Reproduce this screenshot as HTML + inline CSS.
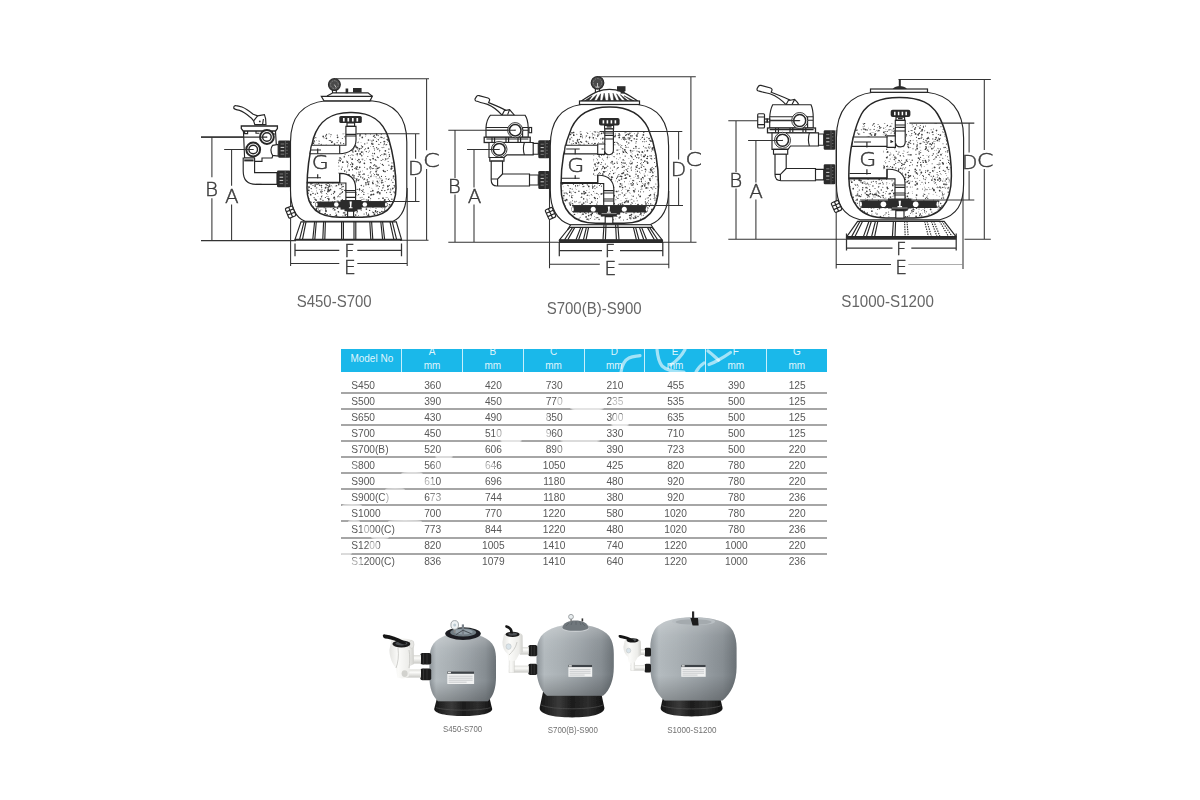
<!DOCTYPE html>
<html lang="en">
<head>
<meta charset="utf-8">
<title>Side mount sand filter - dimensions</title>
<style>
html,body{margin:0;padding:0;background:#fff;}
body{width:1200px;height:800px;position:relative;overflow:hidden;font-family:"Liberation Sans",Arial,sans-serif;}
svg.layer{position:absolute;left:0;top:0;width:1200px;height:800px;display:block;}
#dia{filter:blur(.35px);}
#spec{filter:blur(.3px);}
.ln{stroke:#262626;stroke-width:1.15;fill:none;stroke-linecap:butt;}
.dim{stroke:#333;stroke-width:1.05;fill:none;}
.dimb{stroke:#333;stroke-width:1.25;fill:none;}
.w{fill:#fff;stroke:#262626;stroke-width:1.15;}
.k{fill:#2b2b2b;stroke:none;}
.lt{font-family:"DejaVu Sans Light","DejaVu Sans","Liberation Sans",sans-serif;font-weight:200;fill:#3a3a3a;stroke:#3a3a3a;stroke-width:.45;}
.cap{font-family:"Liberation Sans",Arial,sans-serif;fill:#666;}
.sand circle{fill:#3c3c3c;}
/* table */
#spec{position:absolute;left:341px;top:349.2px;width:486px;border-collapse:collapse;border-spacing:0;table-layout:fixed;font-size:10.2px;color:#585858;}
#spec th{background:#1ab8ea;color:rgba(255,255,255,.88);font-weight:normal;height:23.1px;padding:0;font-size:10px;border-right:1px solid #c9effb;text-align:center;vertical-align:top;}
#spec th:last-child{border-right:none;}
#spec th div{height:23.1px;overflow:hidden;line-height:14px;}
#spec th div span{display:block;margin-top:-4.5px;}
#spec th.m div{text-align:left;padding-left:9.4px;line-height:12px;}
#spec th.m div span{margin-top:3.4px;}
#spec td{height:16.06px;padding:1.85px 0 0 1px;text-align:center;vertical-align:top;line-height:12px;box-sizing:border-box;border-bottom:2px solid #a6a6a6;}
#spec td:first-child{text-align:left;padding-left:10.2px;}
#spec tr.gap td{height:20.8px;padding-top:7.3px;}
#spec tr:last-child td{border-bottom:none;}
</style>
</head>
<body>
<svg id="dia" class="layer" viewBox="0 0 1200 800" width="1200" height="800">
<g id="d1">
<defs>
<clipPath id="cav1"><path d="M350,112.5 C330,112.5 319,121 313.5,138 C309,155 307,170 307,188 C307,207 318,217.3 340,217.3 L362,217.3 C385,217.3 396,207 396,188 C396,170 393.5,155 388.5,138 C383,121 372,112.5 352,112.5 Z"/></clipPath>
<clipPath id="snd1"><path d="M306,133.4 L345.7,133.4 L345.7,145.2 L306,145.2 Z M356.2,133.4 L398,133.4 L398,219 L306,219 L306,183 L345.7,183 C345.7,176 341,173.4 338.4,173.4 L338.4,153.7 C350,153.7 356.2,148 356.2,140 Z"/></clipPath>
</defs>
<!-- dimension lines -->
<path class="dim" d="M201,137.1 H267 M211.9,137.1 V177.2 M211.9,198.2 V240.6 M224.4,149.4 H253 M231.6,149.4 V185.8 M231.6,204.6 V240.6 M201,240.6 H296 M400,240.3 H428.5 M335.5,78.8 H429 M426.6,78.8 V150.3 M426.6,169 V240.3"/>
<path class="dim" d="M290.6,188 V266 M407.2,188 V266 M290.6,263.4 H339.3 M357.3,263.4 H407.2"/>
<path class="dimb" d="M295,243.5 V256.3 M401.5,243.5 V256.3 M295,250.3 H339.3 M357.3,250.3 H401.5"/>
<!-- tank shell -->
<path class="w" d="M326,100.8 C302,103 290.5,118 290.5,142 L290.5,190 C290.5,206 294.5,217 305,221.3 L393,221.3 C403,217 406.8,206 406.8,190 L406.8,142 C406.8,118 396,103 371,100.8 Z"/>
<path class="w" style="stroke-width:1.5" d="M350,112.5 C330,112.5 319,121 313.5,138 C309,155 307,170 307,188 C307,207 318,217.3 340,217.3 L362,217.3 C385,217.3 396,207 396,188 C396,170 393.5,155 388.5,138 C383,121 372,112.5 352,112.5 Z"/>
<g class="sand" clip-path="url(#cav1)"><g clip-path="url(#snd1)"><circle cx="318.2" cy="205.0" r="0.85"/><circle cx="311.7" cy="143.0" r="0.85"/><circle cx="346.9" cy="188.4" r="0.85"/><circle cx="325.1" cy="174.5" r="0.85"/><circle cx="341.5" cy="184.6" r="0.85"/><circle cx="306.2" cy="170.9" r="0.7"/><circle cx="379.0" cy="183.2" r="0.35"/><circle cx="388.0" cy="135.6" r="0.35"/><circle cx="365.1" cy="133.8" r="0.55"/><circle cx="368.5" cy="215.4" r="0.7"/><circle cx="308.6" cy="151.8" r="0.55"/><circle cx="391.5" cy="180.0" r="0.5"/><circle cx="327.0" cy="151.6" r="0.55"/><circle cx="392.7" cy="211.8" r="0.55"/><circle cx="382.2" cy="180.3" r="0.7"/><circle cx="315.1" cy="186.5" r="0.7"/><circle cx="384.3" cy="143.3" r="0.5"/><circle cx="387.5" cy="215.7" r="0.6"/><circle cx="391.2" cy="168.9" r="0.85"/><circle cx="388.8" cy="149.1" r="0.5"/><circle cx="359.5" cy="208.0" r="0.85"/><circle cx="391.6" cy="166.4" r="0.85"/><circle cx="309.1" cy="153.6" r="0.85"/><circle cx="342.8" cy="189.5" r="0.5"/><circle cx="355.9" cy="192.8" r="0.7"/><circle cx="373.2" cy="140.3" r="0.7"/><circle cx="352.3" cy="199.2" r="0.6"/><circle cx="382.4" cy="164.5" r="0.7"/><circle cx="308.7" cy="136.7" r="0.7"/><circle cx="383.2" cy="185.3" r="0.6"/><circle cx="341.8" cy="147.5" r="0.6"/><circle cx="326.7" cy="134.0" r="0.45"/><circle cx="355.1" cy="206.1" r="0.45"/><circle cx="342.8" cy="162.2" r="0.85"/><circle cx="358.6" cy="172.0" r="0.5"/><circle cx="366.0" cy="184.8" r="0.7"/><circle cx="306.5" cy="199.6" r="0.85"/><circle cx="392.9" cy="212.8" r="0.6"/><circle cx="379.6" cy="177.1" r="0.6"/><circle cx="324.7" cy="213.7" r="0.55"/><circle cx="385.2" cy="181.4" r="0.45"/><circle cx="391.6" cy="168.1" r="0.85"/><circle cx="338.5" cy="162.4" r="0.6"/><circle cx="355.1" cy="199.8" r="0.5"/><circle cx="347.7" cy="135.4" r="0.45"/><circle cx="363.8" cy="179.8" r="0.45"/><circle cx="384.4" cy="200.9" r="0.85"/><circle cx="383.5" cy="212.1" r="0.35"/><circle cx="382.6" cy="190.2" r="0.35"/><circle cx="385.0" cy="171.5" r="0.85"/><circle cx="374.8" cy="154.2" r="0.35"/><circle cx="378.6" cy="148.7" r="0.5"/><circle cx="312.3" cy="146.6" r="0.6"/><circle cx="392.6" cy="188.8" r="0.7"/><circle cx="370.8" cy="171.6" r="0.5"/><circle cx="351.2" cy="142.7" r="0.5"/><circle cx="341.2" cy="168.8" r="0.45"/><circle cx="329.5" cy="154.5" r="0.7"/><circle cx="352.4" cy="150.8" r="0.6"/><circle cx="345.3" cy="215.9" r="0.45"/><circle cx="307.6" cy="145.4" r="0.7"/><circle cx="393.4" cy="170.9" r="0.6"/><circle cx="367.7" cy="179.3" r="0.45"/><circle cx="394.9" cy="186.6" r="0.7"/><circle cx="353.0" cy="152.0" r="0.7"/><circle cx="308.8" cy="190.4" r="0.85"/><circle cx="335.2" cy="186.6" r="0.35"/><circle cx="373.1" cy="143.7" r="0.45"/><circle cx="385.7" cy="159.0" r="0.85"/><circle cx="313.0" cy="211.0" r="0.5"/><circle cx="373.7" cy="168.4" r="0.5"/><circle cx="317.9" cy="180.7" r="0.85"/><circle cx="309.5" cy="202.7" r="0.6"/><circle cx="347.9" cy="203.4" r="0.85"/><circle cx="394.6" cy="192.8" r="0.6"/><circle cx="309.4" cy="150.0" r="0.35"/><circle cx="324.7" cy="190.3" r="0.55"/><circle cx="359.8" cy="174.8" r="0.7"/><circle cx="341.5" cy="175.8" r="0.35"/><circle cx="335.6" cy="207.1" r="0.5"/><circle cx="307.6" cy="150.1" r="0.5"/><circle cx="379.8" cy="180.9" r="0.45"/><circle cx="336.9" cy="151.1" r="0.7"/><circle cx="314.8" cy="165.2" r="0.6"/><circle cx="337.3" cy="208.0" r="0.7"/><circle cx="354.6" cy="198.3" r="0.6"/><circle cx="327.4" cy="194.7" r="0.35"/><circle cx="318.1" cy="147.2" r="0.6"/><circle cx="325.4" cy="197.5" r="0.6"/><circle cx="352.0" cy="154.7" r="0.5"/><circle cx="337.0" cy="157.8" r="0.85"/><circle cx="391.9" cy="199.3" r="0.7"/><circle cx="386.7" cy="144.5" r="0.6"/><circle cx="376.1" cy="160.3" r="0.55"/><circle cx="312.7" cy="206.6" r="0.85"/><circle cx="319.4" cy="143.6" r="0.35"/><circle cx="362.0" cy="199.5" r="0.55"/><circle cx="313.0" cy="179.8" r="0.6"/><circle cx="313.4" cy="155.7" r="0.5"/><circle cx="357.4" cy="211.6" r="0.55"/><circle cx="387.6" cy="142.2" r="0.35"/><circle cx="381.3" cy="134.1" r="0.7"/><circle cx="307.3" cy="168.2" r="0.85"/><circle cx="386.5" cy="136.4" r="0.45"/><circle cx="377.5" cy="182.9" r="0.45"/><circle cx="316.5" cy="147.2" r="0.45"/><circle cx="320.5" cy="204.8" r="0.55"/><circle cx="388.9" cy="165.2" r="0.6"/><circle cx="388.7" cy="158.0" r="0.5"/><circle cx="370.8" cy="159.7" r="0.45"/><circle cx="365.3" cy="136.4" r="0.35"/><circle cx="377.6" cy="211.7" r="0.7"/><circle cx="360.3" cy="171.2" r="0.5"/><circle cx="342.3" cy="138.5" r="0.5"/><circle cx="394.3" cy="215.4" r="0.35"/><circle cx="328.8" cy="199.7" r="0.85"/><circle cx="395.2" cy="179.1" r="0.7"/><circle cx="348.7" cy="163.2" r="0.45"/><circle cx="355.3" cy="159.1" r="0.45"/><circle cx="338.8" cy="202.7" r="0.35"/><circle cx="395.5" cy="171.1" r="0.7"/><circle cx="358.3" cy="161.8" r="0.45"/><circle cx="341.5" cy="159.1" r="0.5"/><circle cx="323.0" cy="200.4" r="0.6"/><circle cx="387.3" cy="158.7" r="0.5"/><circle cx="315.2" cy="185.0" r="0.85"/><circle cx="360.2" cy="153.8" r="0.35"/><circle cx="379.6" cy="167.2" r="0.5"/><circle cx="356.2" cy="139.0" r="0.35"/><circle cx="308.0" cy="133.8" r="0.85"/><circle cx="378.1" cy="174.9" r="0.85"/><circle cx="384.2" cy="141.6" r="0.85"/><circle cx="378.3" cy="139.6" r="0.7"/><circle cx="321.8" cy="199.0" r="0.45"/><circle cx="380.8" cy="160.2" r="0.35"/><circle cx="370.5" cy="203.9" r="0.6"/><circle cx="332.7" cy="209.0" r="0.45"/><circle cx="355.6" cy="194.4" r="0.85"/><circle cx="334.8" cy="209.8" r="0.85"/><circle cx="367.2" cy="180.0" r="0.7"/><circle cx="395.8" cy="150.5" r="0.5"/><circle cx="345.4" cy="146.4" r="0.7"/><circle cx="384.5" cy="154.0" r="0.85"/><circle cx="311.9" cy="214.9" r="0.85"/><circle cx="345.1" cy="154.3" r="0.55"/><circle cx="383.5" cy="171.5" r="0.55"/><circle cx="382.1" cy="147.6" r="0.55"/><circle cx="308.2" cy="187.9" r="0.55"/><circle cx="394.8" cy="134.6" r="0.7"/><circle cx="338.3" cy="144.8" r="0.45"/><circle cx="318.6" cy="216.6" r="0.5"/><circle cx="342.2" cy="167.1" r="0.6"/><circle cx="314.1" cy="174.3" r="0.45"/><circle cx="354.1" cy="175.6" r="0.7"/><circle cx="389.8" cy="212.1" r="0.7"/><circle cx="372.6" cy="153.3" r="0.55"/><circle cx="368.5" cy="214.3" r="0.7"/><circle cx="343.5" cy="180.6" r="0.7"/><circle cx="389.5" cy="156.4" r="0.7"/><circle cx="326.0" cy="211.3" r="0.85"/><circle cx="352.6" cy="207.6" r="0.45"/><circle cx="352.6" cy="200.4" r="0.45"/><circle cx="334.4" cy="191.9" r="0.85"/><circle cx="356.3" cy="147.0" r="0.7"/><circle cx="373.0" cy="183.5" r="0.85"/><circle cx="317.2" cy="184.5" r="0.6"/><circle cx="358.0" cy="148.0" r="0.5"/><circle cx="344.8" cy="213.0" r="0.7"/><circle cx="375.0" cy="137.4" r="0.7"/><circle cx="341.8" cy="187.1" r="0.55"/><circle cx="352.9" cy="147.0" r="0.7"/><circle cx="396.5" cy="177.6" r="0.35"/><circle cx="379.5" cy="186.4" r="0.5"/><circle cx="373.1" cy="140.1" r="0.45"/><circle cx="394.2" cy="185.4" r="0.7"/><circle cx="368.5" cy="140.0" r="0.85"/><circle cx="390.1" cy="215.6" r="0.55"/><circle cx="391.5" cy="209.8" r="0.55"/><circle cx="321.0" cy="160.7" r="0.45"/><circle cx="362.6" cy="174.5" r="0.45"/><circle cx="316.8" cy="184.1" r="0.55"/><circle cx="388.7" cy="189.1" r="0.5"/><circle cx="328.6" cy="196.7" r="0.35"/><circle cx="393.3" cy="177.9" r="0.6"/><circle cx="307.9" cy="186.3" r="0.6"/><circle cx="328.0" cy="155.1" r="0.45"/><circle cx="331.9" cy="179.1" r="0.5"/><circle cx="334.3" cy="197.4" r="0.85"/><circle cx="368.2" cy="200.2" r="0.85"/><circle cx="383.8" cy="147.3" r="0.5"/><circle cx="350.7" cy="205.7" r="0.85"/><circle cx="325.0" cy="207.7" r="0.45"/><circle cx="331.8" cy="142.2" r="0.85"/><circle cx="308.2" cy="181.4" r="0.35"/><circle cx="355.6" cy="215.0" r="0.85"/><circle cx="371.9" cy="188.2" r="0.35"/><circle cx="351.5" cy="181.7" r="0.5"/><circle cx="345.8" cy="190.6" r="0.85"/><circle cx="354.1" cy="133.1" r="0.55"/><circle cx="371.3" cy="162.8" r="0.6"/><circle cx="342.3" cy="199.6" r="0.7"/><circle cx="358.0" cy="142.6" r="0.55"/><circle cx="340.8" cy="180.3" r="0.5"/><circle cx="363.8" cy="194.4" r="0.7"/><circle cx="381.5" cy="176.4" r="0.55"/><circle cx="360.7" cy="176.9" r="0.7"/><circle cx="370.8" cy="216.9" r="0.7"/><circle cx="321.5" cy="185.7" r="0.6"/><circle cx="324.0" cy="177.7" r="0.7"/><circle cx="341.4" cy="169.2" r="0.55"/><circle cx="336.6" cy="185.8" r="0.7"/><circle cx="369.7" cy="215.2" r="0.35"/><circle cx="350.8" cy="196.4" r="0.7"/><circle cx="394.0" cy="157.7" r="0.35"/><circle cx="343.0" cy="186.5" r="0.7"/><circle cx="376.9" cy="166.8" r="0.5"/><circle cx="383.0" cy="198.2" r="0.85"/><circle cx="376.6" cy="133.9" r="0.5"/><circle cx="378.6" cy="167.9" r="0.7"/><circle cx="355.5" cy="145.9" r="0.85"/><circle cx="329.6" cy="147.4" r="0.6"/><circle cx="310.1" cy="176.4" r="0.7"/><circle cx="359.7" cy="138.9" r="0.35"/><circle cx="365.8" cy="134.7" r="0.6"/><circle cx="370.6" cy="146.7" r="0.35"/><circle cx="342.6" cy="191.6" r="0.6"/><circle cx="333.7" cy="177.9" r="0.45"/><circle cx="386.6" cy="155.9" r="0.35"/><circle cx="369.6" cy="210.4" r="0.7"/><circle cx="339.5" cy="176.5" r="0.7"/><circle cx="310.5" cy="158.2" r="0.7"/><circle cx="370.9" cy="202.3" r="0.5"/><circle cx="338.4" cy="195.9" r="0.55"/><circle cx="357.1" cy="147.7" r="0.85"/><circle cx="329.6" cy="184.9" r="0.7"/><circle cx="326.2" cy="214.9" r="0.7"/><circle cx="328.2" cy="189.2" r="0.85"/><circle cx="387.8" cy="185.9" r="0.5"/><circle cx="390.4" cy="212.3" r="0.45"/><circle cx="377.5" cy="149.1" r="0.7"/><circle cx="372.6" cy="207.0" r="0.6"/><circle cx="346.4" cy="210.6" r="0.7"/><circle cx="319.5" cy="213.4" r="0.55"/><circle cx="353.9" cy="144.8" r="0.45"/><circle cx="387.3" cy="170.5" r="0.5"/><circle cx="374.4" cy="153.4" r="0.7"/><circle cx="324.8" cy="190.9" r="0.35"/><circle cx="315.7" cy="166.7" r="0.55"/><circle cx="390.5" cy="214.2" r="0.35"/><circle cx="311.0" cy="183.8" r="0.85"/><circle cx="325.7" cy="136.0" r="0.7"/><circle cx="354.1" cy="194.5" r="0.6"/><circle cx="346.2" cy="189.3" r="0.5"/><circle cx="316.7" cy="191.9" r="0.35"/><circle cx="326.2" cy="152.8" r="0.55"/><circle cx="340.4" cy="147.3" r="0.45"/><circle cx="327.5" cy="157.1" r="0.6"/><circle cx="358.8" cy="151.0" r="0.7"/><circle cx="329.5" cy="175.2" r="0.35"/><circle cx="388.8" cy="217.5" r="0.35"/><circle cx="307.4" cy="133.4" r="0.55"/><circle cx="335.1" cy="165.6" r="0.6"/><circle cx="332.1" cy="149.7" r="0.45"/><circle cx="386.1" cy="197.5" r="0.45"/><circle cx="378.2" cy="135.6" r="0.55"/><circle cx="319.2" cy="189.5" r="0.35"/><circle cx="357.4" cy="154.6" r="0.35"/><circle cx="348.1" cy="204.4" r="0.35"/><circle cx="309.2" cy="138.2" r="0.85"/><circle cx="317.7" cy="212.3" r="0.85"/><circle cx="316.7" cy="140.7" r="0.35"/><circle cx="351.5" cy="144.1" r="0.5"/><circle cx="368.5" cy="204.9" r="0.7"/><circle cx="346.7" cy="161.0" r="0.5"/><circle cx="394.2" cy="187.5" r="0.45"/><circle cx="328.3" cy="183.0" r="0.85"/><circle cx="359.7" cy="162.7" r="0.6"/><circle cx="369.5" cy="187.3" r="0.35"/><circle cx="388.4" cy="179.5" r="0.6"/><circle cx="324.1" cy="207.8" r="0.55"/><circle cx="389.7" cy="139.0" r="0.5"/><circle cx="373.6" cy="194.3" r="0.85"/><circle cx="312.6" cy="148.1" r="0.35"/><circle cx="319.7" cy="211.1" r="0.85"/><circle cx="345.0" cy="136.8" r="0.7"/><circle cx="314.3" cy="202.1" r="0.55"/><circle cx="351.6" cy="141.4" r="0.5"/><circle cx="309.7" cy="178.2" r="0.55"/><circle cx="366.4" cy="209.1" r="0.85"/><circle cx="370.4" cy="208.0" r="0.35"/><circle cx="373.0" cy="155.9" r="0.5"/><circle cx="378.8" cy="140.3" r="0.35"/><circle cx="384.2" cy="137.9" r="0.5"/><circle cx="334.5" cy="144.1" r="0.85"/><circle cx="340.6" cy="143.0" r="0.7"/><circle cx="333.6" cy="169.1" r="0.45"/><circle cx="351.7" cy="150.5" r="0.5"/><circle cx="352.3" cy="166.2" r="0.6"/><circle cx="349.8" cy="144.0" r="0.85"/><circle cx="346.8" cy="217.0" r="0.7"/><circle cx="382.8" cy="182.4" r="0.6"/><circle cx="354.7" cy="209.2" r="0.85"/><circle cx="396.2" cy="196.2" r="0.45"/><circle cx="339.7" cy="177.3" r="0.35"/><circle cx="343.3" cy="143.7" r="0.35"/><circle cx="310.0" cy="202.3" r="0.7"/><circle cx="354.6" cy="168.5" r="0.5"/><circle cx="338.1" cy="160.6" r="0.7"/><circle cx="353.3" cy="133.7" r="0.35"/><circle cx="319.5" cy="210.7" r="0.5"/><circle cx="377.4" cy="181.7" r="0.55"/><circle cx="395.1" cy="173.8" r="0.5"/><circle cx="390.4" cy="215.4" r="0.85"/><circle cx="387.0" cy="139.6" r="0.6"/><circle cx="378.9" cy="144.4" r="0.6"/><circle cx="350.8" cy="205.5" r="0.5"/><circle cx="377.3" cy="192.7" r="0.7"/><circle cx="336.8" cy="217.2" r="0.85"/><circle cx="364.6" cy="167.2" r="0.55"/><circle cx="360.4" cy="161.9" r="0.6"/><circle cx="321.3" cy="145.6" r="0.7"/><circle cx="326.1" cy="144.3" r="0.35"/><circle cx="322.8" cy="167.9" r="0.7"/><circle cx="362.4" cy="202.0" r="0.6"/><circle cx="368.0" cy="193.7" r="0.45"/><circle cx="329.8" cy="186.7" r="0.6"/><circle cx="364.3" cy="205.7" r="0.85"/><circle cx="383.4" cy="187.7" r="0.45"/><circle cx="352.5" cy="169.7" r="0.6"/><circle cx="339.5" cy="205.0" r="0.7"/><circle cx="379.5" cy="151.7" r="0.45"/><circle cx="360.4" cy="206.6" r="0.45"/><circle cx="344.7" cy="190.4" r="0.6"/><circle cx="389.0" cy="149.1" r="0.55"/><circle cx="372.0" cy="202.2" r="0.5"/><circle cx="343.1" cy="133.7" r="0.6"/><circle cx="376.1" cy="176.7" r="0.55"/><circle cx="313.0" cy="185.3" r="0.6"/><circle cx="378.5" cy="182.7" r="0.35"/><circle cx="338.0" cy="217.0" r="0.35"/><circle cx="323.3" cy="158.4" r="0.7"/><circle cx="364.4" cy="179.0" r="0.85"/><circle cx="333.5" cy="208.4" r="0.7"/><circle cx="334.7" cy="199.0" r="0.7"/><circle cx="358.0" cy="179.9" r="0.6"/><circle cx="343.4" cy="212.9" r="0.6"/><circle cx="343.2" cy="186.5" r="0.5"/><circle cx="347.2" cy="144.1" r="0.55"/><circle cx="359.4" cy="179.7" r="0.45"/><circle cx="329.0" cy="133.8" r="0.55"/><circle cx="373.0" cy="181.1" r="0.5"/><circle cx="344.3" cy="156.9" r="0.7"/><circle cx="387.5" cy="189.9" r="0.35"/><circle cx="390.2" cy="204.9" r="0.55"/><circle cx="330.5" cy="156.1" r="0.85"/><circle cx="339.9" cy="196.7" r="0.55"/><circle cx="375.9" cy="166.0" r="0.85"/><circle cx="316.6" cy="163.1" r="0.55"/><circle cx="319.5" cy="217.6" r="0.85"/><circle cx="329.7" cy="205.9" r="0.6"/><circle cx="377.5" cy="213.7" r="0.55"/><circle cx="329.5" cy="176.7" r="0.7"/><circle cx="344.3" cy="156.3" r="0.5"/><circle cx="376.7" cy="174.3" r="0.7"/><circle cx="381.5" cy="213.7" r="0.55"/><circle cx="371.2" cy="140.8" r="0.45"/><circle cx="324.8" cy="145.7" r="0.7"/><circle cx="308.4" cy="154.5" r="0.55"/><circle cx="376.5" cy="141.4" r="0.7"/><circle cx="371.8" cy="203.9" r="0.35"/><circle cx="344.9" cy="214.2" r="0.35"/><circle cx="356.0" cy="178.4" r="0.5"/><circle cx="310.3" cy="188.4" r="0.35"/><circle cx="372.8" cy="190.7" r="0.85"/><circle cx="367.1" cy="143.1" r="0.5"/><circle cx="368.3" cy="148.2" r="0.85"/><circle cx="378.2" cy="205.9" r="0.85"/><circle cx="325.5" cy="187.8" r="0.85"/><circle cx="341.5" cy="189.8" r="0.5"/><circle cx="368.1" cy="175.3" r="0.55"/><circle cx="316.6" cy="205.6" r="0.35"/><circle cx="319.6" cy="185.2" r="0.7"/><circle cx="324.3" cy="177.3" r="0.55"/><circle cx="373.6" cy="212.5" r="0.6"/><circle cx="332.3" cy="174.9" r="0.85"/><circle cx="355.6" cy="151.2" r="0.85"/><circle cx="362.7" cy="206.2" r="0.35"/><circle cx="306.8" cy="217.1" r="0.7"/><circle cx="337.6" cy="208.2" r="0.7"/><circle cx="330.3" cy="178.9" r="0.55"/><circle cx="333.3" cy="209.9" r="0.35"/><circle cx="326.8" cy="156.3" r="0.7"/><circle cx="328.4" cy="145.6" r="0.5"/><circle cx="323.8" cy="180.7" r="0.6"/><circle cx="388.2" cy="138.0" r="0.85"/><circle cx="361.4" cy="145.7" r="0.55"/><circle cx="330.6" cy="173.8" r="0.5"/><circle cx="330.3" cy="151.2" r="0.5"/><circle cx="360.5" cy="153.5" r="0.45"/><circle cx="361.1" cy="148.4" r="0.6"/><circle cx="369.2" cy="178.5" r="0.35"/><circle cx="351.9" cy="177.9" r="0.45"/><circle cx="364.7" cy="202.0" r="0.45"/><circle cx="334.7" cy="175.0" r="0.5"/><circle cx="316.8" cy="208.4" r="0.7"/><circle cx="329.3" cy="140.5" r="0.6"/><circle cx="381.4" cy="137.3" r="0.45"/><circle cx="368.3" cy="152.2" r="0.45"/><circle cx="351.8" cy="189.1" r="0.5"/><circle cx="344.4" cy="133.4" r="0.35"/><circle cx="380.8" cy="202.9" r="0.45"/><circle cx="313.7" cy="152.1" r="0.7"/><circle cx="362.9" cy="206.2" r="0.5"/><circle cx="360.7" cy="177.1" r="0.35"/><circle cx="317.1" cy="162.5" r="0.35"/><circle cx="328.8" cy="198.4" r="0.7"/><circle cx="358.2" cy="162.5" r="0.35"/><circle cx="372.0" cy="141.8" r="0.5"/><circle cx="328.7" cy="178.0" r="0.5"/><circle cx="308.8" cy="144.8" r="0.55"/><circle cx="339.9" cy="194.2" r="0.7"/><circle cx="328.0" cy="190.8" r="0.5"/><circle cx="306.7" cy="208.5" r="0.35"/><circle cx="338.1" cy="201.3" r="0.7"/><circle cx="371.9" cy="143.7" r="0.85"/><circle cx="330.7" cy="140.7" r="0.6"/><circle cx="362.5" cy="177.9" r="0.6"/><circle cx="344.1" cy="212.4" r="0.5"/><circle cx="387.7" cy="186.8" r="0.6"/><circle cx="318.1" cy="184.0" r="0.35"/><circle cx="321.9" cy="151.3" r="0.55"/><circle cx="331.0" cy="134.7" r="0.6"/><circle cx="330.7" cy="178.1" r="0.55"/><circle cx="317.5" cy="193.3" r="0.7"/><circle cx="340.0" cy="188.6" r="0.6"/><circle cx="339.0" cy="180.2" r="0.85"/><circle cx="371.8" cy="191.2" r="0.35"/><circle cx="362.3" cy="170.9" r="0.45"/><circle cx="320.2" cy="210.6" r="0.45"/><circle cx="367.6" cy="203.3" r="0.55"/><circle cx="382.6" cy="205.1" r="0.5"/><circle cx="339.2" cy="157.8" r="0.45"/><circle cx="383.3" cy="165.4" r="0.55"/><circle cx="342.9" cy="216.0" r="0.45"/><circle cx="330.5" cy="189.7" r="0.85"/><circle cx="364.1" cy="214.0" r="0.6"/><circle cx="392.7" cy="211.2" r="0.7"/><circle cx="318.1" cy="196.5" r="0.35"/><circle cx="347.8" cy="199.2" r="0.6"/><circle cx="367.8" cy="156.5" r="0.5"/><circle cx="343.2" cy="184.5" r="0.35"/><circle cx="315.0" cy="199.2" r="0.7"/><circle cx="370.1" cy="133.1" r="0.35"/><circle cx="381.7" cy="182.9" r="0.6"/><circle cx="352.2" cy="163.3" r="0.5"/><circle cx="377.2" cy="181.3" r="0.7"/><circle cx="338.4" cy="173.3" r="0.7"/><circle cx="328.3" cy="201.7" r="0.45"/><circle cx="315.6" cy="213.9" r="0.85"/><circle cx="320.4" cy="199.0" r="0.7"/><circle cx="334.5" cy="207.8" r="0.5"/><circle cx="329.1" cy="186.2" r="0.85"/><circle cx="389.3" cy="185.4" r="0.55"/><circle cx="340.2" cy="158.0" r="0.85"/><circle cx="337.1" cy="200.8" r="0.45"/><circle cx="363.8" cy="177.1" r="0.35"/><circle cx="337.1" cy="142.6" r="0.6"/><circle cx="321.7" cy="187.6" r="0.55"/><circle cx="387.4" cy="197.4" r="0.35"/><circle cx="394.7" cy="134.8" r="0.45"/><circle cx="340.9" cy="203.9" r="0.45"/><circle cx="342.1" cy="152.4" r="0.45"/><circle cx="336.5" cy="215.4" r="0.7"/><circle cx="328.3" cy="190.5" r="0.7"/><circle cx="348.9" cy="174.9" r="0.85"/><circle cx="366.3" cy="212.6" r="0.55"/><circle cx="346.1" cy="179.1" r="0.6"/><circle cx="350.4" cy="155.6" r="0.45"/><circle cx="319.6" cy="165.0" r="0.35"/><circle cx="378.7" cy="188.5" r="0.45"/><circle cx="347.8" cy="165.0" r="0.6"/><circle cx="378.6" cy="157.5" r="0.45"/><circle cx="320.0" cy="177.6" r="0.35"/><circle cx="392.2" cy="134.6" r="0.55"/><circle cx="379.8" cy="192.9" r="0.85"/><circle cx="389.1" cy="178.7" r="0.55"/><circle cx="396.2" cy="179.3" r="0.45"/><circle cx="395.4" cy="210.1" r="0.7"/><circle cx="322.3" cy="189.3" r="0.35"/><circle cx="376.5" cy="212.5" r="0.45"/><circle cx="322.0" cy="182.8" r="0.6"/><circle cx="325.7" cy="153.0" r="0.35"/><circle cx="391.2" cy="194.6" r="0.7"/><circle cx="351.9" cy="185.0" r="0.6"/><circle cx="313.0" cy="166.8" r="0.55"/><circle cx="316.8" cy="187.7" r="0.55"/><circle cx="314.2" cy="141.0" r="0.85"/><circle cx="349.6" cy="216.1" r="0.45"/><circle cx="376.7" cy="134.8" r="0.85"/><circle cx="334.4" cy="156.6" r="0.55"/><circle cx="321.2" cy="144.3" r="0.6"/><circle cx="370.4" cy="160.1" r="0.6"/><circle cx="363.9" cy="217.3" r="0.85"/><circle cx="344.0" cy="147.2" r="0.55"/><circle cx="369.6" cy="201.7" r="0.55"/><circle cx="380.3" cy="163.6" r="0.45"/><circle cx="329.6" cy="156.8" r="0.45"/><circle cx="377.0" cy="185.9" r="0.7"/><circle cx="338.8" cy="211.9" r="0.5"/><circle cx="329.2" cy="162.7" r="0.5"/><circle cx="357.5" cy="134.1" r="0.45"/><circle cx="393.3" cy="152.2" r="0.35"/><circle cx="379.0" cy="178.7" r="0.45"/><circle cx="355.4" cy="193.9" r="0.45"/><circle cx="358.6" cy="180.1" r="0.55"/><circle cx="370.7" cy="140.0" r="0.35"/><circle cx="319.9" cy="189.7" r="0.35"/><circle cx="373.9" cy="165.5" r="0.7"/><circle cx="318.5" cy="183.7" r="0.7"/><circle cx="355.0" cy="139.3" r="0.45"/><circle cx="383.3" cy="144.9" r="0.45"/><circle cx="366.2" cy="216.9" r="0.5"/><circle cx="374.2" cy="148.2" r="0.5"/><circle cx="370.5" cy="162.6" r="0.6"/><circle cx="332.6" cy="176.7" r="0.5"/><circle cx="325.0" cy="172.4" r="0.5"/><circle cx="378.8" cy="185.9" r="0.35"/><circle cx="362.0" cy="197.2" r="0.5"/><circle cx="362.3" cy="137.4" r="0.85"/><circle cx="334.7" cy="202.0" r="0.7"/><circle cx="380.8" cy="142.6" r="0.55"/><circle cx="363.6" cy="153.9" r="0.45"/><circle cx="351.9" cy="166.7" r="0.7"/><circle cx="325.3" cy="213.5" r="0.7"/><circle cx="390.0" cy="144.4" r="0.7"/><circle cx="358.6" cy="194.6" r="0.7"/><circle cx="317.0" cy="150.1" r="0.85"/><circle cx="357.2" cy="189.4" r="0.6"/><circle cx="361.8" cy="155.8" r="0.7"/><circle cx="321.3" cy="190.0" r="0.6"/><circle cx="351.8" cy="205.7" r="0.5"/><circle cx="376.0" cy="168.8" r="0.5"/><circle cx="351.0" cy="189.9" r="0.85"/><circle cx="317.8" cy="180.6" r="0.55"/><circle cx="374.6" cy="174.5" r="0.55"/><circle cx="380.9" cy="178.8" r="0.5"/><circle cx="388.6" cy="141.0" r="0.7"/><circle cx="373.9" cy="204.9" r="0.85"/><circle cx="346.2" cy="214.3" r="0.6"/><circle cx="351.7" cy="205.0" r="0.55"/><circle cx="353.5" cy="149.8" r="0.5"/><circle cx="365.9" cy="182.8" r="0.85"/><circle cx="376.7" cy="138.5" r="0.35"/><circle cx="347.7" cy="203.9" r="0.45"/><circle cx="387.1" cy="205.6" r="0.5"/><circle cx="348.7" cy="182.6" r="0.35"/><circle cx="396.1" cy="204.0" r="0.55"/><circle cx="314.4" cy="167.0" r="0.6"/><circle cx="382.6" cy="187.9" r="0.55"/><circle cx="330.4" cy="162.9" r="0.35"/><circle cx="356.2" cy="210.3" r="0.55"/><circle cx="307.6" cy="158.9" r="0.7"/><circle cx="334.9" cy="145.7" r="0.6"/><circle cx="356.6" cy="217.7" r="0.35"/><circle cx="384.7" cy="199.9" r="0.85"/><circle cx="338.8" cy="166.2" r="0.6"/><circle cx="378.0" cy="181.9" r="0.35"/><circle cx="309.4" cy="178.0" r="0.35"/><circle cx="388.1" cy="161.6" r="0.5"/><circle cx="374.3" cy="135.9" r="0.5"/><circle cx="359.0" cy="174.2" r="0.7"/><circle cx="313.6" cy="178.9" r="0.5"/><circle cx="351.5" cy="201.9" r="0.35"/><circle cx="390.0" cy="210.3" r="0.5"/><circle cx="325.5" cy="209.2" r="0.45"/><circle cx="359.7" cy="167.3" r="0.85"/><circle cx="352.3" cy="202.8" r="0.5"/><circle cx="383.5" cy="184.8" r="0.35"/><circle cx="370.7" cy="198.2" r="0.45"/><circle cx="380.6" cy="155.6" r="0.55"/><circle cx="356.1" cy="181.8" r="0.6"/><circle cx="313.6" cy="193.2" r="0.5"/><circle cx="343.7" cy="143.7" r="0.6"/><circle cx="372.1" cy="155.3" r="0.45"/><circle cx="315.0" cy="194.3" r="0.35"/><circle cx="373.1" cy="158.6" r="0.85"/><circle cx="379.8" cy="150.3" r="0.6"/><circle cx="312.8" cy="159.8" r="0.5"/><circle cx="384.2" cy="144.3" r="0.55"/><circle cx="380.1" cy="200.9" r="0.35"/><circle cx="308.6" cy="159.8" r="0.7"/><circle cx="320.9" cy="180.3" r="0.7"/><circle cx="359.5" cy="189.4" r="0.85"/><circle cx="353.9" cy="148.7" r="0.45"/><circle cx="327.2" cy="182.9" r="0.6"/><circle cx="352.1" cy="194.3" r="0.55"/><circle cx="323.9" cy="137.7" r="0.55"/><circle cx="336.5" cy="214.9" r="0.7"/><circle cx="338.3" cy="211.7" r="0.7"/><circle cx="306.9" cy="216.4" r="0.35"/><circle cx="321.0" cy="209.4" r="0.35"/><circle cx="306.8" cy="198.0" r="0.35"/><circle cx="353.7" cy="147.7" r="0.6"/><circle cx="324.2" cy="170.7" r="0.45"/><circle cx="350.6" cy="164.6" r="0.55"/><circle cx="391.9" cy="139.2" r="0.6"/><circle cx="322.5" cy="191.2" r="0.5"/><circle cx="392.9" cy="182.4" r="0.6"/><circle cx="349.1" cy="135.0" r="0.35"/><circle cx="390.6" cy="189.0" r="0.6"/><circle cx="366.5" cy="213.9" r="0.55"/><circle cx="381.3" cy="182.5" r="0.5"/><circle cx="312.7" cy="168.7" r="0.7"/><circle cx="352.8" cy="175.0" r="0.85"/><circle cx="381.7" cy="180.9" r="0.6"/><circle cx="391.5" cy="205.7" r="0.6"/><circle cx="367.9" cy="181.9" r="0.85"/><circle cx="375.9" cy="184.3" r="0.45"/><circle cx="381.7" cy="190.4" r="0.6"/><circle cx="333.4" cy="198.0" r="0.55"/><circle cx="361.3" cy="155.0" r="0.5"/><circle cx="307.3" cy="197.4" r="0.85"/><circle cx="347.6" cy="208.8" r="0.45"/><circle cx="352.2" cy="150.8" r="0.55"/><circle cx="390.2" cy="192.2" r="0.7"/><circle cx="319.2" cy="206.3" r="0.35"/><circle cx="364.4" cy="163.3" r="0.85"/><circle cx="389.3" cy="154.7" r="0.6"/><circle cx="373.5" cy="159.0" r="0.35"/><circle cx="335.5" cy="159.2" r="0.85"/><circle cx="381.0" cy="137.2" r="0.7"/><circle cx="313.4" cy="143.2" r="0.85"/><circle cx="364.7" cy="143.9" r="0.7"/><circle cx="332.8" cy="167.8" r="0.5"/><circle cx="327.2" cy="214.8" r="0.7"/><circle cx="368.8" cy="197.2" r="0.85"/><circle cx="351.9" cy="181.8" r="0.5"/><circle cx="333.5" cy="165.1" r="0.6"/><circle cx="394.5" cy="201.9" r="0.85"/><circle cx="312.8" cy="149.9" r="0.45"/><circle cx="361.3" cy="185.5" r="0.7"/><circle cx="326.4" cy="193.6" r="0.55"/><circle cx="325.1" cy="145.9" r="0.5"/><circle cx="373.7" cy="207.7" r="0.35"/><circle cx="370.9" cy="191.4" r="0.55"/><circle cx="351.3" cy="190.4" r="0.35"/><circle cx="396.3" cy="170.1" r="0.5"/><circle cx="385.6" cy="176.6" r="0.5"/><circle cx="391.5" cy="142.5" r="0.7"/><circle cx="332.6" cy="179.6" r="0.5"/><circle cx="345.1" cy="204.6" r="0.85"/><circle cx="313.9" cy="174.8" r="0.6"/><circle cx="326.1" cy="184.5" r="0.7"/><circle cx="374.2" cy="217.1" r="0.5"/><circle cx="345.7" cy="199.7" r="0.35"/><circle cx="315.3" cy="176.8" r="0.6"/><circle cx="320.8" cy="157.8" r="0.35"/><circle cx="395.0" cy="138.8" r="0.35"/><circle cx="367.2" cy="169.0" r="0.7"/><circle cx="383.6" cy="138.6" r="0.35"/><circle cx="309.2" cy="161.8" r="0.85"/><circle cx="307.7" cy="133.7" r="0.45"/><circle cx="348.7" cy="155.6" r="0.6"/><circle cx="356.1" cy="154.4" r="0.45"/><circle cx="322.6" cy="166.3" r="0.35"/><circle cx="327.7" cy="180.2" r="0.55"/><circle cx="309.2" cy="160.8" r="0.35"/><circle cx="307.5" cy="148.7" r="0.7"/><circle cx="314.5" cy="148.7" r="0.45"/><circle cx="322.1" cy="210.0" r="0.35"/><circle cx="311.4" cy="159.7" r="0.7"/><circle cx="319.3" cy="203.8" r="0.45"/><circle cx="327.0" cy="196.5" r="0.5"/><circle cx="311.3" cy="140.6" r="0.45"/><circle cx="378.2" cy="189.5" r="0.35"/><circle cx="311.2" cy="137.6" r="0.7"/><circle cx="316.6" cy="214.0" r="0.85"/><circle cx="373.6" cy="212.8" r="0.7"/><circle cx="328.9" cy="168.9" r="0.45"/><circle cx="371.8" cy="194.5" r="0.85"/><circle cx="323.7" cy="162.7" r="0.55"/><circle cx="375.6" cy="211.4" r="0.85"/><circle cx="362.0" cy="206.5" r="0.55"/><circle cx="314.1" cy="212.2" r="0.85"/><circle cx="381.5" cy="207.6" r="0.45"/><circle cx="361.0" cy="142.7" r="0.35"/><circle cx="376.3" cy="170.1" r="0.5"/><circle cx="354.4" cy="211.3" r="0.5"/><circle cx="374.7" cy="164.5" r="0.55"/><circle cx="339.2" cy="159.9" r="0.55"/><circle cx="352.5" cy="164.5" r="0.5"/><circle cx="321.3" cy="181.2" r="0.85"/><circle cx="355.9" cy="194.8" r="0.45"/><circle cx="347.6" cy="186.3" r="0.45"/><circle cx="320.7" cy="202.1" r="0.5"/><circle cx="327.4" cy="187.8" r="0.45"/><circle cx="331.2" cy="173.2" r="0.35"/><circle cx="345.0" cy="179.7" r="0.55"/><circle cx="389.4" cy="204.8" r="0.7"/><circle cx="334.7" cy="191.2" r="0.55"/><circle cx="354.6" cy="216.7" r="0.7"/><circle cx="392.9" cy="188.2" r="0.7"/><circle cx="393.6" cy="176.2" r="0.85"/><circle cx="338.3" cy="205.4" r="0.6"/><circle cx="363.1" cy="189.6" r="0.5"/><circle cx="365.5" cy="148.7" r="0.55"/><circle cx="309.0" cy="156.0" r="0.6"/><circle cx="370.8" cy="200.9" r="0.35"/><circle cx="328.5" cy="205.1" r="0.5"/><circle cx="357.3" cy="153.8" r="0.85"/><circle cx="310.5" cy="213.1" r="0.7"/><circle cx="357.7" cy="149.6" r="0.45"/><circle cx="326.3" cy="176.0" r="0.5"/><circle cx="318.8" cy="152.4" r="0.5"/><circle cx="358.2" cy="176.3" r="0.6"/><circle cx="360.6" cy="206.4" r="0.85"/><circle cx="345.3" cy="207.1" r="0.6"/><circle cx="352.6" cy="148.5" r="0.85"/><circle cx="338.4" cy="169.8" r="0.35"/><circle cx="331.2" cy="152.5" r="0.45"/><circle cx="318.2" cy="150.7" r="0.45"/><circle cx="350.2" cy="148.6" r="0.85"/><circle cx="338.8" cy="184.8" r="0.7"/><circle cx="369.3" cy="151.0" r="0.55"/><circle cx="364.6" cy="149.7" r="0.5"/><circle cx="321.0" cy="191.8" r="0.85"/><circle cx="367.0" cy="216.8" r="0.35"/><circle cx="325.8" cy="208.6" r="0.6"/><circle cx="309.3" cy="137.5" r="0.5"/><circle cx="351.5" cy="162.7" r="0.55"/><circle cx="312.2" cy="160.1" r="0.7"/><circle cx="390.9" cy="189.9" r="0.5"/><circle cx="361.1" cy="208.7" r="0.6"/><circle cx="314.2" cy="161.7" r="0.85"/><circle cx="312.5" cy="138.3" r="0.7"/><circle cx="364.8" cy="160.5" r="0.45"/><circle cx="388.7" cy="152.2" r="0.5"/><circle cx="381.9" cy="154.5" r="0.5"/><circle cx="392.6" cy="168.4" r="0.35"/><circle cx="332.8" cy="186.9" r="0.35"/><circle cx="316.5" cy="169.6" r="0.6"/><circle cx="325.8" cy="163.3" r="0.7"/><circle cx="371.4" cy="175.0" r="0.5"/><circle cx="361.4" cy="190.4" r="0.5"/><circle cx="319.0" cy="141.0" r="0.5"/><circle cx="353.5" cy="181.2" r="0.85"/><circle cx="323.5" cy="216.5" r="0.45"/><circle cx="381.8" cy="215.5" r="0.45"/><circle cx="309.4" cy="187.4" r="0.35"/><circle cx="373.4" cy="136.3" r="0.6"/><circle cx="348.9" cy="174.2" r="0.5"/><circle cx="389.4" cy="200.6" r="0.6"/><circle cx="370.4" cy="166.8" r="0.55"/><circle cx="356.3" cy="180.8" r="0.7"/><circle cx="347.0" cy="183.4" r="0.5"/><circle cx="310.7" cy="194.7" r="0.85"/><circle cx="338.1" cy="153.2" r="0.7"/><circle cx="366.3" cy="158.8" r="0.35"/><circle cx="346.2" cy="207.1" r="0.45"/><circle cx="320.7" cy="170.6" r="0.85"/><circle cx="310.1" cy="163.9" r="0.5"/><circle cx="394.3" cy="147.7" r="0.55"/><circle cx="349.5" cy="182.0" r="0.6"/><circle cx="311.4" cy="188.6" r="0.6"/><circle cx="325.0" cy="167.0" r="0.55"/><circle cx="317.2" cy="155.3" r="0.45"/><circle cx="336.0" cy="148.3" r="0.7"/><circle cx="362.2" cy="159.2" r="0.6"/><circle cx="370.3" cy="172.8" r="0.6"/><circle cx="356.2" cy="147.4" r="0.6"/><circle cx="352.2" cy="159.2" r="0.85"/><circle cx="377.7" cy="157.0" r="0.45"/><circle cx="368.1" cy="202.1" r="0.5"/><circle cx="316.8" cy="165.3" r="0.7"/><circle cx="352.7" cy="148.2" r="0.55"/><circle cx="346.9" cy="178.3" r="0.5"/><circle cx="382.0" cy="137.6" r="0.7"/><circle cx="315.8" cy="178.8" r="0.45"/><circle cx="346.3" cy="148.5" r="0.55"/><circle cx="353.5" cy="183.5" r="0.6"/><circle cx="323.6" cy="215.9" r="0.55"/><circle cx="350.4" cy="157.7" r="0.5"/><circle cx="376.6" cy="147.7" r="0.6"/><circle cx="330.9" cy="207.6" r="0.35"/><circle cx="356.6" cy="200.9" r="0.35"/><circle cx="394.8" cy="179.8" r="0.55"/><circle cx="383.3" cy="170.5" r="0.7"/><circle cx="315.2" cy="137.6" r="0.55"/><circle cx="331.3" cy="167.8" r="0.5"/><circle cx="352.2" cy="147.0" r="0.6"/><circle cx="384.8" cy="208.1" r="0.6"/><circle cx="373.4" cy="173.6" r="0.45"/><circle cx="335.1" cy="162.7" r="0.45"/><circle cx="361.6" cy="152.1" r="0.85"/><circle cx="395.5" cy="208.4" r="0.7"/><circle cx="385.8" cy="141.8" r="0.35"/><circle cx="344.7" cy="171.6" r="0.5"/><circle cx="357.0" cy="212.7" r="0.55"/><circle cx="307.3" cy="174.4" r="0.55"/><circle cx="333.5" cy="193.6" r="0.7"/><circle cx="358.9" cy="159.6" r="0.85"/><circle cx="332.4" cy="141.5" r="0.45"/><circle cx="346.6" cy="172.0" r="0.6"/><circle cx="317.2" cy="160.1" r="0.85"/><circle cx="351.0" cy="190.5" r="0.7"/><circle cx="337.0" cy="182.4" r="0.6"/><circle cx="359.9" cy="172.3" r="0.55"/><circle cx="368.9" cy="203.0" r="0.45"/><circle cx="321.1" cy="178.6" r="0.85"/><circle cx="360.1" cy="153.9" r="0.85"/><circle cx="335.2" cy="185.7" r="0.35"/><circle cx="335.9" cy="213.1" r="0.5"/><circle cx="338.7" cy="184.0" r="0.7"/><circle cx="385.4" cy="150.8" r="0.85"/><circle cx="396.4" cy="210.1" r="0.5"/><circle cx="342.2" cy="192.4" r="0.7"/><circle cx="376.4" cy="133.7" r="0.7"/><circle cx="388.1" cy="214.6" r="0.6"/><circle cx="377.3" cy="185.3" r="0.45"/><circle cx="327.3" cy="202.9" r="0.5"/><circle cx="341.0" cy="193.4" r="0.5"/><circle cx="314.7" cy="133.3" r="0.5"/><circle cx="314.5" cy="167.7" r="0.45"/><circle cx="316.1" cy="200.2" r="0.85"/><circle cx="395.8" cy="197.0" r="0.45"/><circle cx="340.2" cy="160.7" r="0.85"/><circle cx="364.0" cy="192.6" r="0.5"/><circle cx="391.7" cy="150.7" r="0.45"/><circle cx="321.0" cy="178.7" r="0.45"/><circle cx="316.9" cy="182.7" r="0.45"/><circle cx="345.2" cy="205.2" r="0.6"/><circle cx="378.2" cy="192.7" r="0.5"/><circle cx="360.1" cy="134.8" r="0.85"/><circle cx="321.8" cy="153.0" r="0.55"/><circle cx="359.9" cy="135.9" r="0.7"/><circle cx="314.2" cy="178.3" r="0.6"/><circle cx="396.6" cy="150.8" r="0.7"/><circle cx="318.5" cy="209.0" r="0.5"/><circle cx="395.5" cy="165.6" r="0.35"/><circle cx="354.1" cy="208.4" r="0.7"/><circle cx="327.9" cy="191.6" r="0.85"/><circle cx="306.5" cy="192.3" r="0.35"/><circle cx="330.3" cy="177.1" r="0.35"/><circle cx="378.6" cy="202.1" r="0.85"/><circle cx="384.0" cy="206.7" r="0.5"/><circle cx="315.5" cy="194.1" r="0.6"/><circle cx="353.6" cy="188.4" r="0.7"/><circle cx="331.5" cy="169.6" r="0.7"/><circle cx="337.7" cy="196.8" r="0.55"/><circle cx="345.7" cy="215.1" r="0.45"/><circle cx="323.8" cy="145.3" r="0.45"/><circle cx="307.9" cy="189.9" r="0.55"/><circle cx="377.4" cy="170.5" r="0.35"/><circle cx="310.9" cy="202.3" r="0.85"/><circle cx="354.0" cy="136.8" r="0.85"/><circle cx="377.5" cy="168.3" r="0.85"/><circle cx="327.4" cy="198.6" r="0.5"/><circle cx="388.4" cy="199.2" r="0.6"/><circle cx="374.0" cy="176.0" r="0.45"/><circle cx="368.7" cy="177.5" r="0.6"/><circle cx="311.5" cy="143.0" r="0.85"/><circle cx="328.3" cy="187.4" r="0.55"/><circle cx="392.5" cy="201.4" r="0.5"/><circle cx="317.8" cy="157.5" r="0.55"/><circle cx="364.0" cy="174.1" r="0.85"/><circle cx="378.5" cy="216.3" r="0.55"/><circle cx="314.4" cy="179.2" r="0.6"/><circle cx="314.8" cy="178.8" r="0.7"/><circle cx="370.3" cy="166.5" r="0.6"/><circle cx="355.6" cy="167.9" r="0.6"/><circle cx="340.6" cy="203.8" r="0.5"/><circle cx="345.8" cy="138.7" r="0.6"/><circle cx="361.6" cy="192.3" r="0.35"/><circle cx="314.8" cy="142.0" r="0.45"/><circle cx="316.1" cy="188.6" r="0.35"/><circle cx="306.3" cy="169.7" r="0.45"/><circle cx="314.3" cy="174.4" r="0.35"/><circle cx="358.2" cy="180.6" r="0.55"/><circle cx="363.1" cy="190.0" r="0.35"/><circle cx="331.2" cy="185.7" r="0.55"/><circle cx="325.9" cy="210.3" r="0.85"/><circle cx="335.3" cy="215.5" r="0.55"/><circle cx="346.2" cy="137.7" r="0.6"/><circle cx="321.8" cy="193.0" r="0.55"/><circle cx="332.9" cy="183.1" r="0.5"/><circle cx="352.4" cy="189.0" r="0.85"/><circle cx="394.0" cy="191.9" r="0.7"/><circle cx="357.0" cy="166.9" r="0.85"/><circle cx="363.4" cy="159.0" r="0.35"/><circle cx="396.4" cy="175.0" r="0.85"/><circle cx="387.2" cy="203.3" r="0.5"/><circle cx="382.9" cy="159.3" r="0.6"/><circle cx="386.0" cy="144.8" r="0.6"/><circle cx="396.8" cy="217.9" r="0.85"/><circle cx="309.5" cy="172.9" r="0.6"/><circle cx="388.9" cy="179.1" r="0.45"/><circle cx="370.7" cy="134.2" r="0.45"/><circle cx="376.0" cy="185.9" r="0.35"/><circle cx="377.4" cy="157.1" r="0.7"/><circle cx="330.2" cy="214.7" r="0.7"/><circle cx="308.0" cy="167.1" r="0.35"/><circle cx="368.4" cy="184.5" r="0.7"/><circle cx="369.3" cy="181.7" r="0.55"/><circle cx="314.3" cy="175.4" r="0.5"/><circle cx="359.6" cy="190.7" r="0.45"/><circle cx="321.4" cy="185.5" r="0.85"/><circle cx="309.9" cy="180.2" r="0.5"/><circle cx="374.5" cy="150.0" r="0.6"/><circle cx="319.7" cy="206.6" r="0.35"/><circle cx="351.8" cy="209.3" r="0.85"/><circle cx="357.2" cy="155.7" r="0.45"/><circle cx="332.0" cy="202.0" r="0.35"/><circle cx="383.9" cy="155.5" r="0.35"/><circle cx="345.3" cy="215.0" r="0.85"/><circle cx="349.2" cy="170.1" r="0.85"/><circle cx="312.2" cy="151.3" r="0.7"/><circle cx="309.1" cy="187.1" r="0.85"/><circle cx="374.9" cy="214.0" r="0.55"/><circle cx="338.3" cy="163.2" r="0.45"/><circle cx="396.1" cy="200.1" r="0.45"/><circle cx="379.7" cy="138.0" r="0.35"/><circle cx="385.0" cy="160.4" r="0.45"/><circle cx="325.9" cy="146.2" r="0.7"/><circle cx="353.4" cy="142.1" r="0.7"/><circle cx="372.6" cy="212.0" r="0.6"/><circle cx="306.2" cy="159.5" r="0.85"/><circle cx="378.2" cy="157.7" r="0.45"/><circle cx="378.6" cy="191.6" r="0.55"/><circle cx="366.3" cy="199.9" r="0.55"/><circle cx="347.6" cy="206.5" r="0.45"/><circle cx="327.1" cy="174.9" r="0.35"/><circle cx="386.6" cy="192.6" r="0.55"/><circle cx="324.3" cy="161.4" r="0.45"/><circle cx="328.1" cy="181.9" r="0.45"/><circle cx="351.2" cy="193.1" r="0.6"/><circle cx="363.7" cy="186.1" r="0.55"/><circle cx="356.4" cy="168.9" r="0.85"/><circle cx="308.2" cy="166.9" r="0.85"/><circle cx="318.9" cy="143.8" r="0.5"/><circle cx="341.4" cy="169.6" r="0.35"/><circle cx="324.3" cy="156.1" r="0.6"/><circle cx="344.4" cy="176.2" r="0.85"/><circle cx="315.7" cy="199.5" r="0.45"/><circle cx="357.1" cy="178.7" r="0.5"/><circle cx="391.9" cy="209.7" r="0.35"/><circle cx="357.1" cy="195.3" r="0.35"/><circle cx="376.1" cy="171.6" r="0.85"/><circle cx="314.6" cy="144.8" r="0.35"/><circle cx="343.0" cy="215.5" r="0.35"/><circle cx="349.6" cy="194.1" r="0.85"/><circle cx="375.7" cy="215.5" r="0.55"/><circle cx="378.9" cy="198.6" r="0.6"/><circle cx="308.6" cy="201.3" r="0.55"/><circle cx="360.7" cy="154.2" r="0.35"/><circle cx="388.0" cy="140.1" r="0.6"/><circle cx="309.6" cy="198.4" r="0.35"/><circle cx="312.7" cy="136.9" r="0.5"/><circle cx="338.3" cy="140.7" r="0.55"/><circle cx="362.5" cy="205.3" r="0.85"/><circle cx="376.0" cy="208.5" r="0.5"/><circle cx="385.8" cy="154.2" r="0.6"/><circle cx="327.2" cy="154.1" r="0.85"/><circle cx="369.8" cy="159.4" r="0.5"/><circle cx="381.7" cy="160.4" r="0.5"/><circle cx="359.5" cy="188.8" r="0.5"/><circle cx="385.5" cy="199.7" r="0.45"/><circle cx="394.5" cy="206.2" r="0.35"/><circle cx="329.6" cy="150.2" r="0.45"/><circle cx="380.1" cy="215.0" r="0.85"/><circle cx="383.8" cy="185.8" r="0.5"/><circle cx="341.1" cy="193.0" r="0.45"/><circle cx="309.5" cy="151.4" r="0.85"/><circle cx="316.2" cy="209.2" r="0.85"/><circle cx="326.0" cy="187.2" r="0.6"/><circle cx="395.5" cy="188.4" r="0.5"/><circle cx="313.6" cy="139.0" r="0.45"/><circle cx="316.9" cy="172.4" r="0.85"/><circle cx="356.6" cy="133.8" r="0.45"/><circle cx="347.7" cy="178.9" r="0.45"/><circle cx="307.4" cy="159.2" r="0.6"/><circle cx="361.2" cy="210.2" r="0.5"/><circle cx="389.8" cy="155.6" r="0.35"/><circle cx="308.6" cy="133.9" r="0.85"/><circle cx="383.8" cy="170.5" r="0.45"/><circle cx="313.0" cy="171.4" r="0.5"/><circle cx="316.4" cy="190.2" r="0.35"/><circle cx="323.6" cy="149.5" r="0.45"/><circle cx="362.7" cy="191.3" r="0.7"/><circle cx="394.6" cy="170.4" r="0.7"/><circle cx="308.6" cy="152.3" r="0.55"/><circle cx="321.7" cy="178.2" r="0.35"/><circle cx="326.4" cy="138.3" r="0.85"/><circle cx="318.5" cy="210.7" r="0.35"/><circle cx="353.1" cy="155.2" r="0.55"/><circle cx="306.7" cy="156.8" r="0.5"/><circle cx="395.8" cy="165.8" r="0.55"/><circle cx="354.2" cy="178.3" r="0.5"/><circle cx="314.1" cy="197.6" r="0.6"/><circle cx="341.9" cy="209.6" r="0.45"/><circle cx="353.9" cy="177.0" r="0.85"/><circle cx="334.9" cy="151.6" r="0.55"/><circle cx="309.7" cy="167.7" r="0.85"/><circle cx="360.0" cy="203.7" r="0.85"/><circle cx="311.9" cy="191.6" r="0.45"/><circle cx="356.5" cy="179.4" r="0.6"/><circle cx="330.7" cy="136.8" r="0.45"/><circle cx="333.7" cy="165.3" r="0.5"/><circle cx="388.8" cy="134.9" r="0.6"/><circle cx="330.3" cy="178.5" r="0.7"/><circle cx="354.6" cy="146.8" r="0.35"/><circle cx="325.2" cy="147.0" r="0.7"/><circle cx="382.5" cy="208.5" r="0.35"/><circle cx="319.7" cy="141.4" r="0.35"/><circle cx="370.4" cy="169.6" r="0.45"/><circle cx="391.7" cy="151.5" r="0.55"/><circle cx="379.9" cy="212.5" r="0.85"/><circle cx="366.3" cy="207.2" r="0.35"/><circle cx="317.6" cy="176.0" r="0.55"/><circle cx="352.6" cy="164.2" r="0.85"/><circle cx="384.1" cy="154.1" r="0.55"/><circle cx="329.6" cy="167.3" r="0.55"/><circle cx="396.4" cy="181.1" r="0.55"/><circle cx="388.1" cy="206.6" r="0.45"/><circle cx="368.5" cy="184.0" r="0.85"/><circle cx="337.3" cy="135.2" r="0.6"/><circle cx="351.0" cy="216.1" r="0.55"/><circle cx="387.9" cy="186.2" r="0.85"/><circle cx="392.3" cy="152.9" r="0.5"/><circle cx="352.6" cy="208.5" r="0.7"/><circle cx="309.4" cy="204.6" r="0.6"/><circle cx="375.8" cy="204.8" r="0.45"/><circle cx="358.0" cy="169.5" r="0.5"/><circle cx="371.2" cy="195.0" r="0.55"/><circle cx="374.2" cy="135.4" r="0.6"/><circle cx="329.2" cy="157.4" r="0.35"/><circle cx="357.5" cy="160.6" r="0.6"/><circle cx="366.3" cy="151.6" r="0.7"/><circle cx="313.4" cy="171.7" r="0.55"/><circle cx="363.9" cy="199.1" r="0.55"/><circle cx="384.8" cy="190.6" r="0.7"/><circle cx="366.4" cy="203.8" r="0.6"/><circle cx="350.5" cy="140.1" r="0.7"/><circle cx="309.1" cy="134.6" r="0.35"/><circle cx="330.5" cy="148.0" r="0.55"/><circle cx="362.2" cy="190.9" r="0.35"/><circle cx="347.4" cy="162.1" r="0.85"/><circle cx="394.0" cy="162.4" r="0.85"/><circle cx="389.7" cy="137.9" r="0.55"/><circle cx="352.6" cy="166.5" r="0.45"/><circle cx="327.1" cy="166.6" r="0.45"/><circle cx="335.1" cy="171.6" r="0.85"/><circle cx="362.4" cy="146.8" r="0.85"/><circle cx="344.5" cy="202.3" r="0.5"/><circle cx="367.3" cy="215.6" r="0.55"/><circle cx="323.2" cy="136.4" r="0.85"/><circle cx="371.1" cy="167.9" r="0.6"/><circle cx="344.8" cy="170.6" r="0.6"/><circle cx="390.2" cy="139.7" r="0.85"/><circle cx="372.6" cy="168.6" r="0.55"/><circle cx="320.6" cy="179.2" r="0.85"/><circle cx="352.2" cy="175.8" r="0.45"/><circle cx="330.3" cy="168.1" r="0.55"/><circle cx="332.0" cy="162.5" r="0.7"/><circle cx="347.6" cy="166.8" r="0.55"/><circle cx="332.1" cy="163.5" r="0.6"/><circle cx="379.9" cy="193.9" r="0.6"/><circle cx="326.5" cy="134.7" r="0.7"/><circle cx="312.6" cy="193.3" r="0.55"/><circle cx="320.6" cy="217.7" r="0.85"/><circle cx="359.5" cy="174.7" r="0.45"/><circle cx="380.7" cy="142.4" r="0.45"/><circle cx="316.3" cy="137.8" r="0.35"/><circle cx="314.6" cy="179.7" r="0.7"/><circle cx="348.6" cy="135.1" r="0.5"/><circle cx="310.7" cy="173.1" r="0.7"/><circle cx="364.4" cy="163.2" r="0.55"/><circle cx="316.1" cy="209.4" r="0.85"/><circle cx="340.8" cy="188.6" r="0.5"/><circle cx="313.5" cy="202.5" r="0.55"/><circle cx="357.1" cy="217.1" r="0.55"/><circle cx="370.5" cy="194.9" r="0.55"/><circle cx="359.4" cy="148.9" r="0.85"/><circle cx="310.8" cy="214.8" r="0.55"/><circle cx="312.1" cy="183.4" r="0.5"/><circle cx="358.4" cy="215.5" r="0.45"/><circle cx="375.5" cy="210.7" r="0.7"/><circle cx="316.4" cy="150.4" r="0.7"/><circle cx="327.2" cy="185.4" r="0.7"/><circle cx="370.7" cy="198.7" r="0.5"/><circle cx="321.6" cy="196.7" r="0.7"/><circle cx="342.4" cy="174.6" r="0.7"/><circle cx="377.0" cy="178.2" r="0.35"/><circle cx="339.5" cy="146.2" r="0.55"/><circle cx="346.4" cy="183.1" r="0.55"/><circle cx="360.3" cy="161.7" r="0.55"/><circle cx="387.9" cy="139.9" r="0.6"/><circle cx="311.0" cy="144.8" r="0.85"/><circle cx="356.6" cy="172.9" r="0.45"/><circle cx="314.3" cy="138.5" r="0.45"/><circle cx="331.4" cy="194.2" r="0.55"/><circle cx="370.9" cy="176.5" r="0.7"/><circle cx="394.6" cy="211.2" r="0.5"/><circle cx="356.7" cy="206.9" r="0.7"/><circle cx="342.0" cy="153.5" r="0.7"/><circle cx="372.8" cy="144.4" r="0.6"/><circle cx="308.4" cy="193.1" r="0.7"/><circle cx="311.1" cy="162.3" r="0.7"/><circle cx="384.6" cy="210.0" r="0.7"/><circle cx="362.5" cy="160.0" r="0.35"/><circle cx="375.3" cy="159.8" r="0.7"/><circle cx="377.6" cy="192.0" r="0.85"/><circle cx="372.6" cy="182.6" r="0.7"/><circle cx="346.6" cy="191.4" r="0.7"/><circle cx="314.9" cy="167.5" r="0.35"/><circle cx="384.1" cy="217.5" r="0.35"/><circle cx="307.0" cy="212.4" r="0.6"/><circle cx="360.2" cy="197.8" r="0.5"/><circle cx="322.0" cy="195.4" r="0.45"/><circle cx="390.5" cy="201.6" r="0.6"/><circle cx="369.8" cy="167.9" r="0.7"/><circle cx="321.1" cy="181.5" r="0.7"/><circle cx="332.7" cy="201.9" r="0.6"/><circle cx="329.3" cy="190.7" r="0.85"/><circle cx="386.2" cy="178.8" r="0.6"/><circle cx="343.5" cy="145.4" r="0.45"/><circle cx="347.2" cy="182.1" r="0.6"/><circle cx="387.9" cy="189.4" r="0.6"/><circle cx="387.4" cy="139.7" r="0.6"/><circle cx="392.9" cy="166.4" r="0.55"/><circle cx="350.5" cy="135.8" r="0.7"/><circle cx="373.3" cy="146.6" r="0.7"/><circle cx="391.2" cy="166.0" r="0.35"/><circle cx="329.2" cy="133.7" r="0.35"/><circle cx="381.9" cy="211.5" r="0.85"/><circle cx="315.7" cy="213.5" r="0.55"/><circle cx="327.9" cy="153.2" r="0.45"/><circle cx="313.3" cy="202.2" r="0.35"/><circle cx="372.2" cy="182.2" r="0.35"/><circle cx="310.0" cy="168.3" r="0.85"/><circle cx="337.6" cy="137.3" r="0.85"/><circle cx="388.8" cy="215.9" r="0.6"/><circle cx="362.8" cy="152.0" r="0.6"/><circle cx="358.2" cy="207.4" r="0.85"/><circle cx="392.0" cy="162.9" r="0.6"/><circle cx="342.2" cy="176.6" r="0.85"/><circle cx="357.4" cy="147.6" r="0.6"/><circle cx="383.9" cy="212.1" r="0.85"/><circle cx="374.4" cy="214.3" r="0.85"/><circle cx="358.4" cy="141.5" r="0.35"/><circle cx="306.1" cy="189.3" r="0.7"/></g></g>
<!-- lid and gauge -->
<path class="w" d="M321.3,96.3 L372.3,96.3 L370,100.8 L324,100.8 Z"/>
<path class="ln" d="M327,96 L333,92.8 L368,92.8 L372.3,96.3"/>
<path class="k" d="M353,88 h8.6 v4.6 h-8.6 z M345.6,88.6 h2.6 v4.6 h-2.6 z"/>
<circle cx="334.4" cy="84.6" r="5.9" fill="#4a4a4a" stroke="#2b2b2b" stroke-width="1.2"/>
<circle cx="334.4" cy="84.6" r="3.9" fill="none" stroke="#bbb" stroke-width=".8" stroke-dasharray=".6 1"/>
<path class="ln" d="M332.5,90 V93 M336.3,90 V93 "/><path d="M334.4,84.6 L336,87.4" stroke="#ddd" stroke-width=".8"/>
<!-- internal top diffuser -->
<rect class="k" x="339.3" y="116" width="22.5" height="7" rx="1.6"/>
<path d="M343.8,118 v3.4 M348.3,118 v3.4 M352.8,118 v3.4 M357.3,118 v3.4" stroke="#fff" stroke-width="1.7" fill="none"/>
<path class="w" d="M347,123 h7.6 v3.4 h-7.6 z"/>
<path class="w" d="M345.9,126.4 L345.9,145.2 L311.4,145.2 L310,153.7 L339,153.7 C350,153.7 356,148 356,140 L356,126.4 Z"/>
<path class="ln" d="M345.9,134.4 H356 M345.9,136 H356 M339.7,145.2 V153.7"/>
<!-- G -->
<path class="ln" d="M311,150 H321 M317.7,148.4 V153.7 M307,177.7 H321 M317.7,174.3 V178.6"/>
<text class="lt" transform="translate(311.68,169.4) scale(1.18,1)" font-size="18.6">G</text>
<!-- lower internal pipe -->
<path class="w" d="M339.7,173.3 L340,173.3 C350,173.3 355.6,179 355.6,188 L355.6,201.5 L345.9,201.5 L345.9,190 L345.9,183 L307.2,183 L307.2,182.2 L339.7,182.2 Z"/>
<path class="ln" d="M345.9,190.5 H355.6 M345.9,192.2 H355.6 M345.9,197.4 H355.6 M339.7,173.3 V183"/>
<!-- laterals -->
<rect class="k" x="315.3" y="201.5" width="72" height="6" rx="2.6"/>
<ellipse cx="316.6" cy="204.5" rx="1" ry="2.1" fill="#fff"/>
<ellipse cx="386" cy="204.5" rx="1" ry="2.1" fill="#fff"/>
<circle cx="336.3" cy="204.5" r="2.3" fill="#fff"/><circle cx="364.8" cy="204.5" r="2.3" fill="#fff"/>
<path class="k" d="M340.5,200 h21 v9.6 h-4 v1.6 h-13 v-1.6 h-4 z"/>
<path d="M349.6,201.6 h2.2 l-.5,5.6 h1.2 v1 h-3.6 v-1 h1.2 z" fill="#fff"/>
<path class="w" d="M347.6,211.2 h6 v5.6 h-6 z"/>
<path class="dim" d="M356.5,133.8 H419.5 M415.6,133.8 V158.8 M415.6,177 V201.5 M361,201.5 H419.5"/>
<!-- base -->
<path class="w" d="M301,221.8 L396.3,221.8 L401.5,239.4 L295,239.4 Z"/>
<path class="ln" d="M304,221.8 L299.6,239.4 M306,221.8 L302.5,239.4 M314.6,221.8 L312.8,239.4 M316.3,221.8 L314.8,239.4 M323.6,221.8 L322.8,239.4 M325.4,221.8 L324.8,239.4 M341.6,221.8 V239.4 M343.4,221.8 V239.4 M354,221.8 V239.4 M355.8,221.8 V239.4 M369.8,221.8 L370.8,239.4 M371.6,221.8 L372.8,239.4 M380.8,221.8 L382.6,239.4 M382.6,221.8 L384.6,239.4 M390,221.8 L393.8,239.4 M392.3,221.8 L396.6,239.4"/>
<path d="M294.6,240 H401.9" stroke="#2b2b2b" stroke-width="1.6" fill="none"/>
<!-- drain plug -->
<g transform="rotate(-22 291 212)"><rect class="w" x="286.8" y="206.6" width="7.6" height="10.6" rx="1.2"/><path class="ln" d="M286.8,210 h7.6 M286.8,213.6 h7.6 M290.6,206.6 v10.6"/></g>
<!-- union nuts on tank -->
<g id="nut1a"><rect class="k" x="278.2" y="140.4" width="12.2" height="17.4" rx="1.3"/><path d="M280.6,147.4 h3.6 M280.6,150.8 h3.6" stroke="#e8e8e8" stroke-width=".9" fill="none"/><path d="M280.6,144 h3.6 M280.6,154.2 h3.6" stroke="#8a8a8a" stroke-width=".8" fill="none"/><path d="M287,143 v12.6" stroke="#9a9a9a" stroke-width=".9" fill="none" stroke-dasharray=".9 2.5"/><path d="M285.4,140.4 v17.4" stroke="#888" stroke-width=".5"/></g>
<g id="nut1b"><rect class="k" x="277" y="170.4" width="13.4" height="16.8" rx="1.3"/><path d="M279.6,177.2 h3.6 M279.6,180.4 h3.6" stroke="#e8e8e8" stroke-width=".9" fill="none"/><path d="M279.6,174 h3.6 M279.6,183.6 h3.6" stroke="#8a8a8a" stroke-width=".8" fill="none"/><path d="M287,173 v12" stroke="#9a9a9a" stroke-width=".9" fill="none" stroke-dasharray=".9 2.5"/><path d="M285.2,170.4 v16.8" stroke="#888" stroke-width=".5"/></g>
<!-- valve -->
<path class="w" d="M233.8,108.2 C233.6,106.4 234.6,105.4 236,105.6 C238,105.8 240,106.4 242,107 C246,108.6 250,111.6 253.2,114.2 L257.6,115.8 L264.4,114.6 L265.6,118.6 L266,124.6 L254.8,124.6 L253.6,120.8 C252,118.6 251,117.6 249.6,116.8 C246.6,114.2 243,111.6 239.6,110.4 C237,109.6 234,109.6 233.8,108.2 Z"/>
<circle cx="259.8" cy="121.4" r=".9" fill="#333"/>
<path class="ln" d="M253.6,120.8 L257.6,115.8 M262.6,124.4 L263.4,119"/>
<path class="w" d="M243.4,130 L275.4,130 L276.4,146 L272,158 L262,158 L262,161.4 L254.4,161.4 L254.4,158 L244.6,158 Z"/>
<path class="w" style="stroke-width:1.3" d="M241.3,126 L277.4,126 L277.4,128.6 L275.6,131 L243.2,131 L241.3,128.6 Z"/>
<path class="ln" d="M244.6,131 v2.6 h3 v-2.6 M256,131 v2.2 h3.4 M272.4,131 v3 h3"/>
<path class="w" d="M272.6,145.4 L278.2,144.4 L278.2,156 L272.6,155.4 C270.6,152 270.6,148 272.6,145.4 Z"/>
<path class="w" d="M243.2,158 L254.6,158 L254.6,172.6 L277,172.6 L277,184.4 L256,184.4 C247,184.4 243.2,179 243.2,171 Z"/>
<path class="k" d="M244.2,159.4 h9.4 v2 h-9.4 z"/>
<path class="ln" d="M262,172.6 v0 M261.6,184.4 h-6"/>
<circle class="w" cx="266.9" cy="137" r="6.9" style="stroke-width:2"/><circle class="ln" cx="266.9" cy="137" r="4.3" style="stroke-width:1.4"/><circle cx="266.9" cy="137" r=".6" fill="#333"/>
<circle class="w" cx="253.2" cy="149.5" r="6.9" style="stroke-width:2"/><circle class="ln" cx="253.2" cy="149.5" r="4.3" style="stroke-width:1.4"/><circle cx="253.2" cy="149.5" r=".6" fill="#333"/>
<path class="dim" d="M201,137.1 H266.9 M224.4,149.4 H253.2"/>
<!-- letters -->
<text class="lt" x="204.94" y="196.2" font-size="20">B</text>
<text class="lt" x="225.04" y="203.0" font-size="20">A</text>
<text class="lt" x="408.04" y="175.2" font-size="20">D</text>
<text class="lt" transform="translate(423.06,167.2) scale(1.2,1)" font-size="20">C</text>
<text class="lt" x="344.24" y="257" font-size="18">F</text>
<text class="lt" x="344.04" y="274.2" font-size="18.6">E</text>
<text class="cap" x="296.7" y="307.2" font-size="16.4" textLength="75" lengthAdjust="spacingAndGlyphs">S450-S700</text>
</g>
<g id="d2">
<defs>
<clipPath id="cav2"><path d="M609,107 C588,107 577,116 571.5,128 C565,143 561,165 561,186 C561,210 572,223.2 596,223.2 L624,223.2 C648,223.2 658.5,210 658.5,186 C658.5,165 654.5,143 648,128 C642,116 631,107 610,107 Z"/></clipPath>
<clipPath id="snd2"><path d="M560,131.5 L604.8,131.5 L604.8,145.2 L560,145.2 Z M613.4,131.5 L660,131.5 L660,225 L560,225 L560,183.5 L603.6,183.5 C603.6,178 599,175.2 593.4,175.2 L593.4,153.8 L602,153.8 C605,156.6 612,157 613.4,150 Z"/></clipPath>
</defs>
<!-- dims under -->
<path class="dim" d="M448.3,130.2 H515 M455,130.2 V178 M455,194.6 V242.3 M467,149.4 H499 M474,149.4 V187.4 M474,204.6 V242.3 M448.3,242.3 H560 M662,242.3 H696.5 M598.5,76.8 H695.8 M690.9,76.8 V150 M690.9,169 V242.3"/>
<path class="dim" d="M549.5,140 V268.3 M668.8,191 V268.3 M549.5,264.2 H599.8 M618.5,264.2 H668.8"/>
<path class="dimb" d="M559.3,242 V256.3 M662.8,242 V256.3 M559.3,250.5 H602 M620,250.5 H662.8"/>
<!-- shell -->
<path class="w" d="M581,104.5 C560,107.5 550.3,122 550.3,146 L550.3,190 C550.3,208 556,220 570,224.7 L650,224.7 C663,220 668.6,208 668.6,190 L668.6,146 C668.6,122 659,107.5 638,104.5 Z"/>
<path class="w" style="stroke-width:1.5" d="M609,107 C588,107 577,116 571.5,128 C565,143 561,165 561,186 C561,210 572,223.2 596,223.2 L624,223.2 C648,223.2 658.5,210 658.5,186 C658.5,165 654.5,143 648,128 C642,116 631,107 610,107 Z"/>
<g class="sand" clip-path="url(#cav2)"><g clip-path="url(#snd2)"><circle cx="655.7" cy="215.4" r="0.35"/><circle cx="571.0" cy="163.1" r="0.45"/><circle cx="634.1" cy="190.6" r="0.5"/><circle cx="586.7" cy="149.9" r="0.35"/><circle cx="619.0" cy="145.1" r="0.55"/><circle cx="624.6" cy="202.5" r="0.85"/><circle cx="659.5" cy="215.5" r="0.6"/><circle cx="653.7" cy="175.7" r="0.35"/><circle cx="647.4" cy="163.4" r="0.5"/><circle cx="651.0" cy="168.7" r="0.6"/><circle cx="578.1" cy="146.8" r="0.45"/><circle cx="564.3" cy="159.9" r="0.45"/><circle cx="612.0" cy="163.0" r="0.6"/><circle cx="628.1" cy="147.2" r="0.55"/><circle cx="640.1" cy="196.4" r="0.85"/><circle cx="597.7" cy="183.8" r="0.5"/><circle cx="658.1" cy="216.6" r="0.45"/><circle cx="655.6" cy="166.6" r="0.7"/><circle cx="607.2" cy="178.2" r="0.55"/><circle cx="589.4" cy="175.3" r="0.6"/><circle cx="643.5" cy="162.5" r="0.55"/><circle cx="650.2" cy="172.0" r="0.6"/><circle cx="633.1" cy="180.6" r="0.55"/><circle cx="609.7" cy="150.7" r="0.5"/><circle cx="641.8" cy="205.3" r="0.6"/><circle cx="588.3" cy="212.1" r="0.5"/><circle cx="591.7" cy="202.1" r="0.85"/><circle cx="611.4" cy="177.1" r="0.7"/><circle cx="622.3" cy="167.2" r="0.7"/><circle cx="582.4" cy="176.6" r="0.7"/><circle cx="623.1" cy="137.7" r="0.85"/><circle cx="595.5" cy="131.7" r="0.85"/><circle cx="580.8" cy="197.3" r="0.35"/><circle cx="618.3" cy="135.4" r="0.6"/><circle cx="584.2" cy="208.9" r="0.35"/><circle cx="635.9" cy="143.1" r="0.5"/><circle cx="586.0" cy="149.7" r="0.35"/><circle cx="603.4" cy="194.8" r="0.35"/><circle cx="567.6" cy="163.1" r="0.45"/><circle cx="627.9" cy="138.4" r="0.35"/><circle cx="564.5" cy="195.9" r="0.35"/><circle cx="598.6" cy="142.4" r="0.45"/><circle cx="634.0" cy="177.6" r="0.35"/><circle cx="599.8" cy="134.8" r="0.45"/><circle cx="576.8" cy="134.2" r="0.5"/><circle cx="654.0" cy="186.9" r="0.7"/><circle cx="573.1" cy="161.0" r="0.35"/><circle cx="592.2" cy="180.1" r="0.6"/><circle cx="634.5" cy="211.3" r="0.85"/><circle cx="601.4" cy="186.3" r="0.45"/><circle cx="608.3" cy="151.1" r="0.7"/><circle cx="629.4" cy="205.6" r="0.35"/><circle cx="605.9" cy="208.9" r="0.45"/><circle cx="612.8" cy="200.5" r="0.55"/><circle cx="612.5" cy="143.8" r="0.5"/><circle cx="587.4" cy="184.9" r="0.55"/><circle cx="626.0" cy="193.3" r="0.45"/><circle cx="627.7" cy="153.5" r="0.45"/><circle cx="577.8" cy="139.5" r="0.7"/><circle cx="584.7" cy="212.6" r="0.7"/><circle cx="653.5" cy="219.5" r="0.45"/><circle cx="632.0" cy="137.5" r="0.35"/><circle cx="619.9" cy="186.6" r="0.85"/><circle cx="623.1" cy="163.0" r="0.7"/><circle cx="603.5" cy="177.8" r="0.35"/><circle cx="576.8" cy="165.2" r="0.45"/><circle cx="572.9" cy="195.4" r="0.45"/><circle cx="572.0" cy="132.8" r="0.85"/><circle cx="584.7" cy="150.3" r="0.6"/><circle cx="627.6" cy="171.4" r="0.6"/><circle cx="624.9" cy="149.9" r="0.85"/><circle cx="656.4" cy="195.9" r="0.55"/><circle cx="603.7" cy="132.9" r="0.6"/><circle cx="567.0" cy="168.2" r="0.6"/><circle cx="619.0" cy="212.9" r="0.7"/><circle cx="640.7" cy="163.6" r="0.6"/><circle cx="656.1" cy="141.6" r="0.5"/><circle cx="590.4" cy="218.5" r="0.5"/><circle cx="592.2" cy="208.8" r="0.55"/><circle cx="571.9" cy="158.2" r="0.85"/><circle cx="638.0" cy="204.5" r="0.85"/><circle cx="606.2" cy="167.6" r="0.55"/><circle cx="607.4" cy="210.2" r="0.6"/><circle cx="569.2" cy="156.3" r="0.5"/><circle cx="592.0" cy="195.4" r="0.45"/><circle cx="636.0" cy="148.1" r="0.6"/><circle cx="598.6" cy="194.7" r="0.45"/><circle cx="635.9" cy="166.2" r="0.35"/><circle cx="586.9" cy="141.9" r="0.6"/><circle cx="645.3" cy="188.0" r="0.45"/><circle cx="629.9" cy="133.2" r="0.7"/><circle cx="608.1" cy="134.8" r="0.7"/><circle cx="610.8" cy="162.8" r="0.55"/><circle cx="575.9" cy="164.4" r="0.55"/><circle cx="613.6" cy="173.5" r="0.7"/><circle cx="640.8" cy="214.0" r="0.85"/><circle cx="628.7" cy="166.1" r="0.45"/><circle cx="609.9" cy="154.1" r="0.55"/><circle cx="630.2" cy="193.2" r="0.35"/><circle cx="619.4" cy="203.8" r="0.35"/><circle cx="569.0" cy="146.7" r="0.6"/><circle cx="576.4" cy="168.1" r="0.35"/><circle cx="640.3" cy="212.1" r="0.7"/><circle cx="658.9" cy="188.7" r="0.45"/><circle cx="657.4" cy="165.8" r="0.7"/><circle cx="627.7" cy="191.6" r="0.55"/><circle cx="578.9" cy="156.5" r="0.45"/><circle cx="615.0" cy="215.5" r="0.85"/><circle cx="603.5" cy="160.3" r="0.45"/><circle cx="632.1" cy="153.9" r="0.45"/><circle cx="607.2" cy="193.6" r="0.55"/><circle cx="647.7" cy="162.9" r="0.85"/><circle cx="618.2" cy="143.9" r="0.55"/><circle cx="632.4" cy="203.1" r="0.55"/><circle cx="648.4" cy="147.1" r="0.6"/><circle cx="567.3" cy="155.4" r="0.5"/><circle cx="631.6" cy="214.4" r="0.7"/><circle cx="625.5" cy="163.0" r="0.6"/><circle cx="594.4" cy="197.4" r="0.7"/><circle cx="570.0" cy="204.0" r="0.7"/><circle cx="584.0" cy="186.3" r="0.55"/><circle cx="642.0" cy="165.0" r="0.7"/><circle cx="651.7" cy="158.9" r="0.6"/><circle cx="631.7" cy="209.6" r="0.7"/><circle cx="579.4" cy="139.4" r="0.55"/><circle cx="654.4" cy="195.9" r="0.6"/><circle cx="599.8" cy="150.2" r="0.35"/><circle cx="600.2" cy="180.6" r="0.85"/><circle cx="581.6" cy="197.2" r="0.6"/><circle cx="618.9" cy="174.6" r="0.6"/><circle cx="575.5" cy="185.5" r="0.55"/><circle cx="609.2" cy="176.7" r="0.45"/><circle cx="607.8" cy="149.2" r="0.85"/><circle cx="569.1" cy="131.3" r="0.55"/><circle cx="614.3" cy="190.5" r="0.35"/><circle cx="636.0" cy="174.2" r="0.7"/><circle cx="652.4" cy="171.9" r="0.6"/><circle cx="607.1" cy="218.9" r="0.6"/><circle cx="635.9" cy="146.5" r="0.85"/><circle cx="654.0" cy="219.8" r="0.5"/><circle cx="628.1" cy="201.1" r="0.85"/><circle cx="632.5" cy="135.8" r="0.55"/><circle cx="599.4" cy="172.4" r="0.5"/><circle cx="577.3" cy="156.2" r="0.55"/><circle cx="656.8" cy="163.6" r="0.6"/><circle cx="645.3" cy="181.2" r="0.45"/><circle cx="647.3" cy="158.5" r="0.7"/><circle cx="575.1" cy="192.4" r="0.7"/><circle cx="651.6" cy="137.8" r="0.85"/><circle cx="592.7" cy="160.7" r="0.85"/><circle cx="592.6" cy="188.2" r="0.6"/><circle cx="644.4" cy="139.3" r="0.7"/><circle cx="582.6" cy="184.1" r="0.85"/><circle cx="645.4" cy="202.0" r="0.7"/><circle cx="570.7" cy="134.6" r="0.55"/><circle cx="617.0" cy="177.5" r="0.35"/><circle cx="655.9" cy="141.0" r="0.85"/><circle cx="639.2" cy="207.2" r="0.45"/><circle cx="593.2" cy="137.9" r="0.55"/><circle cx="597.5" cy="175.3" r="0.85"/><circle cx="590.6" cy="210.6" r="0.7"/><circle cx="605.3" cy="187.9" r="0.5"/><circle cx="594.0" cy="139.9" r="0.45"/><circle cx="608.0" cy="198.0" r="0.85"/><circle cx="598.6" cy="162.7" r="0.85"/><circle cx="575.3" cy="154.9" r="0.6"/><circle cx="624.0" cy="166.6" r="0.85"/><circle cx="635.4" cy="156.0" r="0.7"/><circle cx="652.7" cy="175.7" r="0.7"/><circle cx="633.7" cy="159.5" r="0.55"/><circle cx="635.6" cy="208.4" r="0.7"/><circle cx="635.8" cy="218.1" r="0.5"/><circle cx="614.1" cy="187.7" r="0.35"/><circle cx="598.0" cy="166.2" r="0.45"/><circle cx="587.3" cy="211.2" r="0.55"/><circle cx="608.7" cy="210.5" r="0.45"/><circle cx="592.9" cy="164.7" r="0.35"/><circle cx="572.2" cy="145.9" r="0.35"/><circle cx="651.9" cy="209.6" r="0.85"/><circle cx="625.9" cy="131.7" r="0.5"/><circle cx="585.2" cy="205.2" r="0.55"/><circle cx="615.0" cy="172.7" r="0.45"/><circle cx="597.3" cy="149.0" r="0.55"/><circle cx="571.3" cy="143.7" r="0.45"/><circle cx="594.5" cy="143.6" r="0.5"/><circle cx="586.5" cy="161.5" r="0.45"/><circle cx="631.3" cy="195.8" r="0.35"/><circle cx="595.0" cy="164.2" r="0.85"/><circle cx="621.9" cy="207.7" r="0.45"/><circle cx="645.4" cy="169.3" r="0.85"/><circle cx="588.6" cy="159.6" r="0.6"/><circle cx="644.8" cy="161.1" r="0.85"/><circle cx="631.6" cy="216.2" r="0.45"/><circle cx="659.7" cy="165.9" r="0.55"/><circle cx="610.0" cy="208.6" r="0.6"/><circle cx="644.1" cy="184.2" r="0.6"/><circle cx="612.0" cy="190.2" r="0.55"/><circle cx="658.9" cy="205.8" r="0.55"/><circle cx="578.6" cy="165.4" r="0.55"/><circle cx="566.5" cy="140.6" r="0.6"/><circle cx="574.6" cy="214.4" r="0.7"/><circle cx="611.0" cy="146.6" r="0.55"/><circle cx="592.0" cy="202.0" r="0.35"/><circle cx="586.8" cy="190.5" r="0.45"/><circle cx="579.0" cy="144.1" r="0.7"/><circle cx="658.4" cy="160.9" r="0.85"/><circle cx="625.6" cy="135.4" r="0.55"/><circle cx="585.7" cy="173.9" r="0.6"/><circle cx="565.0" cy="192.9" r="0.6"/><circle cx="567.9" cy="148.8" r="0.35"/><circle cx="642.6" cy="177.5" r="0.7"/><circle cx="613.8" cy="152.2" r="0.5"/><circle cx="610.2" cy="142.7" r="0.35"/><circle cx="586.2" cy="172.5" r="0.85"/><circle cx="567.2" cy="150.2" r="0.55"/><circle cx="595.0" cy="188.6" r="0.55"/><circle cx="650.6" cy="194.9" r="0.6"/><circle cx="638.5" cy="191.1" r="0.6"/><circle cx="572.3" cy="203.8" r="0.7"/><circle cx="655.8" cy="146.4" r="0.45"/><circle cx="591.1" cy="169.3" r="0.55"/><circle cx="574.8" cy="158.9" r="0.5"/><circle cx="641.5" cy="181.1" r="0.55"/><circle cx="588.7" cy="177.9" r="0.55"/><circle cx="658.7" cy="151.4" r="0.7"/><circle cx="575.5" cy="179.7" r="0.35"/><circle cx="565.0" cy="180.1" r="0.45"/><circle cx="582.8" cy="165.8" r="0.35"/><circle cx="625.2" cy="186.7" r="0.7"/><circle cx="587.7" cy="195.2" r="0.6"/><circle cx="566.7" cy="199.7" r="0.85"/><circle cx="584.0" cy="143.9" r="0.5"/><circle cx="565.7" cy="148.4" r="0.35"/><circle cx="575.8" cy="192.8" r="0.45"/><circle cx="636.8" cy="139.2" r="0.7"/><circle cx="650.1" cy="172.3" r="0.5"/><circle cx="656.4" cy="145.0" r="0.5"/><circle cx="630.7" cy="155.7" r="0.6"/><circle cx="617.8" cy="167.7" r="0.55"/><circle cx="627.4" cy="134.0" r="0.5"/><circle cx="626.6" cy="141.9" r="0.7"/><circle cx="634.0" cy="215.0" r="0.35"/><circle cx="583.0" cy="160.7" r="0.6"/><circle cx="633.3" cy="183.8" r="0.7"/><circle cx="652.5" cy="148.9" r="0.85"/><circle cx="574.6" cy="146.2" r="0.85"/><circle cx="605.9" cy="171.5" r="0.5"/><circle cx="599.5" cy="185.5" r="0.6"/><circle cx="580.7" cy="173.4" r="0.45"/><circle cx="636.0" cy="206.7" r="0.5"/><circle cx="592.3" cy="146.2" r="0.6"/><circle cx="623.4" cy="172.9" r="0.85"/><circle cx="622.3" cy="189.6" r="0.45"/><circle cx="628.9" cy="158.4" r="0.45"/><circle cx="614.5" cy="204.3" r="0.35"/><circle cx="563.2" cy="208.5" r="0.45"/><circle cx="659.1" cy="136.2" r="0.6"/><circle cx="587.1" cy="195.4" r="0.5"/><circle cx="642.6" cy="137.4" r="0.55"/><circle cx="643.7" cy="132.6" r="0.6"/><circle cx="618.3" cy="149.9" r="0.45"/><circle cx="621.5" cy="164.4" r="0.35"/><circle cx="624.1" cy="170.8" r="0.5"/><circle cx="625.2" cy="175.1" r="0.85"/><circle cx="639.3" cy="152.1" r="0.6"/><circle cx="591.3" cy="216.9" r="0.45"/><circle cx="581.9" cy="193.6" r="0.85"/><circle cx="594.8" cy="185.8" r="0.55"/><circle cx="613.4" cy="151.9" r="0.45"/><circle cx="617.0" cy="154.3" r="0.45"/><circle cx="575.6" cy="186.3" r="0.55"/><circle cx="642.8" cy="141.6" r="0.55"/><circle cx="600.4" cy="173.3" r="0.55"/><circle cx="589.9" cy="152.4" r="0.35"/><circle cx="614.2" cy="203.8" r="0.35"/><circle cx="621.1" cy="179.4" r="0.35"/><circle cx="567.3" cy="193.9" r="0.55"/><circle cx="584.7" cy="155.3" r="0.5"/><circle cx="612.0" cy="177.3" r="0.85"/><circle cx="610.3" cy="137.3" r="0.55"/><circle cx="634.0" cy="150.7" r="0.35"/><circle cx="564.9" cy="134.7" r="0.7"/><circle cx="575.9" cy="159.6" r="0.6"/><circle cx="566.8" cy="143.9" r="0.5"/><circle cx="654.4" cy="140.1" r="0.6"/><circle cx="615.0" cy="191.4" r="0.45"/><circle cx="604.9" cy="143.5" r="0.5"/><circle cx="612.1" cy="154.9" r="0.35"/><circle cx="654.6" cy="162.6" r="0.5"/><circle cx="629.3" cy="139.7" r="0.5"/><circle cx="572.5" cy="200.8" r="0.5"/><circle cx="639.9" cy="214.7" r="0.5"/><circle cx="640.9" cy="210.7" r="0.6"/><circle cx="620.8" cy="144.3" r="0.35"/><circle cx="595.4" cy="205.6" r="0.35"/><circle cx="596.2" cy="217.8" r="0.6"/><circle cx="632.1" cy="207.7" r="0.35"/><circle cx="629.7" cy="176.1" r="0.85"/><circle cx="604.7" cy="168.3" r="0.85"/><circle cx="579.8" cy="185.6" r="0.35"/><circle cx="620.1" cy="217.0" r="0.85"/><circle cx="596.6" cy="147.1" r="0.35"/><circle cx="650.6" cy="134.6" r="0.45"/><circle cx="617.5" cy="214.1" r="0.45"/><circle cx="601.5" cy="211.9" r="0.35"/><circle cx="653.1" cy="212.2" r="0.45"/><circle cx="584.9" cy="147.9" r="0.35"/><circle cx="629.8" cy="138.1" r="0.85"/><circle cx="589.5" cy="189.0" r="0.35"/><circle cx="613.5" cy="219.7" r="0.55"/><circle cx="603.9" cy="200.7" r="0.45"/><circle cx="603.8" cy="171.9" r="0.5"/><circle cx="567.2" cy="216.3" r="0.45"/><circle cx="612.6" cy="170.2" r="0.55"/><circle cx="620.7" cy="204.1" r="0.85"/><circle cx="625.5" cy="145.5" r="0.6"/><circle cx="659.1" cy="206.9" r="0.45"/><circle cx="564.3" cy="193.8" r="0.45"/><circle cx="624.5" cy="181.7" r="0.5"/><circle cx="658.1" cy="172.8" r="0.45"/><circle cx="603.5" cy="155.0" r="0.45"/><circle cx="596.6" cy="187.3" r="0.35"/><circle cx="642.5" cy="186.3" r="0.35"/><circle cx="603.8" cy="213.9" r="0.35"/><circle cx="657.3" cy="179.8" r="0.6"/><circle cx="587.6" cy="155.1" r="0.55"/><circle cx="631.8" cy="163.5" r="0.85"/><circle cx="622.6" cy="211.8" r="0.45"/><circle cx="616.5" cy="178.6" r="0.55"/><circle cx="590.2" cy="214.3" r="0.5"/><circle cx="603.1" cy="176.0" r="0.45"/><circle cx="635.2" cy="189.1" r="0.55"/><circle cx="573.5" cy="184.2" r="0.6"/><circle cx="613.1" cy="139.0" r="0.7"/><circle cx="656.8" cy="165.8" r="0.6"/><circle cx="654.3" cy="194.3" r="0.7"/><circle cx="597.5" cy="202.0" r="0.5"/><circle cx="578.2" cy="151.8" r="0.7"/><circle cx="579.0" cy="171.2" r="0.7"/><circle cx="658.8" cy="202.9" r="0.55"/><circle cx="587.9" cy="158.8" r="0.55"/><circle cx="591.3" cy="194.6" r="0.5"/><circle cx="627.7" cy="190.4" r="0.55"/><circle cx="620.0" cy="149.3" r="0.35"/><circle cx="573.2" cy="214.9" r="0.5"/><circle cx="593.6" cy="159.2" r="0.55"/><circle cx="579.5" cy="205.2" r="0.5"/><circle cx="638.7" cy="177.9" r="0.55"/><circle cx="601.4" cy="212.8" r="0.55"/><circle cx="648.7" cy="184.7" r="0.5"/><circle cx="565.0" cy="174.9" r="0.7"/><circle cx="631.3" cy="131.8" r="0.55"/><circle cx="608.9" cy="210.9" r="0.35"/><circle cx="647.8" cy="187.9" r="0.6"/><circle cx="581.9" cy="196.9" r="0.5"/><circle cx="578.3" cy="158.0" r="0.85"/><circle cx="600.4" cy="184.2" r="0.55"/><circle cx="607.6" cy="155.9" r="0.6"/><circle cx="582.9" cy="163.7" r="0.5"/><circle cx="644.9" cy="218.3" r="0.45"/><circle cx="649.7" cy="179.0" r="0.7"/><circle cx="632.7" cy="151.0" r="0.6"/><circle cx="607.9" cy="166.4" r="0.5"/><circle cx="619.6" cy="176.5" r="0.45"/><circle cx="562.2" cy="199.3" r="0.7"/><circle cx="597.5" cy="147.0" r="0.45"/><circle cx="633.2" cy="185.0" r="0.45"/><circle cx="644.7" cy="185.8" r="0.85"/><circle cx="634.0" cy="212.7" r="0.7"/><circle cx="583.3" cy="186.3" r="0.55"/><circle cx="638.3" cy="148.5" r="0.45"/><circle cx="588.8" cy="185.9" r="0.35"/><circle cx="563.0" cy="209.1" r="0.5"/><circle cx="565.5" cy="163.5" r="0.55"/><circle cx="573.9" cy="216.3" r="0.45"/><circle cx="576.0" cy="209.3" r="0.85"/><circle cx="606.5" cy="216.5" r="0.35"/><circle cx="588.2" cy="208.4" r="0.6"/><circle cx="569.3" cy="202.9" r="0.6"/><circle cx="631.3" cy="157.0" r="0.35"/><circle cx="615.6" cy="180.9" r="0.35"/><circle cx="602.9" cy="142.2" r="0.6"/><circle cx="592.2" cy="213.3" r="0.85"/><circle cx="565.8" cy="161.1" r="0.85"/><circle cx="568.1" cy="218.5" r="0.85"/><circle cx="622.6" cy="187.5" r="0.85"/><circle cx="630.5" cy="140.6" r="0.45"/><circle cx="577.2" cy="213.1" r="0.35"/><circle cx="593.7" cy="155.3" r="0.5"/><circle cx="638.0" cy="175.9" r="0.85"/><circle cx="657.5" cy="215.7" r="0.6"/><circle cx="575.3" cy="142.7" r="0.55"/><circle cx="633.8" cy="148.4" r="0.6"/><circle cx="636.6" cy="198.0" r="0.5"/><circle cx="624.6" cy="195.0" r="0.85"/><circle cx="615.3" cy="135.3" r="0.7"/><circle cx="610.3" cy="168.1" r="0.5"/><circle cx="609.1" cy="157.2" r="0.35"/><circle cx="649.3" cy="144.4" r="0.7"/><circle cx="573.3" cy="204.1" r="0.45"/><circle cx="596.5" cy="206.3" r="0.45"/><circle cx="655.0" cy="200.1" r="0.7"/><circle cx="648.2" cy="178.7" r="0.35"/><circle cx="659.2" cy="151.4" r="0.7"/><circle cx="638.3" cy="151.5" r="0.5"/><circle cx="658.9" cy="208.9" r="0.7"/><circle cx="604.8" cy="167.6" r="0.7"/><circle cx="565.7" cy="217.4" r="0.55"/><circle cx="652.7" cy="189.1" r="0.5"/><circle cx="652.6" cy="177.9" r="0.35"/><circle cx="626.4" cy="134.8" r="0.7"/><circle cx="655.3" cy="143.9" r="0.85"/><circle cx="637.0" cy="150.9" r="0.5"/><circle cx="622.3" cy="193.4" r="0.35"/><circle cx="570.4" cy="205.2" r="0.7"/><circle cx="622.7" cy="148.7" r="0.6"/><circle cx="628.1" cy="137.4" r="0.5"/><circle cx="574.7" cy="152.1" r="0.7"/><circle cx="606.6" cy="167.1" r="0.35"/><circle cx="592.7" cy="135.2" r="0.35"/><circle cx="600.6" cy="181.1" r="0.7"/><circle cx="641.5" cy="162.4" r="0.45"/><circle cx="595.1" cy="151.2" r="0.45"/><circle cx="578.4" cy="142.6" r="0.7"/><circle cx="643.4" cy="146.3" r="0.45"/><circle cx="659.3" cy="188.4" r="0.85"/><circle cx="603.8" cy="131.7" r="0.55"/><circle cx="562.1" cy="139.5" r="0.35"/><circle cx="580.6" cy="131.2" r="0.85"/><circle cx="646.0" cy="203.9" r="0.85"/><circle cx="577.2" cy="154.9" r="0.5"/><circle cx="641.4" cy="181.7" r="0.6"/><circle cx="654.8" cy="158.5" r="0.6"/><circle cx="602.8" cy="174.0" r="0.85"/><circle cx="599.9" cy="157.2" r="0.55"/><circle cx="579.0" cy="202.7" r="0.5"/><circle cx="639.5" cy="172.0" r="0.55"/><circle cx="618.3" cy="159.6" r="0.35"/><circle cx="617.2" cy="153.7" r="0.55"/><circle cx="648.9" cy="171.9" r="0.35"/><circle cx="649.4" cy="206.5" r="0.6"/><circle cx="608.1" cy="187.9" r="0.45"/><circle cx="656.6" cy="163.9" r="0.35"/><circle cx="634.0" cy="218.6" r="0.55"/><circle cx="574.3" cy="176.4" r="0.45"/><circle cx="611.7" cy="210.4" r="0.45"/><circle cx="646.8" cy="158.4" r="0.55"/><circle cx="575.9" cy="176.9" r="0.7"/><circle cx="598.6" cy="147.6" r="0.85"/><circle cx="616.2" cy="169.8" r="0.35"/><circle cx="650.0" cy="179.6" r="0.5"/><circle cx="584.8" cy="145.4" r="0.55"/><circle cx="639.6" cy="210.8" r="0.45"/><circle cx="618.3" cy="204.4" r="0.6"/><circle cx="649.8" cy="180.1" r="0.6"/><circle cx="587.7" cy="133.3" r="0.6"/><circle cx="656.0" cy="176.6" r="0.7"/><circle cx="567.0" cy="200.7" r="0.45"/><circle cx="616.3" cy="214.5" r="0.7"/><circle cx="655.8" cy="188.5" r="0.55"/><circle cx="594.9" cy="170.8" r="0.45"/><circle cx="598.0" cy="217.7" r="0.55"/><circle cx="587.9" cy="175.7" r="0.5"/><circle cx="566.7" cy="159.6" r="0.55"/><circle cx="626.0" cy="147.3" r="0.7"/><circle cx="628.8" cy="143.0" r="0.7"/><circle cx="660.0" cy="137.6" r="0.45"/><circle cx="636.8" cy="135.9" r="0.85"/><circle cx="568.5" cy="178.3" r="0.45"/><circle cx="564.1" cy="163.6" r="0.7"/><circle cx="625.9" cy="198.5" r="0.55"/><circle cx="604.2" cy="190.6" r="0.85"/><circle cx="622.0" cy="183.5" r="0.35"/><circle cx="644.3" cy="137.9" r="0.35"/><circle cx="632.6" cy="206.4" r="0.85"/><circle cx="643.3" cy="177.9" r="0.45"/><circle cx="564.8" cy="153.7" r="0.35"/><circle cx="625.0" cy="132.8" r="0.5"/><circle cx="650.1" cy="140.5" r="0.7"/><circle cx="650.6" cy="187.5" r="0.45"/><circle cx="602.3" cy="152.0" r="0.45"/><circle cx="650.6" cy="194.8" r="0.6"/><circle cx="647.1" cy="182.2" r="0.35"/><circle cx="585.5" cy="152.6" r="0.45"/><circle cx="642.3" cy="152.0" r="0.85"/><circle cx="579.2" cy="211.3" r="0.35"/><circle cx="578.7" cy="142.0" r="0.45"/><circle cx="625.2" cy="156.1" r="0.7"/><circle cx="570.2" cy="188.6" r="0.7"/><circle cx="574.9" cy="201.1" r="0.45"/><circle cx="658.9" cy="163.0" r="0.7"/><circle cx="580.3" cy="150.0" r="0.5"/><circle cx="562.3" cy="151.4" r="0.6"/><circle cx="592.0" cy="164.1" r="0.6"/><circle cx="638.0" cy="216.5" r="0.7"/><circle cx="566.2" cy="158.6" r="0.35"/><circle cx="659.6" cy="175.6" r="0.45"/><circle cx="621.6" cy="162.6" r="0.6"/><circle cx="603.4" cy="184.0" r="0.7"/><circle cx="641.7" cy="215.7" r="0.45"/><circle cx="625.4" cy="151.7" r="0.6"/><circle cx="624.2" cy="136.7" r="0.35"/><circle cx="621.5" cy="173.7" r="0.45"/><circle cx="598.8" cy="173.7" r="0.6"/><circle cx="625.9" cy="169.5" r="0.45"/><circle cx="572.2" cy="161.4" r="0.55"/><circle cx="575.5" cy="183.4" r="0.55"/><circle cx="640.9" cy="213.3" r="0.7"/><circle cx="651.6" cy="135.0" r="0.35"/><circle cx="582.3" cy="136.0" r="0.55"/><circle cx="653.8" cy="198.6" r="0.45"/><circle cx="585.8" cy="137.8" r="0.35"/><circle cx="573.0" cy="140.9" r="0.6"/><circle cx="653.8" cy="168.7" r="0.6"/><circle cx="654.9" cy="198.0" r="0.7"/><circle cx="564.6" cy="142.0" r="0.85"/><circle cx="652.1" cy="204.7" r="0.35"/><circle cx="650.0" cy="155.8" r="0.6"/><circle cx="651.1" cy="141.1" r="0.85"/><circle cx="579.8" cy="184.1" r="0.45"/><circle cx="634.2" cy="138.7" r="0.7"/><circle cx="656.9" cy="212.3" r="0.7"/><circle cx="572.2" cy="189.1" r="0.55"/><circle cx="607.8" cy="188.4" r="0.6"/><circle cx="562.3" cy="210.8" r="0.45"/><circle cx="642.1" cy="160.5" r="0.35"/><circle cx="585.6" cy="192.8" r="0.85"/><circle cx="636.3" cy="208.0" r="0.45"/><circle cx="656.1" cy="138.5" r="0.85"/><circle cx="589.1" cy="175.1" r="0.35"/><circle cx="588.8" cy="186.4" r="0.85"/><circle cx="593.7" cy="150.5" r="0.45"/><circle cx="581.4" cy="174.7" r="0.35"/><circle cx="609.7" cy="189.4" r="0.5"/><circle cx="632.0" cy="136.3" r="0.35"/><circle cx="604.1" cy="195.6" r="0.7"/><circle cx="655.0" cy="192.6" r="0.45"/><circle cx="641.3" cy="167.3" r="0.7"/><circle cx="635.6" cy="210.0" r="0.85"/><circle cx="626.6" cy="177.9" r="0.55"/><circle cx="588.3" cy="171.1" r="0.5"/><circle cx="635.5" cy="209.7" r="0.45"/><circle cx="635.9" cy="209.3" r="0.85"/><circle cx="637.0" cy="209.4" r="0.45"/><circle cx="647.2" cy="197.9" r="0.5"/><circle cx="614.5" cy="142.4" r="0.55"/><circle cx="619.1" cy="133.8" r="0.7"/><circle cx="575.3" cy="188.0" r="0.35"/><circle cx="652.7" cy="134.3" r="0.7"/><circle cx="586.9" cy="199.0" r="0.45"/><circle cx="577.4" cy="219.8" r="0.7"/><circle cx="570.2" cy="169.6" r="0.6"/><circle cx="621.8" cy="145.6" r="0.55"/><circle cx="590.2" cy="131.4" r="0.45"/><circle cx="637.5" cy="136.2" r="0.45"/><circle cx="654.0" cy="150.1" r="0.55"/><circle cx="648.4" cy="197.7" r="0.55"/><circle cx="656.0" cy="215.6" r="0.35"/><circle cx="592.4" cy="206.2" r="0.6"/><circle cx="625.7" cy="178.2" r="0.85"/><circle cx="603.6" cy="171.5" r="0.6"/><circle cx="643.4" cy="146.2" r="0.45"/><circle cx="591.3" cy="215.0" r="0.7"/><circle cx="615.4" cy="142.1" r="0.45"/><circle cx="564.7" cy="195.6" r="0.35"/><circle cx="621.9" cy="185.1" r="0.7"/><circle cx="641.1" cy="159.8" r="0.6"/><circle cx="620.3" cy="186.9" r="0.35"/><circle cx="617.8" cy="143.5" r="0.5"/><circle cx="630.9" cy="135.8" r="0.85"/><circle cx="645.3" cy="208.8" r="0.35"/><circle cx="580.7" cy="136.5" r="0.85"/><circle cx="629.0" cy="166.4" r="0.45"/><circle cx="631.1" cy="183.9" r="0.55"/><circle cx="568.7" cy="145.6" r="0.6"/><circle cx="586.1" cy="154.4" r="0.85"/><circle cx="586.7" cy="175.3" r="0.7"/><circle cx="589.2" cy="195.8" r="0.45"/><circle cx="594.4" cy="131.3" r="0.85"/><circle cx="562.1" cy="184.5" r="0.6"/><circle cx="652.2" cy="167.3" r="0.55"/><circle cx="603.3" cy="171.8" r="0.6"/><circle cx="589.5" cy="198.5" r="0.35"/><circle cx="586.9" cy="132.5" r="0.45"/><circle cx="621.7" cy="162.1" r="0.45"/><circle cx="654.9" cy="139.2" r="0.6"/><circle cx="596.7" cy="212.9" r="0.5"/><circle cx="566.9" cy="161.6" r="0.7"/><circle cx="591.3" cy="214.7" r="0.85"/><circle cx="576.2" cy="154.4" r="0.6"/><circle cx="615.9" cy="199.8" r="0.5"/><circle cx="590.8" cy="160.0" r="0.85"/><circle cx="619.6" cy="180.4" r="0.55"/><circle cx="641.6" cy="138.5" r="0.35"/><circle cx="659.4" cy="177.5" r="0.35"/><circle cx="593.4" cy="174.0" r="0.85"/><circle cx="628.9" cy="138.2" r="0.55"/><circle cx="601.4" cy="186.0" r="0.5"/><circle cx="652.0" cy="219.0" r="0.55"/><circle cx="563.9" cy="175.3" r="0.6"/><circle cx="597.3" cy="168.5" r="0.7"/><circle cx="581.8" cy="204.7" r="0.35"/><circle cx="578.9" cy="191.2" r="0.7"/><circle cx="564.6" cy="203.3" r="0.35"/><circle cx="626.5" cy="200.3" r="0.55"/><circle cx="630.9" cy="204.4" r="0.55"/><circle cx="641.2" cy="154.9" r="0.55"/><circle cx="600.5" cy="131.0" r="0.45"/><circle cx="646.9" cy="131.6" r="0.35"/><circle cx="581.5" cy="160.0" r="0.5"/><circle cx="617.9" cy="198.4" r="0.7"/><circle cx="595.0" cy="165.6" r="0.45"/><circle cx="564.1" cy="140.1" r="0.55"/><circle cx="626.5" cy="164.8" r="0.45"/><circle cx="588.9" cy="218.5" r="0.35"/><circle cx="627.9" cy="168.5" r="0.55"/><circle cx="595.4" cy="149.7" r="0.45"/><circle cx="629.6" cy="188.0" r="0.55"/><circle cx="601.3" cy="193.9" r="0.85"/><circle cx="622.8" cy="151.1" r="0.55"/><circle cx="585.2" cy="210.2" r="0.55"/><circle cx="624.3" cy="149.6" r="0.55"/><circle cx="646.6" cy="218.5" r="0.55"/><circle cx="564.7" cy="178.1" r="0.5"/><circle cx="592.9" cy="182.0" r="0.7"/><circle cx="602.9" cy="138.4" r="0.85"/><circle cx="580.1" cy="217.2" r="0.5"/><circle cx="590.1" cy="178.4" r="0.7"/><circle cx="581.2" cy="214.9" r="0.35"/><circle cx="572.1" cy="153.6" r="0.55"/><circle cx="595.1" cy="198.3" r="0.85"/><circle cx="580.5" cy="141.5" r="0.6"/><circle cx="609.7" cy="173.7" r="0.7"/><circle cx="630.0" cy="176.6" r="0.5"/><circle cx="654.2" cy="171.6" r="0.35"/><circle cx="648.5" cy="200.7" r="0.55"/><circle cx="579.9" cy="209.3" r="0.6"/><circle cx="593.5" cy="167.9" r="0.55"/><circle cx="575.0" cy="155.5" r="0.7"/><circle cx="603.1" cy="210.3" r="0.7"/><circle cx="565.1" cy="200.2" r="0.7"/><circle cx="641.9" cy="205.1" r="0.85"/><circle cx="617.1" cy="150.3" r="0.6"/><circle cx="604.4" cy="179.2" r="0.85"/><circle cx="588.6" cy="143.4" r="0.7"/><circle cx="592.3" cy="184.6" r="0.45"/><circle cx="624.5" cy="137.7" r="0.7"/><circle cx="614.3" cy="195.7" r="0.85"/><circle cx="609.5" cy="208.7" r="0.45"/><circle cx="659.4" cy="137.1" r="0.7"/><circle cx="595.7" cy="166.2" r="0.6"/><circle cx="620.1" cy="157.7" r="0.55"/><circle cx="593.7" cy="182.8" r="0.7"/><circle cx="562.9" cy="177.6" r="0.85"/><circle cx="607.6" cy="203.0" r="0.35"/><circle cx="599.3" cy="196.9" r="0.45"/><circle cx="586.1" cy="141.5" r="0.45"/><circle cx="595.5" cy="138.0" r="0.35"/><circle cx="571.4" cy="169.6" r="0.7"/><circle cx="571.2" cy="193.8" r="0.45"/><circle cx="603.3" cy="193.7" r="0.85"/><circle cx="609.1" cy="189.0" r="0.35"/><circle cx="575.5" cy="180.8" r="0.5"/><circle cx="649.2" cy="148.3" r="0.5"/><circle cx="629.7" cy="162.9" r="0.5"/><circle cx="651.5" cy="170.8" r="0.7"/><circle cx="611.4" cy="179.4" r="0.85"/><circle cx="570.8" cy="177.8" r="0.45"/><circle cx="594.2" cy="152.7" r="0.85"/><circle cx="583.7" cy="199.1" r="0.7"/><circle cx="604.5" cy="143.3" r="0.5"/><circle cx="626.7" cy="169.9" r="0.7"/><circle cx="623.5" cy="220.0" r="0.5"/><circle cx="594.5" cy="216.7" r="0.35"/><circle cx="653.1" cy="214.7" r="0.7"/><circle cx="628.9" cy="183.9" r="0.35"/><circle cx="630.8" cy="217.6" r="0.55"/><circle cx="657.8" cy="217.6" r="0.35"/><circle cx="570.5" cy="172.4" r="0.7"/><circle cx="566.6" cy="193.1" r="0.45"/><circle cx="657.8" cy="196.9" r="0.55"/><circle cx="593.6" cy="191.5" r="0.5"/><circle cx="620.5" cy="183.8" r="0.85"/><circle cx="633.0" cy="180.4" r="0.6"/><circle cx="639.2" cy="168.5" r="0.7"/><circle cx="574.9" cy="201.9" r="0.6"/><circle cx="576.5" cy="211.6" r="0.45"/><circle cx="624.4" cy="140.3" r="0.35"/><circle cx="603.1" cy="166.7" r="0.85"/><circle cx="607.2" cy="158.9" r="0.45"/><circle cx="637.4" cy="133.1" r="0.55"/><circle cx="621.0" cy="147.6" r="0.6"/><circle cx="591.3" cy="143.6" r="0.35"/><circle cx="580.4" cy="150.1" r="0.45"/><circle cx="573.4" cy="134.5" r="0.45"/><circle cx="594.9" cy="175.9" r="0.85"/><circle cx="627.7" cy="144.3" r="0.35"/><circle cx="613.3" cy="156.4" r="0.45"/><circle cx="615.8" cy="218.9" r="0.45"/><circle cx="646.2" cy="218.9" r="0.35"/><circle cx="614.3" cy="167.0" r="0.7"/><circle cx="609.8" cy="214.6" r="0.45"/><circle cx="642.3" cy="152.2" r="0.5"/><circle cx="565.0" cy="200.5" r="0.35"/><circle cx="636.2" cy="141.6" r="0.55"/><circle cx="594.6" cy="193.0" r="0.35"/><circle cx="585.8" cy="201.8" r="0.6"/><circle cx="625.2" cy="178.6" r="0.45"/><circle cx="564.5" cy="170.0" r="0.5"/><circle cx="622.2" cy="173.5" r="0.85"/><circle cx="592.3" cy="185.8" r="0.5"/><circle cx="619.0" cy="214.0" r="0.55"/><circle cx="592.1" cy="136.9" r="0.35"/><circle cx="645.3" cy="209.1" r="0.7"/><circle cx="573.8" cy="135.2" r="0.85"/><circle cx="564.2" cy="182.3" r="0.45"/><circle cx="597.0" cy="186.9" r="0.5"/><circle cx="657.7" cy="202.0" r="0.35"/><circle cx="588.2" cy="141.9" r="0.35"/><circle cx="576.6" cy="201.6" r="0.45"/><circle cx="562.6" cy="209.2" r="0.5"/><circle cx="620.0" cy="194.6" r="0.55"/><circle cx="596.3" cy="138.7" r="0.55"/><circle cx="625.9" cy="201.6" r="0.85"/><circle cx="648.6" cy="182.9" r="0.85"/><circle cx="643.6" cy="166.6" r="0.5"/><circle cx="630.1" cy="199.9" r="0.45"/><circle cx="617.5" cy="181.7" r="0.5"/><circle cx="569.9" cy="213.1" r="0.5"/><circle cx="652.1" cy="208.7" r="0.35"/><circle cx="569.1" cy="176.7" r="0.6"/><circle cx="563.2" cy="142.5" r="0.5"/><circle cx="597.5" cy="198.6" r="0.6"/><circle cx="562.9" cy="190.8" r="0.5"/><circle cx="631.0" cy="183.6" r="0.5"/><circle cx="586.8" cy="154.6" r="0.7"/><circle cx="638.1" cy="204.3" r="0.45"/><circle cx="601.4" cy="208.8" r="0.35"/><circle cx="658.1" cy="186.9" r="0.5"/><circle cx="602.0" cy="216.1" r="0.5"/><circle cx="593.0" cy="134.2" r="0.55"/><circle cx="589.6" cy="137.3" r="0.85"/><circle cx="650.7" cy="203.9" r="0.7"/><circle cx="608.7" cy="147.2" r="0.7"/><circle cx="573.8" cy="167.5" r="0.85"/><circle cx="587.8" cy="177.5" r="0.85"/><circle cx="599.0" cy="132.9" r="0.55"/><circle cx="634.7" cy="133.8" r="0.45"/><circle cx="581.6" cy="142.3" r="0.7"/><circle cx="610.0" cy="132.6" r="0.85"/><circle cx="633.2" cy="196.2" r="0.7"/><circle cx="656.7" cy="199.0" r="0.7"/><circle cx="585.9" cy="213.5" r="0.7"/><circle cx="637.2" cy="200.7" r="0.5"/><circle cx="620.1" cy="204.9" r="0.45"/><circle cx="614.2" cy="212.9" r="0.45"/><circle cx="644.5" cy="156.6" r="0.7"/><circle cx="569.6" cy="174.6" r="0.45"/><circle cx="586.6" cy="184.0" r="0.35"/><circle cx="617.3" cy="177.5" r="0.55"/><circle cx="605.1" cy="199.0" r="0.7"/><circle cx="647.0" cy="161.8" r="0.7"/><circle cx="656.0" cy="150.6" r="0.35"/><circle cx="567.4" cy="167.0" r="0.6"/><circle cx="658.9" cy="152.2" r="0.35"/><circle cx="637.4" cy="171.3" r="0.7"/><circle cx="648.3" cy="203.8" r="0.55"/><circle cx="594.6" cy="170.3" r="0.85"/><circle cx="622.1" cy="192.8" r="0.6"/><circle cx="593.8" cy="144.7" r="0.6"/><circle cx="644.3" cy="166.8" r="0.35"/><circle cx="588.8" cy="219.8" r="0.6"/><circle cx="650.4" cy="180.6" r="0.6"/><circle cx="640.4" cy="189.7" r="0.35"/><circle cx="643.6" cy="191.7" r="0.5"/><circle cx="617.3" cy="163.5" r="0.55"/><circle cx="568.4" cy="185.7" r="0.5"/><circle cx="629.1" cy="172.5" r="0.35"/><circle cx="628.1" cy="202.0" r="0.85"/><circle cx="630.4" cy="209.5" r="0.5"/><circle cx="591.3" cy="208.7" r="0.6"/><circle cx="614.4" cy="210.0" r="0.6"/><circle cx="572.2" cy="197.8" r="0.55"/><circle cx="633.2" cy="187.4" r="0.35"/><circle cx="635.6" cy="217.7" r="0.55"/><circle cx="623.4" cy="159.7" r="0.55"/><circle cx="643.8" cy="156.4" r="0.85"/><circle cx="607.6" cy="216.9" r="0.55"/><circle cx="594.6" cy="181.0" r="0.7"/><circle cx="626.4" cy="152.5" r="0.7"/><circle cx="641.8" cy="189.0" r="0.6"/><circle cx="605.7" cy="215.8" r="0.6"/><circle cx="621.5" cy="186.5" r="0.35"/><circle cx="648.4" cy="219.1" r="0.45"/><circle cx="600.9" cy="164.5" r="0.6"/><circle cx="648.3" cy="208.0" r="0.5"/><circle cx="637.3" cy="165.5" r="0.7"/><circle cx="592.1" cy="157.8" r="0.45"/><circle cx="616.4" cy="196.9" r="0.5"/><circle cx="640.5" cy="196.3" r="0.5"/><circle cx="564.5" cy="205.5" r="0.5"/><circle cx="629.6" cy="209.5" r="0.85"/><circle cx="600.1" cy="213.8" r="0.55"/><circle cx="583.7" cy="198.5" r="0.6"/><circle cx="565.6" cy="178.0" r="0.6"/><circle cx="605.9" cy="206.1" r="0.85"/><circle cx="579.4" cy="169.5" r="0.55"/><circle cx="614.9" cy="136.6" r="0.85"/><circle cx="571.3" cy="137.3" r="0.5"/><circle cx="604.1" cy="155.1" r="0.45"/><circle cx="623.3" cy="196.4" r="0.35"/><circle cx="626.0" cy="189.6" r="0.45"/><circle cx="563.4" cy="192.9" r="0.35"/><circle cx="601.9" cy="147.4" r="0.6"/><circle cx="619.3" cy="137.4" r="0.85"/><circle cx="631.0" cy="168.0" r="0.55"/><circle cx="622.2" cy="165.6" r="0.35"/><circle cx="659.2" cy="149.0" r="0.35"/><circle cx="608.4" cy="213.0" r="0.35"/><circle cx="575.4" cy="177.0" r="0.55"/><circle cx="624.6" cy="163.1" r="0.7"/><circle cx="647.3" cy="202.2" r="0.55"/><circle cx="602.4" cy="168.2" r="0.55"/><circle cx="581.3" cy="166.1" r="0.5"/><circle cx="617.0" cy="142.4" r="0.6"/><circle cx="613.3" cy="148.1" r="0.5"/><circle cx="655.8" cy="184.1" r="0.5"/><circle cx="619.6" cy="135.0" r="0.85"/><circle cx="573.2" cy="191.2" r="0.45"/><circle cx="607.4" cy="170.0" r="0.35"/><circle cx="647.6" cy="183.7" r="0.5"/><circle cx="562.0" cy="181.5" r="0.7"/><circle cx="588.0" cy="149.3" r="0.5"/><circle cx="653.4" cy="147.5" r="0.85"/><circle cx="580.5" cy="165.8" r="0.85"/><circle cx="587.0" cy="178.3" r="0.85"/><circle cx="619.0" cy="217.8" r="0.6"/><circle cx="567.4" cy="160.5" r="0.5"/><circle cx="591.9" cy="158.8" r="0.7"/><circle cx="656.9" cy="205.0" r="0.7"/><circle cx="596.3" cy="193.2" r="0.5"/><circle cx="583.0" cy="186.8" r="0.55"/><circle cx="578.3" cy="170.6" r="0.5"/><circle cx="573.6" cy="211.8" r="0.55"/><circle cx="575.5" cy="164.3" r="0.7"/><circle cx="647.8" cy="175.1" r="0.45"/><circle cx="641.9" cy="156.3" r="0.35"/><circle cx="649.9" cy="131.1" r="0.35"/><circle cx="621.5" cy="139.2" r="0.35"/><circle cx="581.9" cy="147.7" r="0.35"/><circle cx="596.5" cy="162.7" r="0.35"/><circle cx="608.4" cy="194.2" r="0.45"/><circle cx="644.2" cy="213.5" r="0.5"/><circle cx="585.1" cy="167.7" r="0.45"/><circle cx="631.0" cy="152.0" r="0.55"/><circle cx="601.5" cy="169.7" r="0.45"/><circle cx="580.1" cy="202.0" r="0.55"/><circle cx="635.8" cy="217.4" r="0.85"/><circle cx="579.0" cy="218.8" r="0.55"/><circle cx="583.7" cy="203.0" r="0.85"/><circle cx="572.3" cy="167.8" r="0.35"/><circle cx="652.5" cy="139.4" r="0.45"/><circle cx="609.9" cy="189.1" r="0.45"/><circle cx="651.7" cy="187.4" r="0.5"/><circle cx="644.6" cy="131.7" r="0.5"/><circle cx="656.2" cy="148.7" r="0.5"/><circle cx="646.8" cy="210.6" r="0.5"/><circle cx="608.6" cy="177.8" r="0.6"/><circle cx="609.3" cy="146.5" r="0.55"/><circle cx="635.0" cy="139.1" r="0.45"/><circle cx="600.0" cy="205.1" r="0.35"/><circle cx="595.0" cy="143.5" r="0.85"/><circle cx="659.4" cy="184.0" r="0.5"/><circle cx="601.6" cy="155.2" r="0.6"/><circle cx="613.2" cy="205.1" r="0.6"/><circle cx="600.0" cy="214.3" r="0.85"/><circle cx="596.5" cy="177.7" r="0.55"/><circle cx="620.1" cy="212.7" r="0.35"/><circle cx="631.4" cy="170.1" r="0.6"/><circle cx="586.2" cy="166.0" r="0.45"/><circle cx="582.1" cy="204.3" r="0.85"/><circle cx="599.1" cy="219.5" r="0.7"/><circle cx="593.4" cy="137.7" r="0.7"/><circle cx="609.9" cy="199.2" r="0.85"/><circle cx="562.8" cy="156.5" r="0.5"/><circle cx="628.8" cy="190.5" r="0.7"/><circle cx="587.2" cy="200.0" r="0.6"/><circle cx="608.3" cy="213.5" r="0.6"/><circle cx="627.2" cy="219.4" r="0.55"/><circle cx="658.2" cy="194.6" r="0.6"/><circle cx="602.4" cy="159.1" r="0.5"/><circle cx="612.9" cy="177.2" r="0.35"/><circle cx="594.0" cy="152.9" r="0.35"/><circle cx="620.0" cy="179.7" r="0.35"/><circle cx="603.5" cy="144.7" r="0.85"/><circle cx="653.7" cy="144.5" r="0.55"/><circle cx="618.5" cy="210.5" r="0.35"/><circle cx="626.7" cy="213.3" r="0.5"/><circle cx="652.4" cy="136.9" r="0.35"/><circle cx="606.9" cy="206.1" r="0.45"/><circle cx="630.8" cy="161.0" r="0.55"/><circle cx="643.8" cy="207.6" r="0.6"/><circle cx="610.6" cy="201.7" r="0.7"/><circle cx="586.1" cy="216.9" r="0.85"/><circle cx="627.1" cy="198.1" r="0.35"/><circle cx="643.1" cy="177.7" r="0.45"/><circle cx="566.6" cy="193.1" r="0.5"/><circle cx="614.4" cy="163.2" r="0.55"/><circle cx="589.9" cy="163.6" r="0.7"/><circle cx="657.1" cy="194.9" r="0.45"/><circle cx="577.0" cy="177.7" r="0.85"/><circle cx="585.0" cy="193.1" r="0.45"/><circle cx="605.5" cy="191.7" r="0.7"/><circle cx="643.6" cy="178.9" r="0.45"/><circle cx="639.6" cy="206.3" r="0.45"/><circle cx="633.8" cy="180.7" r="0.5"/><circle cx="658.9" cy="167.5" r="0.6"/><circle cx="610.2" cy="183.2" r="0.85"/><circle cx="638.5" cy="158.0" r="0.55"/><circle cx="645.2" cy="147.8" r="0.6"/><circle cx="588.2" cy="206.3" r="0.45"/><circle cx="637.2" cy="178.3" r="0.55"/><circle cx="616.8" cy="191.5" r="0.85"/><circle cx="609.8" cy="185.7" r="0.6"/><circle cx="637.5" cy="211.4" r="0.6"/><circle cx="619.4" cy="207.2" r="0.35"/><circle cx="605.9" cy="191.5" r="0.5"/><circle cx="638.4" cy="133.1" r="0.5"/><circle cx="582.2" cy="166.7" r="0.35"/><circle cx="612.6" cy="134.2" r="0.85"/><circle cx="630.6" cy="163.9" r="0.55"/><circle cx="650.5" cy="199.1" r="0.7"/><circle cx="617.1" cy="149.8" r="0.5"/><circle cx="573.3" cy="218.3" r="0.45"/><circle cx="651.7" cy="151.3" r="0.45"/><circle cx="638.6" cy="194.8" r="0.6"/><circle cx="575.0" cy="208.1" r="0.6"/><circle cx="565.7" cy="205.4" r="0.35"/><circle cx="635.3" cy="171.8" r="0.35"/><circle cx="623.5" cy="152.2" r="0.85"/><circle cx="642.1" cy="185.8" r="0.35"/><circle cx="655.6" cy="213.8" r="0.5"/><circle cx="622.3" cy="202.9" r="0.6"/><circle cx="644.1" cy="173.9" r="0.45"/><circle cx="580.1" cy="165.9" r="0.85"/><circle cx="584.0" cy="191.7" r="0.85"/><circle cx="633.5" cy="190.7" r="0.7"/><circle cx="591.9" cy="172.1" r="0.5"/><circle cx="642.2" cy="151.6" r="0.5"/><circle cx="583.2" cy="203.9" r="0.35"/><circle cx="569.4" cy="142.0" r="0.5"/><circle cx="637.3" cy="167.4" r="0.45"/><circle cx="645.5" cy="171.7" r="0.55"/><circle cx="649.1" cy="138.5" r="0.85"/><circle cx="616.9" cy="216.5" r="0.5"/><circle cx="584.2" cy="193.7" r="0.85"/><circle cx="570.8" cy="202.0" r="0.6"/><circle cx="610.6" cy="152.8" r="0.85"/><circle cx="607.1" cy="182.0" r="0.5"/><circle cx="602.6" cy="150.4" r="0.45"/><circle cx="643.3" cy="215.3" r="0.55"/><circle cx="563.5" cy="156.7" r="0.35"/><circle cx="610.5" cy="171.5" r="0.45"/><circle cx="639.7" cy="148.2" r="0.45"/><circle cx="601.9" cy="213.5" r="0.45"/><circle cx="586.4" cy="147.9" r="0.85"/><circle cx="614.0" cy="208.0" r="0.55"/><circle cx="608.8" cy="193.9" r="0.55"/><circle cx="628.4" cy="201.3" r="0.35"/><circle cx="644.4" cy="151.1" r="0.5"/><circle cx="566.1" cy="165.3" r="0.55"/><circle cx="597.5" cy="159.8" r="0.5"/><circle cx="633.9" cy="201.0" r="0.6"/><circle cx="618.6" cy="179.9" r="0.5"/><circle cx="659.9" cy="146.6" r="0.7"/><circle cx="640.9" cy="211.3" r="0.85"/><circle cx="600.8" cy="138.9" r="0.55"/><circle cx="591.7" cy="160.1" r="0.55"/><circle cx="648.5" cy="219.1" r="0.6"/><circle cx="654.8" cy="141.5" r="0.5"/><circle cx="602.1" cy="153.3" r="0.6"/><circle cx="650.1" cy="147.0" r="0.6"/><circle cx="636.7" cy="157.6" r="0.7"/><circle cx="650.1" cy="178.3" r="0.55"/><circle cx="632.5" cy="182.3" r="0.55"/><circle cx="641.3" cy="186.8" r="0.6"/><circle cx="612.1" cy="161.7" r="0.85"/><circle cx="618.6" cy="195.7" r="0.45"/><circle cx="594.8" cy="179.8" r="0.7"/><circle cx="569.9" cy="171.7" r="0.5"/><circle cx="569.7" cy="190.2" r="0.35"/><circle cx="580.0" cy="132.9" r="0.35"/><circle cx="650.5" cy="170.0" r="0.55"/><circle cx="634.8" cy="190.9" r="0.5"/><circle cx="645.4" cy="183.9" r="0.7"/><circle cx="588.7" cy="215.6" r="0.85"/><circle cx="576.7" cy="160.0" r="0.55"/><circle cx="646.6" cy="148.1" r="0.5"/><circle cx="617.2" cy="168.5" r="0.55"/><circle cx="601.6" cy="133.3" r="0.85"/><circle cx="609.7" cy="149.2" r="0.85"/><circle cx="659.2" cy="157.6" r="0.45"/><circle cx="615.0" cy="205.4" r="0.6"/><circle cx="594.8" cy="219.2" r="0.5"/><circle cx="583.2" cy="179.9" r="0.35"/><circle cx="658.8" cy="182.2" r="0.7"/><circle cx="617.0" cy="162.1" r="0.7"/><circle cx="603.7" cy="211.9" r="0.55"/><circle cx="650.6" cy="169.6" r="0.85"/><circle cx="647.0" cy="137.4" r="0.5"/><circle cx="627.5" cy="131.1" r="0.7"/><circle cx="608.4" cy="175.1" r="0.55"/><circle cx="573.4" cy="161.6" r="0.5"/><circle cx="617.9" cy="176.2" r="0.7"/><circle cx="596.8" cy="204.1" r="0.7"/><circle cx="601.6" cy="162.6" r="0.55"/><circle cx="566.3" cy="156.6" r="0.45"/><circle cx="590.2" cy="203.5" r="0.7"/><circle cx="580.1" cy="142.3" r="0.45"/><circle cx="626.8" cy="139.3" r="0.45"/><circle cx="562.6" cy="178.6" r="0.7"/><circle cx="596.3" cy="158.7" r="0.35"/><circle cx="587.3" cy="202.0" r="0.5"/><circle cx="583.0" cy="214.2" r="0.85"/><circle cx="577.5" cy="140.8" r="0.85"/><circle cx="609.8" cy="144.1" r="0.6"/><circle cx="590.5" cy="174.3" r="0.35"/><circle cx="584.1" cy="162.1" r="0.7"/><circle cx="631.6" cy="156.4" r="0.7"/><circle cx="607.7" cy="131.0" r="0.55"/><circle cx="571.6" cy="196.8" r="0.55"/><circle cx="605.3" cy="180.6" r="0.35"/><circle cx="586.3" cy="136.1" r="0.7"/><circle cx="631.3" cy="214.5" r="0.7"/><circle cx="634.6" cy="210.7" r="0.6"/><circle cx="608.3" cy="210.9" r="0.55"/><circle cx="571.2" cy="192.1" r="0.45"/><circle cx="633.9" cy="218.5" r="0.6"/><circle cx="621.0" cy="200.5" r="0.35"/><circle cx="581.0" cy="134.3" r="0.85"/><circle cx="618.7" cy="191.1" r="0.5"/><circle cx="644.7" cy="141.8" r="0.5"/><circle cx="632.7" cy="184.8" r="0.6"/><circle cx="639.1" cy="211.7" r="0.35"/><circle cx="637.4" cy="184.5" r="0.6"/><circle cx="584.2" cy="165.6" r="0.5"/><circle cx="583.3" cy="174.7" r="0.55"/><circle cx="637.1" cy="134.6" r="0.7"/><circle cx="602.5" cy="138.9" r="0.5"/><circle cx="647.6" cy="156.5" r="0.7"/><circle cx="591.0" cy="146.8" r="0.35"/><circle cx="573.9" cy="171.8" r="0.85"/><circle cx="610.9" cy="182.9" r="0.7"/><circle cx="562.8" cy="183.6" r="0.85"/><circle cx="619.6" cy="218.0" r="0.55"/><circle cx="614.9" cy="144.7" r="0.5"/><circle cx="631.5" cy="202.7" r="0.5"/><circle cx="570.3" cy="204.4" r="0.55"/><circle cx="634.7" cy="192.0" r="0.45"/><circle cx="586.8" cy="219.2" r="0.55"/><circle cx="651.9" cy="214.9" r="0.5"/><circle cx="569.2" cy="162.7" r="0.35"/><circle cx="645.4" cy="198.9" r="0.5"/><circle cx="621.6" cy="178.9" r="0.7"/><circle cx="642.3" cy="185.8" r="0.85"/><circle cx="623.5" cy="139.2" r="0.6"/><circle cx="622.8" cy="204.9" r="0.85"/><circle cx="582.5" cy="137.7" r="0.5"/><circle cx="563.3" cy="214.0" r="0.55"/><circle cx="642.3" cy="183.3" r="0.45"/><circle cx="593.3" cy="180.5" r="0.5"/><circle cx="619.3" cy="210.7" r="0.85"/><circle cx="577.7" cy="219.3" r="0.35"/><circle cx="595.6" cy="148.8" r="0.7"/><circle cx="659.9" cy="196.3" r="0.7"/><circle cx="602.6" cy="193.0" r="0.35"/><circle cx="644.6" cy="176.0" r="0.5"/><circle cx="618.4" cy="167.5" r="0.5"/><circle cx="632.3" cy="162.3" r="0.5"/><circle cx="592.5" cy="173.1" r="0.55"/><circle cx="606.6" cy="137.6" r="0.5"/><circle cx="569.1" cy="175.9" r="0.6"/><circle cx="625.3" cy="213.5" r="0.45"/><circle cx="574.6" cy="148.2" r="0.85"/><circle cx="569.8" cy="140.0" r="0.45"/><circle cx="609.8" cy="204.1" r="0.85"/><circle cx="565.6" cy="142.1" r="0.6"/><circle cx="641.3" cy="179.0" r="0.85"/><circle cx="651.4" cy="176.5" r="0.55"/><circle cx="652.2" cy="150.0" r="0.6"/><circle cx="620.9" cy="220.0" r="0.35"/><circle cx="597.7" cy="136.4" r="0.55"/><circle cx="603.1" cy="132.7" r="0.45"/><circle cx="605.6" cy="137.3" r="0.5"/><circle cx="616.4" cy="191.4" r="0.7"/><circle cx="655.3" cy="157.5" r="0.35"/><circle cx="575.5" cy="146.8" r="0.85"/><circle cx="604.3" cy="133.5" r="0.55"/><circle cx="624.7" cy="201.0" r="0.35"/><circle cx="630.9" cy="178.7" r="0.45"/><circle cx="573.6" cy="141.5" r="0.35"/><circle cx="604.9" cy="140.2" r="0.35"/><circle cx="588.4" cy="212.8" r="0.6"/><circle cx="580.2" cy="144.8" r="0.5"/><circle cx="563.4" cy="150.5" r="0.7"/><circle cx="592.3" cy="133.3" r="0.55"/><circle cx="572.1" cy="137.9" r="0.35"/><circle cx="659.0" cy="168.4" r="0.5"/><circle cx="586.2" cy="141.2" r="0.7"/><circle cx="614.3" cy="156.7" r="0.55"/><circle cx="646.1" cy="170.0" r="0.45"/><circle cx="570.0" cy="139.0" r="0.85"/><circle cx="654.3" cy="217.8" r="0.5"/><circle cx="629.5" cy="217.9" r="0.6"/><circle cx="603.0" cy="182.5" r="0.55"/><circle cx="640.4" cy="173.1" r="0.45"/><circle cx="569.8" cy="192.2" r="0.85"/><circle cx="577.0" cy="183.6" r="0.55"/><circle cx="580.2" cy="212.4" r="0.55"/><circle cx="597.9" cy="163.5" r="0.7"/><circle cx="593.4" cy="173.2" r="0.35"/><circle cx="630.8" cy="218.7" r="0.7"/><circle cx="611.4" cy="191.8" r="0.85"/><circle cx="629.7" cy="215.5" r="0.85"/><circle cx="586.9" cy="135.6" r="0.35"/><circle cx="639.1" cy="157.7" r="0.55"/><circle cx="633.2" cy="209.8" r="0.6"/><circle cx="647.4" cy="150.7" r="0.85"/><circle cx="589.6" cy="138.8" r="0.45"/><circle cx="576.8" cy="179.9" r="0.5"/><circle cx="637.7" cy="154.7" r="0.85"/><circle cx="633.2" cy="217.8" r="0.6"/><circle cx="656.5" cy="151.7" r="0.85"/><circle cx="564.3" cy="175.4" r="0.7"/><circle cx="652.9" cy="172.7" r="0.7"/><circle cx="615.2" cy="133.3" r="0.45"/><circle cx="592.1" cy="143.3" r="0.5"/><circle cx="624.2" cy="178.5" r="0.5"/><circle cx="571.9" cy="145.3" r="0.7"/><circle cx="646.1" cy="208.4" r="0.85"/><circle cx="644.9" cy="175.9" r="0.7"/><circle cx="625.0" cy="139.1" r="0.85"/><circle cx="657.3" cy="186.7" r="0.5"/><circle cx="654.8" cy="155.4" r="0.45"/><circle cx="635.9" cy="215.7" r="0.45"/><circle cx="563.1" cy="147.7" r="0.5"/><circle cx="600.8" cy="215.0" r="0.35"/><circle cx="640.7" cy="139.5" r="0.45"/><circle cx="585.9" cy="158.7" r="0.35"/><circle cx="621.7" cy="176.6" r="0.85"/><circle cx="632.0" cy="185.4" r="0.55"/><circle cx="595.3" cy="178.3" r="0.45"/><circle cx="592.4" cy="213.0" r="0.55"/><circle cx="602.5" cy="181.7" r="0.85"/><circle cx="573.6" cy="162.3" r="0.7"/><circle cx="568.7" cy="173.7" r="0.35"/><circle cx="580.1" cy="151.3" r="0.6"/><circle cx="622.7" cy="154.0" r="0.35"/><circle cx="576.7" cy="201.1" r="0.35"/><circle cx="642.9" cy="207.3" r="0.35"/><circle cx="646.3" cy="219.6" r="0.5"/><circle cx="604.1" cy="171.8" r="0.85"/><circle cx="616.5" cy="158.7" r="0.45"/><circle cx="652.0" cy="169.6" r="0.55"/><circle cx="640.5" cy="191.8" r="0.6"/><circle cx="577.7" cy="185.8" r="0.7"/><circle cx="639.4" cy="152.1" r="0.55"/><circle cx="632.2" cy="157.7" r="0.5"/><circle cx="631.2" cy="185.0" r="0.45"/><circle cx="576.3" cy="143.2" r="0.85"/><circle cx="636.9" cy="183.1" r="0.5"/><circle cx="630.8" cy="215.4" r="0.7"/><circle cx="614.3" cy="203.4" r="0.6"/><circle cx="595.5" cy="200.3" r="0.35"/><circle cx="607.3" cy="165.9" r="0.5"/><circle cx="642.2" cy="137.3" r="0.6"/><circle cx="643.4" cy="152.8" r="0.35"/><circle cx="608.7" cy="146.8" r="0.45"/><circle cx="594.5" cy="186.0" r="0.5"/><circle cx="573.3" cy="143.5" r="0.6"/><circle cx="611.8" cy="176.7" r="0.55"/><circle cx="607.3" cy="157.6" r="0.7"/><circle cx="597.1" cy="193.6" r="0.55"/><circle cx="562.1" cy="133.8" r="0.35"/><circle cx="640.5" cy="219.2" r="0.7"/><circle cx="635.3" cy="176.2" r="0.35"/><circle cx="629.2" cy="192.7" r="0.45"/><circle cx="649.7" cy="195.8" r="0.7"/><circle cx="652.0" cy="167.7" r="0.45"/><circle cx="620.4" cy="146.2" r="0.45"/><circle cx="611.3" cy="218.2" r="0.5"/><circle cx="605.4" cy="164.0" r="0.6"/><circle cx="637.3" cy="162.6" r="0.5"/><circle cx="575.2" cy="163.3" r="0.35"/><circle cx="618.3" cy="194.6" r="0.45"/><circle cx="569.0" cy="152.3" r="0.5"/><circle cx="623.0" cy="159.9" r="0.55"/><circle cx="567.7" cy="185.2" r="0.5"/><circle cx="608.6" cy="181.2" r="0.55"/><circle cx="589.4" cy="169.7" r="0.7"/><circle cx="659.6" cy="145.2" r="0.7"/><circle cx="646.3" cy="187.9" r="0.85"/><circle cx="578.9" cy="153.9" r="0.7"/><circle cx="571.2" cy="155.0" r="0.5"/><circle cx="642.0" cy="170.4" r="0.5"/><circle cx="587.7" cy="219.3" r="0.7"/><circle cx="635.1" cy="217.0" r="0.7"/><circle cx="565.6" cy="145.6" r="0.85"/><circle cx="654.8" cy="208.6" r="0.85"/><circle cx="631.8" cy="199.3" r="0.55"/><circle cx="593.1" cy="174.3" r="0.6"/><circle cx="651.0" cy="158.4" r="0.6"/><circle cx="610.2" cy="195.5" r="0.35"/><circle cx="587.0" cy="148.3" r="0.6"/><circle cx="643.4" cy="134.9" r="0.85"/><circle cx="565.4" cy="200.6" r="0.85"/><circle cx="651.8" cy="188.0" r="0.6"/><circle cx="570.2" cy="167.2" r="0.35"/><circle cx="599.9" cy="154.2" r="0.7"/><circle cx="658.6" cy="150.8" r="0.7"/><circle cx="571.6" cy="197.4" r="0.55"/><circle cx="630.6" cy="150.6" r="0.85"/><circle cx="619.4" cy="153.7" r="0.6"/><circle cx="597.3" cy="217.4" r="0.5"/><circle cx="587.0" cy="218.8" r="0.35"/><circle cx="658.2" cy="165.3" r="0.45"/><circle cx="623.4" cy="212.6" r="0.6"/><circle cx="626.0" cy="132.2" r="0.45"/><circle cx="635.5" cy="203.7" r="0.35"/><circle cx="568.8" cy="181.9" r="0.85"/><circle cx="598.0" cy="135.1" r="0.85"/><circle cx="631.6" cy="140.8" r="0.7"/><circle cx="628.0" cy="174.7" r="0.55"/><circle cx="579.1" cy="168.3" r="0.7"/><circle cx="572.9" cy="211.5" r="0.6"/><circle cx="589.1" cy="192.3" r="0.55"/><circle cx="586.8" cy="164.0" r="0.45"/><circle cx="635.7" cy="169.2" r="0.5"/><circle cx="628.8" cy="139.4" r="0.45"/><circle cx="627.1" cy="174.3" r="0.7"/><circle cx="645.2" cy="155.1" r="0.85"/><circle cx="601.4" cy="168.5" r="0.35"/><circle cx="602.5" cy="152.6" r="0.55"/><circle cx="624.2" cy="160.3" r="0.35"/><circle cx="649.6" cy="190.5" r="0.45"/><circle cx="650.6" cy="141.6" r="0.35"/><circle cx="645.9" cy="212.3" r="0.35"/><circle cx="592.9" cy="186.9" r="0.85"/><circle cx="596.6" cy="169.6" r="0.85"/><circle cx="584.4" cy="148.5" r="0.55"/><circle cx="563.2" cy="186.8" r="0.35"/><circle cx="659.7" cy="193.5" r="0.7"/><circle cx="614.7" cy="163.2" r="0.5"/><circle cx="629.7" cy="181.2" r="0.35"/><circle cx="582.9" cy="152.0" r="0.35"/><circle cx="564.0" cy="178.2" r="0.45"/><circle cx="571.9" cy="195.4" r="0.5"/><circle cx="563.6" cy="195.8" r="0.7"/><circle cx="639.6" cy="181.6" r="0.5"/><circle cx="628.7" cy="134.4" r="0.85"/><circle cx="616.5" cy="207.3" r="0.7"/><circle cx="596.1" cy="145.4" r="0.7"/><circle cx="563.7" cy="198.1" r="0.55"/><circle cx="594.4" cy="207.7" r="0.35"/><circle cx="646.3" cy="141.2" r="0.5"/><circle cx="569.4" cy="195.8" r="0.55"/><circle cx="582.7" cy="171.9" r="0.45"/><circle cx="585.8" cy="209.1" r="0.7"/><circle cx="613.0" cy="164.1" r="0.7"/><circle cx="572.5" cy="148.5" r="0.5"/><circle cx="607.2" cy="216.5" r="0.85"/><circle cx="654.3" cy="138.0" r="0.55"/><circle cx="620.6" cy="176.2" r="0.7"/><circle cx="608.7" cy="187.0" r="0.45"/><circle cx="635.9" cy="135.5" r="0.35"/><circle cx="578.5" cy="205.7" r="0.6"/><circle cx="652.4" cy="148.0" r="0.85"/><circle cx="607.8" cy="142.5" r="0.85"/><circle cx="599.1" cy="156.0" r="0.85"/><circle cx="574.2" cy="206.0" r="0.5"/><circle cx="594.8" cy="135.0" r="0.5"/><circle cx="637.9" cy="212.3" r="0.7"/><circle cx="586.4" cy="149.5" r="0.35"/><circle cx="591.9" cy="164.6" r="0.35"/><circle cx="644.9" cy="212.5" r="0.5"/><circle cx="651.3" cy="155.9" r="0.7"/><circle cx="576.2" cy="189.7" r="0.35"/><circle cx="563.6" cy="153.6" r="0.45"/><circle cx="634.1" cy="191.8" r="0.7"/><circle cx="621.6" cy="190.6" r="0.45"/><circle cx="649.3" cy="195.4" r="0.7"/><circle cx="636.4" cy="167.1" r="0.85"/><circle cx="655.3" cy="136.5" r="0.55"/><circle cx="609.9" cy="206.1" r="0.6"/><circle cx="641.3" cy="159.2" r="0.55"/><circle cx="631.4" cy="166.9" r="0.5"/><circle cx="573.6" cy="132.4" r="0.85"/><circle cx="570.5" cy="134.5" r="0.7"/><circle cx="597.8" cy="131.9" r="0.55"/><circle cx="564.6" cy="137.6" r="0.55"/></g></g>
<!-- lid -->
<path class="w" d="M581.5,101 C586,98 592,93.6 598,91.4 C602,89.8 606,89.4 609.5,89.4 C613,89.4 617,89.8 621,91.4 C627,93.6 633,98 637.5,101 Z"/>
<path d="M584.6,100.8 l7.6,-5 l-3.4,5 z M590.4,100.8 l6.4,-6.2 l-2.6,6.2 z M596.6,100.8 l4,-7 l-.6,7 z M602.4,100.8 l1.8,-7.6 l1.4,7.6 z M608.2,100.8 l.6,-7.8 l2,7.8 z M613.8,100.8 l-.8,-7.6 l3.6,7.6 z M619.4,100.8 l-2.8,-7 l5.6,7 z M625.2,100.8 l-5,-6.2 l8,6.2 z M631,100.8 l-7,-5 l10,5 z" fill="#2b2b2b" stroke="#2b2b2b" stroke-width=".5" stroke-linejoin="round"/>
<rect class="w" x="579.5" y="101" width="60" height="3.5" style="stroke-width:1.2"/>
<rect class="k" x="617" y="86.2" width="8.5" height="5"/>
<path class="k" d="M620.6,91 h4 v2.6 h-4 z"/>
<circle cx="597.5" cy="82.8" r="6.3" fill="#4a4a4a" stroke="#2b2b2b" stroke-width="1.2"/>
<circle cx="597.5" cy="82.8" r="4.2" fill="none" stroke="#bbb" stroke-width=".8" stroke-dasharray=".6 1.1"/>
<path d="M597.5,83 L597.5,87 M595.6,87.2 h3.8" stroke="#ddd" stroke-width=".8"/>
<path class="ln" d="M595.4,89 V92.6 M599.6,89 V91.6"/>
<!-- diffuser -->
<rect class="k" x="599" y="118" width="20.6" height="7.4" rx="2"/>
<path d="M603.4,120.2 v3.4 M607.4,120.2 v3.4 M611.4,120.2 v3.4 M615.4,120.2 v3.4" stroke="#fff" stroke-width="1.6" fill="none"/>
<path class="w" d="M604.6,125.4 h9 v3.4 h-9 z"/>
<path class="k" d="M606.6,126.2 h5 v1.4 h-5 z"/>
<!-- upper internal pipe -->
<path class="w" d="M565.3,145.2 L597.7,145.2 L597.7,144 L604.8,144 L604.8,128.8 L613.4,128.8 L613.4,150 C613.4,156 605,156.4 604.6,150.4 L604.6,154.4 L597.7,154.4 L597.7,153.8 L564.4,153.8 Z"/>
<path class="ln" d="M597.7,145.2 V153.8 M604.8,133 H613.4 M604.8,135.4 H613.4 M604.8,139 H613.4 M604.8,144 V150.4 M601.6,149 h2"/>
<!-- G -->
<path class="ln" d="M566.2,149 H579.7 M575.2,149 V154.2 M561.4,178.2 H579.7 M575.2,175.2 V179"/>
<text class="lt" transform="translate(567.18,172.1) scale(1.18,1)" font-size="18.6">G</text>
<!-- lower internal pipe -->
<path class="w" d="M597.7,175.2 L599,175.2 C608,175.2 613.8,181 613.8,189 L613.8,206 L603.7,206 L603.7,183.5 L561.2,183.5 L561.2,182.6 L597.7,182.6 Z"/>
<path class="ln" d="M597.7,175.2 V183.5 M603.7,190.6 H613.8 M603.7,193 H613.8 M603.7,199 H613.8 M603.7,201 H613.8"/>
<!-- laterals -->
<rect class="k" x="571.5" y="206" width="76.5" height="6.6" rx="2.8"/>
<ellipse cx="572.8" cy="209.3" rx="1" ry="2.3" fill="#fff"/><ellipse cx="646.7" cy="209.3" rx="1" ry="2.3" fill="#fff"/>
<circle cx="593.2" cy="209.3" r="2.5" fill="#fff"/><circle cx="624.3" cy="209.3" r="2.5" fill="#fff"/>
<path class="k" d="M597.7,205 h22.5 v9.4 h-3.4 v2.2 h-16 v-2.2 h-3.1 z"/>
<path d="M607.8,206.6 h2.2 l-.5,5.2 h1.4 v1 h-4 v-1 h1.4 z" fill="#fff"/>
<path d="M601.6,213.6 h15" stroke="#fff" stroke-width=".5"/>
<path class="w" d="M605.2,216.6 h7.6 v6.6 h-7.6 z"/>
<path class="dim" d="M599.5,131.4 H682.3 M678.6,131.4 V159.4 M678.6,177.8 V205.5 M572,205.5 H683"/>
<!-- base -->
<path class="w" d="M570.7,224.7 L651,224.7 L654.4,230 L662.2,239.8 L559.5,239.8 L567.4,230 Z"/>
<path class="ln" d="M567.4,230 L570,227.4 H651.8 L654.4,230 M572.6,227.4 L564.6,239.8 M574.8,227.4 L567.8,239.8 M580.8,227.4 L576,239.8 M583,227.4 L578.6,239.8 M586.4,227.4 L583.4,239.8 M588.6,227.4 L586,239.8 M604,224.7 L603,239.8 M606,224.7 L605.4,239.8 M615.6,224.7 L616.4,239.8 M617.8,224.7 L619,239.8 M633.4,227.4 L636.4,239.8 M635.6,227.4 L639,239.8 M639.4,227.4 L643.8,239.8 M641.6,227.4 L646.6,239.8 M647.4,227.4 L654.4,239.8 M649.6,227.4 L657.6,239.8"/>
<path d="M559,241.4 H663" stroke="#2b2b2b" stroke-width="3.2" fill="none"/>
<!-- drain plug -->
<g transform="rotate(-24 551 213)"><rect class="w" x="546.6" y="208" width="7.6" height="10.4" rx="1.2"/><path class="ln" d="M546.6,211.4 h7.6 M546.6,215 h7.6 M550.4,208 v10.4"/></g>
<!-- nuts -->
<rect class="k" x="538.3" y="140.2" width="11.2" height="18" rx="1.3"/><path d="M540.6,147.6 h3.2 M540.6,151 h3.2" stroke="#e8e8e8" stroke-width=".9" fill="none"/><path d="M540.6,144.2 h3.2 M540.6,154.4 h3.2" stroke="#8a8a8a" stroke-width=".8" fill="none"/><path d="M547,143 v12.6" stroke="#9a9a9a" stroke-width=".9" fill="none" stroke-dasharray=".9 2.5"/><path d="M545.2,140.2 v18" stroke="#888" stroke-width=".5"/>
<rect class="k" x="538.3" y="171" width="11.2" height="18" rx="1.3"/><path d="M540.6,178.4 h3.2 M540.6,181.8 h3.2" stroke="#e8e8e8" stroke-width=".9" fill="none"/><path d="M540.6,175 h3.2 M540.6,185.2 h3.2" stroke="#8a8a8a" stroke-width=".8" fill="none"/><path d="M547,174 v12.6" stroke="#9a9a9a" stroke-width=".9" fill="none" stroke-dasharray=".9 2.5"/><path d="M545.2,171 v18" stroke="#888" stroke-width=".5"/>
<!-- valve -->
<path class="w" d="M475.2,98.6 L476.6,96.4 C477,95.6 478,95.4 479,95.6 L488,98 C489.6,98.6 490,99.6 489.4,100.8 L488.6,102.6 C496,105.6 503,108.6 506,110.4 L509.6,109.6 L512.6,113 L514.4,115.2 L502,115.2 C498,110.6 493,106.6 487.6,104.4 C484,103.4 479,102 476,101 C475,100.6 474.8,99.4 475.2,98.6 Z"/>
<path class="ln" d="M502,115.2 L504.6,110.2 L506,110.4 M507.6,114.6 L509.6,109.6"/>
<path class="w" d="M490.5,115.2 L525,115.2 C527,118 528,122 528.2,127.5 L528.2,137.2 L486,137.2 L486,127.5 C486.4,122 488,118 490.5,115.2 Z"/>
<path class="ln" d="M486,127.5 H528.2 M486.4,130.2 H528 M522.6,127.5 V137.2"/>
<rect class="w" x="529" y="127.5" width="2.6" height="5.2"/>
<rect class="w" x="484.2" y="137.2" width="46" height="5.3" style="stroke-width:1.3"/>
<path class="ln" d="M492,137.2 v5.3 M494.6,137.2 v5.3 M506,137.2 v5.3 M508.6,137.2 v5.3 M518,137.2 v5.3 M520.6,137.2 v5.3 M486.4,139 h42"/>
<path class="w" d="M489,142.5 L533.2,142.5 L533.2,143.4 L538.3,143.4 L538.3,154.2 L533.2,154.2 L533.2,154.8 L507,154.8 L504,157.5 L489,157.5 Z"/>
<path class="ln" d="M533.2,143.4 V154.2 M524.4,142.5 C523.2,146 523.2,151 524.4,154.8"/>
<path class="w" d="M489.8,157.5 h14.2 v3.6 h-14.2 z"/>
<path class="w" d="M491.2,161.1 L502.5,161.1 L502.5,174 L529.5,174 L529.5,175 L538.3,175 L538.3,185 L529.5,185 L529.5,186 L497,186 C493.4,186 491.2,183.6 491.2,180 Z"/>
<path class="ln" d="M529.5,175 V185 M502.5,174 L497.6,179 L497.6,186 M497.6,179 L491.2,179"/>
<circle class="w" cx="515.2" cy="130.2" r="7.6" style="stroke-width:.9"/><circle class="ln" cx="515.2" cy="130.2" r="5.8" style="stroke-width:1.5"/><circle cx="515.2" cy="130.2" r=".6" fill="#333"/>
<circle class="w" cx="499.2" cy="149.3" r="7.8" style="stroke-width:.9"/><circle class="ln" cx="499.2" cy="149.3" r="5.9" style="stroke-width:1.5"/><circle cx="499.2" cy="149.3" r=".6" fill="#333"/>
<path class="dim" d="M486,130.2 H515.2 M467,149.4 H499.2"/>
<!-- letters -->
<text class="lt" x="447.79" y="193.2" font-size="20">B</text>
<text class="lt" x="467.74" y="203.0" font-size="20">A</text>
<text class="lt" x="670.84" y="175.8" font-size="20">D</text>
<text class="lt" transform="translate(685.26,166.4) scale(1.2,1)" font-size="20">C</text>
<text class="lt" x="604.64" y="256.6" font-size="18">F</text>
<text class="lt" x="604.54" y="274.9" font-size="18.6">E</text>
<text class="cap" x="546.7" y="314.2" font-size="16.4" textLength="95" lengthAdjust="spacingAndGlyphs">S700(B)-S900</text>
</g>
<g id="d3">
<defs>
<clipPath id="cav3"><path d="M899,97.4 C878,97.4 867,104 861.5,114 C855,126 848.8,150 848.8,176 C848.8,204 860,218 886,218 L914,218 C940,218 951.4,204 951.4,176 C951.4,150 945,126 937.5,114 C931,104 921,97.4 900,97.4 Z"/></clipPath>
<clipPath id="snd3"><path d="M846,123.1 L895.3,123.1 L895.3,137 L846,137 Z M905.2,123.1 L956,123.1 L956,220 L846,220 L846,178.8 L895,178.8 C895,172.6 891,169.2 883.4,169.2 L883.4,146.3 L893,146.3 C896,149.6 903.6,149.6 905.2,143 Z"/></clipPath>
</defs>
<path class="dim" d="M728.3,120.7 H798.8 M736,120.7 V172 M736,188.6 V239.3 M748.3,140.4 H782.6 M755.9,140.4 V182.4 M755.9,199.6 V239.3 M728.3,239.3 H847 M964.5,239.3 H990.8 M898.5,79.5 H990.8 M984.3,79.5 V150 M984.3,169 V239.3"/>
<path class="dim" d="M836.2,130 V268.4 M963,188 V269 M836.2,264.5 H891"/>
<path d="M908.3,264.5 H963" stroke="#8a8a8a" stroke-width=".7" fill="none"/>
<path class="dimb" d="M846.5,233.6 V250.4 M956.2,233.6 V250.4 M846.5,248 H892.5 M911.3,248 H956.2"/>
<!-- shell -->
<path class="w" d="M873,92.3 C850,95 836.4,110 836.4,138 L836.4,184 C836.4,204 843,215.5 860,219.8 L940,219.8 C957,215.5 963.6,204 963.6,184 L963.6,138 C963.6,110 950,95 927,92.3 Z"/>
<path class="w" style="stroke-width:1.5" d="M899,97.4 C878,97.4 867,104 861.5,114 C855,126 848.8,150 848.8,176 C848.8,204 860,218 886,218 L914,218 C940,218 951.4,204 951.4,176 C951.4,150 945,126 937.5,114 C931,104 921,97.4 900,97.4 Z"/>
<g class="sand" clip-path="url(#cav3)"><g clip-path="url(#snd3)"><circle cx="872.2" cy="174.2" r="0.5"/><circle cx="946.8" cy="167.5" r="0.6"/><circle cx="853.2" cy="123.3" r="0.85"/><circle cx="897.6" cy="174.9" r="0.45"/><circle cx="955.5" cy="167.1" r="0.85"/><circle cx="906.5" cy="160.1" r="0.85"/><circle cx="862.6" cy="182.9" r="0.85"/><circle cx="947.8" cy="159.4" r="0.35"/><circle cx="919.9" cy="128.1" r="0.85"/><circle cx="951.3" cy="126.1" r="0.85"/><circle cx="849.4" cy="205.1" r="0.55"/><circle cx="911.4" cy="210.3" r="0.55"/><circle cx="924.6" cy="210.4" r="0.55"/><circle cx="926.1" cy="177.4" r="0.45"/><circle cx="942.7" cy="131.4" r="0.45"/><circle cx="900.4" cy="146.8" r="0.7"/><circle cx="894.0" cy="182.2" r="0.5"/><circle cx="892.3" cy="202.0" r="0.6"/><circle cx="884.6" cy="178.2" r="0.6"/><circle cx="871.6" cy="154.3" r="0.35"/><circle cx="940.2" cy="217.1" r="0.7"/><circle cx="922.5" cy="189.1" r="0.5"/><circle cx="952.1" cy="208.9" r="0.6"/><circle cx="857.4" cy="184.9" r="0.7"/><circle cx="937.5" cy="177.1" r="0.5"/><circle cx="859.7" cy="168.3" r="0.7"/><circle cx="954.9" cy="130.5" r="0.85"/><circle cx="853.3" cy="208.1" r="0.35"/><circle cx="878.3" cy="195.8" r="0.85"/><circle cx="859.1" cy="180.1" r="0.85"/><circle cx="850.9" cy="191.0" r="0.5"/><circle cx="906.6" cy="210.5" r="0.5"/><circle cx="901.6" cy="217.9" r="0.5"/><circle cx="846.8" cy="132.4" r="0.6"/><circle cx="849.5" cy="140.9" r="0.55"/><circle cx="878.1" cy="147.3" r="0.7"/><circle cx="850.7" cy="205.3" r="0.5"/><circle cx="885.6" cy="135.3" r="0.85"/><circle cx="887.6" cy="166.2" r="0.6"/><circle cx="888.5" cy="205.2" r="0.7"/><circle cx="907.5" cy="181.5" r="0.85"/><circle cx="901.8" cy="163.4" r="0.7"/><circle cx="924.7" cy="211.9" r="0.55"/><circle cx="953.6" cy="172.0" r="0.6"/><circle cx="883.3" cy="197.7" r="0.6"/><circle cx="880.6" cy="158.1" r="0.6"/><circle cx="915.5" cy="127.8" r="0.7"/><circle cx="882.6" cy="155.9" r="0.5"/><circle cx="913.0" cy="148.8" r="0.55"/><circle cx="848.4" cy="127.8" r="0.7"/><circle cx="848.3" cy="157.4" r="0.7"/><circle cx="896.2" cy="178.9" r="0.5"/><circle cx="865.5" cy="139.8" r="0.85"/><circle cx="886.6" cy="179.2" r="0.5"/><circle cx="932.6" cy="132.1" r="0.85"/><circle cx="849.0" cy="176.6" r="0.7"/><circle cx="860.5" cy="170.0" r="0.7"/><circle cx="934.4" cy="144.9" r="0.45"/><circle cx="920.6" cy="184.4" r="0.35"/><circle cx="857.2" cy="152.9" r="0.5"/><circle cx="920.2" cy="143.5" r="0.85"/><circle cx="940.1" cy="138.3" r="0.5"/><circle cx="927.6" cy="142.9" r="0.6"/><circle cx="895.6" cy="143.6" r="0.35"/><circle cx="849.7" cy="213.9" r="0.5"/><circle cx="934.7" cy="202.5" r="0.45"/><circle cx="941.0" cy="154.7" r="0.85"/><circle cx="916.6" cy="199.4" r="0.5"/><circle cx="910.8" cy="162.4" r="0.6"/><circle cx="933.3" cy="148.0" r="0.5"/><circle cx="915.8" cy="149.9" r="0.6"/><circle cx="891.0" cy="210.4" r="0.45"/><circle cx="868.0" cy="167.8" r="0.85"/><circle cx="942.8" cy="216.7" r="0.55"/><circle cx="907.5" cy="216.6" r="0.7"/><circle cx="870.4" cy="193.6" r="0.85"/><circle cx="928.9" cy="193.8" r="0.5"/><circle cx="905.8" cy="207.4" r="0.85"/><circle cx="853.5" cy="178.5" r="0.5"/><circle cx="859.2" cy="145.5" r="0.35"/><circle cx="945.4" cy="188.6" r="0.45"/><circle cx="944.6" cy="208.4" r="0.6"/><circle cx="851.4" cy="168.2" r="0.35"/><circle cx="864.9" cy="150.8" r="0.7"/><circle cx="848.2" cy="173.6" r="0.35"/><circle cx="949.3" cy="180.8" r="0.5"/><circle cx="859.8" cy="215.3" r="0.6"/><circle cx="898.5" cy="197.1" r="0.5"/><circle cx="870.3" cy="133.7" r="0.85"/><circle cx="859.1" cy="145.0" r="0.5"/><circle cx="947.4" cy="199.4" r="0.85"/><circle cx="947.3" cy="168.8" r="0.6"/><circle cx="940.9" cy="126.8" r="0.5"/><circle cx="873.3" cy="181.3" r="0.6"/><circle cx="892.5" cy="167.4" r="0.85"/><circle cx="936.1" cy="204.3" r="0.85"/><circle cx="860.0" cy="134.0" r="0.35"/><circle cx="899.1" cy="125.2" r="0.7"/><circle cx="855.5" cy="170.2" r="0.5"/><circle cx="863.3" cy="128.9" r="0.55"/><circle cx="917.2" cy="178.3" r="0.5"/><circle cx="875.1" cy="216.9" r="0.55"/><circle cx="859.6" cy="175.3" r="0.7"/><circle cx="925.5" cy="198.3" r="0.6"/><circle cx="865.6" cy="157.8" r="0.6"/><circle cx="917.5" cy="174.0" r="0.7"/><circle cx="934.1" cy="181.8" r="0.55"/><circle cx="851.8" cy="182.2" r="0.85"/><circle cx="923.3" cy="162.4" r="0.7"/><circle cx="892.0" cy="123.7" r="0.45"/><circle cx="904.9" cy="188.7" r="0.35"/><circle cx="934.3" cy="143.5" r="0.45"/><circle cx="942.8" cy="211.9" r="0.5"/><circle cx="952.6" cy="175.7" r="0.85"/><circle cx="874.8" cy="166.6" r="0.35"/><circle cx="949.3" cy="192.2" r="0.85"/><circle cx="943.6" cy="198.1" r="0.7"/><circle cx="857.9" cy="152.6" r="0.6"/><circle cx="857.3" cy="178.4" r="0.35"/><circle cx="898.1" cy="144.7" r="0.55"/><circle cx="850.9" cy="130.8" r="0.35"/><circle cx="918.5" cy="158.1" r="0.85"/><circle cx="848.6" cy="202.8" r="0.35"/><circle cx="848.8" cy="133.0" r="0.55"/><circle cx="938.0" cy="213.4" r="0.6"/><circle cx="878.9" cy="130.5" r="0.85"/><circle cx="908.0" cy="172.8" r="0.45"/><circle cx="857.7" cy="193.9" r="0.6"/><circle cx="852.7" cy="153.1" r="0.6"/><circle cx="865.8" cy="129.4" r="0.45"/><circle cx="917.1" cy="165.6" r="0.7"/><circle cx="928.9" cy="159.8" r="0.5"/><circle cx="911.9" cy="212.1" r="0.6"/><circle cx="892.0" cy="130.0" r="0.6"/><circle cx="871.9" cy="211.2" r="0.85"/><circle cx="928.2" cy="137.4" r="0.7"/><circle cx="908.5" cy="177.7" r="0.6"/><circle cx="921.4" cy="137.0" r="0.55"/><circle cx="944.7" cy="136.3" r="0.35"/><circle cx="900.8" cy="168.4" r="0.7"/><circle cx="902.9" cy="164.5" r="0.7"/><circle cx="940.4" cy="135.1" r="0.85"/><circle cx="867.9" cy="178.2" r="0.5"/><circle cx="948.8" cy="203.7" r="0.6"/><circle cx="950.9" cy="150.4" r="0.7"/><circle cx="940.1" cy="179.1" r="0.6"/><circle cx="910.3" cy="147.6" r="0.45"/><circle cx="879.8" cy="147.7" r="0.85"/><circle cx="888.1" cy="138.5" r="0.5"/><circle cx="872.3" cy="168.3" r="0.85"/><circle cx="861.8" cy="217.2" r="0.55"/><circle cx="923.2" cy="141.8" r="0.6"/><circle cx="937.8" cy="200.9" r="0.6"/><circle cx="849.1" cy="217.3" r="0.35"/><circle cx="940.2" cy="160.4" r="0.7"/><circle cx="943.0" cy="126.4" r="0.45"/><circle cx="944.0" cy="184.2" r="0.85"/><circle cx="920.3" cy="214.0" r="0.85"/><circle cx="874.0" cy="207.5" r="0.85"/><circle cx="874.4" cy="140.0" r="0.7"/><circle cx="920.3" cy="125.5" r="0.5"/><circle cx="864.7" cy="126.3" r="0.45"/><circle cx="892.6" cy="192.0" r="0.35"/><circle cx="859.0" cy="147.4" r="0.5"/><circle cx="850.0" cy="165.4" r="0.7"/><circle cx="920.3" cy="122.7" r="0.5"/><circle cx="882.5" cy="158.4" r="0.35"/><circle cx="869.1" cy="178.2" r="0.55"/><circle cx="889.0" cy="174.3" r="0.35"/><circle cx="943.2" cy="129.3" r="0.55"/><circle cx="858.4" cy="207.2" r="0.5"/><circle cx="856.7" cy="212.4" r="0.5"/><circle cx="920.6" cy="157.4" r="0.55"/><circle cx="878.5" cy="186.9" r="0.7"/><circle cx="949.9" cy="200.5" r="0.35"/><circle cx="929.0" cy="214.3" r="0.7"/><circle cx="908.3" cy="172.5" r="0.7"/><circle cx="900.3" cy="155.8" r="0.7"/><circle cx="878.4" cy="191.9" r="0.7"/><circle cx="866.0" cy="184.0" r="0.7"/><circle cx="862.4" cy="157.6" r="0.7"/><circle cx="896.0" cy="132.4" r="0.6"/><circle cx="861.6" cy="153.8" r="0.7"/><circle cx="917.5" cy="162.3" r="0.5"/><circle cx="917.2" cy="165.9" r="0.5"/><circle cx="932.0" cy="189.7" r="0.35"/><circle cx="924.7" cy="194.4" r="0.6"/><circle cx="909.3" cy="159.6" r="0.35"/><circle cx="875.2" cy="158.8" r="0.85"/><circle cx="861.0" cy="168.0" r="0.5"/><circle cx="873.2" cy="195.8" r="0.5"/><circle cx="942.3" cy="212.7" r="0.55"/><circle cx="905.6" cy="196.1" r="0.5"/><circle cx="900.8" cy="217.6" r="0.45"/><circle cx="875.8" cy="131.6" r="0.35"/><circle cx="908.1" cy="209.4" r="0.35"/><circle cx="866.3" cy="140.2" r="0.55"/><circle cx="919.7" cy="159.6" r="0.7"/><circle cx="860.1" cy="180.4" r="0.85"/><circle cx="889.8" cy="140.6" r="0.6"/><circle cx="864.7" cy="139.2" r="0.85"/><circle cx="873.5" cy="197.0" r="0.35"/><circle cx="938.7" cy="164.7" r="0.55"/><circle cx="950.4" cy="158.8" r="0.6"/><circle cx="945.7" cy="151.7" r="0.55"/><circle cx="953.5" cy="187.9" r="0.5"/><circle cx="944.5" cy="186.1" r="0.35"/><circle cx="912.2" cy="191.8" r="0.35"/><circle cx="857.8" cy="194.6" r="0.45"/><circle cx="900.1" cy="172.3" r="0.55"/><circle cx="867.9" cy="197.1" r="0.45"/><circle cx="850.1" cy="170.0" r="0.7"/><circle cx="950.1" cy="132.7" r="0.5"/><circle cx="951.5" cy="207.6" r="0.45"/><circle cx="897.4" cy="130.5" r="0.35"/><circle cx="848.8" cy="181.4" r="0.6"/><circle cx="854.6" cy="173.7" r="0.5"/><circle cx="881.5" cy="205.6" r="0.7"/><circle cx="922.3" cy="129.7" r="0.85"/><circle cx="912.1" cy="211.0" r="0.7"/><circle cx="854.8" cy="217.4" r="0.85"/><circle cx="868.6" cy="128.1" r="0.45"/><circle cx="894.1" cy="194.7" r="0.55"/><circle cx="880.7" cy="197.5" r="0.55"/><circle cx="854.6" cy="141.2" r="0.45"/><circle cx="889.1" cy="167.4" r="0.35"/><circle cx="905.1" cy="162.5" r="0.7"/><circle cx="899.8" cy="124.2" r="0.55"/><circle cx="929.3" cy="160.5" r="0.45"/><circle cx="896.1" cy="125.6" r="0.5"/><circle cx="886.4" cy="157.6" r="0.6"/><circle cx="885.8" cy="160.6" r="0.35"/><circle cx="934.5" cy="146.8" r="0.5"/><circle cx="861.8" cy="166.2" r="0.45"/><circle cx="863.5" cy="124.1" r="0.6"/><circle cx="890.4" cy="138.2" r="0.35"/><circle cx="861.3" cy="180.4" r="0.55"/><circle cx="899.9" cy="127.7" r="0.35"/><circle cx="890.3" cy="152.5" r="0.35"/><circle cx="923.4" cy="126.9" r="0.55"/><circle cx="850.3" cy="169.4" r="0.45"/><circle cx="872.6" cy="159.4" r="0.45"/><circle cx="864.1" cy="181.8" r="0.5"/><circle cx="946.4" cy="179.1" r="0.85"/><circle cx="926.0" cy="148.4" r="0.85"/><circle cx="949.6" cy="197.8" r="0.5"/><circle cx="899.7" cy="175.9" r="0.35"/><circle cx="935.6" cy="182.4" r="0.5"/><circle cx="880.9" cy="127.4" r="0.55"/><circle cx="952.6" cy="178.9" r="0.35"/><circle cx="857.5" cy="187.4" r="0.35"/><circle cx="864.7" cy="125.5" r="0.35"/><circle cx="866.8" cy="170.9" r="0.5"/><circle cx="868.1" cy="215.5" r="0.55"/><circle cx="883.4" cy="167.9" r="0.5"/><circle cx="949.4" cy="125.3" r="0.5"/><circle cx="928.7" cy="182.6" r="0.55"/><circle cx="855.7" cy="150.2" r="0.85"/><circle cx="891.4" cy="170.7" r="0.6"/><circle cx="882.8" cy="187.3" r="0.55"/><circle cx="865.2" cy="193.0" r="0.7"/><circle cx="888.4" cy="212.0" r="0.5"/><circle cx="947.6" cy="156.8" r="0.55"/><circle cx="894.2" cy="164.7" r="0.7"/><circle cx="898.9" cy="147.9" r="0.45"/><circle cx="901.8" cy="194.3" r="0.7"/><circle cx="922.7" cy="213.1" r="0.35"/><circle cx="862.9" cy="190.2" r="0.35"/><circle cx="936.5" cy="130.8" r="0.7"/><circle cx="920.5" cy="131.3" r="0.45"/><circle cx="912.1" cy="198.9" r="0.35"/><circle cx="942.6" cy="205.7" r="0.55"/><circle cx="897.3" cy="205.4" r="0.7"/><circle cx="882.7" cy="157.5" r="0.35"/><circle cx="867.4" cy="197.5" r="0.35"/><circle cx="883.2" cy="151.9" r="0.55"/><circle cx="854.9" cy="184.3" r="0.45"/><circle cx="921.7" cy="215.9" r="0.7"/><circle cx="861.7" cy="216.6" r="0.35"/><circle cx="871.3" cy="214.9" r="0.45"/><circle cx="939.6" cy="171.5" r="0.6"/><circle cx="931.9" cy="180.0" r="0.85"/><circle cx="943.1" cy="197.1" r="0.55"/><circle cx="865.5" cy="129.6" r="0.85"/><circle cx="934.7" cy="179.4" r="0.85"/><circle cx="952.3" cy="141.1" r="0.5"/><circle cx="855.4" cy="166.7" r="0.45"/><circle cx="936.8" cy="187.3" r="0.35"/><circle cx="916.6" cy="195.1" r="0.85"/><circle cx="922.9" cy="160.7" r="0.7"/><circle cx="895.0" cy="132.7" r="0.85"/><circle cx="950.0" cy="164.6" r="0.55"/><circle cx="868.7" cy="173.8" r="0.55"/><circle cx="878.9" cy="183.7" r="0.5"/><circle cx="884.1" cy="168.5" r="0.35"/><circle cx="947.6" cy="187.9" r="0.5"/><circle cx="892.5" cy="184.2" r="0.6"/><circle cx="903.1" cy="146.0" r="0.85"/><circle cx="955.5" cy="154.2" r="0.55"/><circle cx="894.3" cy="146.1" r="0.5"/><circle cx="864.2" cy="211.4" r="0.7"/><circle cx="870.1" cy="206.0" r="0.7"/><circle cx="913.3" cy="211.4" r="0.6"/><circle cx="939.8" cy="157.3" r="0.45"/><circle cx="945.3" cy="213.2" r="0.55"/><circle cx="944.3" cy="216.4" r="0.55"/><circle cx="955.7" cy="210.3" r="0.5"/><circle cx="951.3" cy="123.7" r="0.35"/><circle cx="849.1" cy="136.5" r="0.6"/><circle cx="903.1" cy="183.4" r="0.35"/><circle cx="867.4" cy="141.9" r="0.55"/><circle cx="893.6" cy="155.1" r="0.7"/><circle cx="867.6" cy="197.1" r="0.45"/><circle cx="857.4" cy="150.7" r="0.55"/><circle cx="894.8" cy="141.7" r="0.55"/><circle cx="929.9" cy="189.2" r="0.55"/><circle cx="953.8" cy="206.1" r="0.5"/><circle cx="949.7" cy="163.4" r="0.55"/><circle cx="898.2" cy="217.9" r="0.45"/><circle cx="885.6" cy="203.9" r="0.5"/><circle cx="849.2" cy="157.9" r="0.5"/><circle cx="934.8" cy="150.6" r="0.45"/><circle cx="948.3" cy="171.9" r="0.35"/><circle cx="860.5" cy="173.0" r="0.6"/><circle cx="848.3" cy="213.2" r="0.35"/><circle cx="868.4" cy="195.9" r="0.55"/><circle cx="885.0" cy="214.7" r="0.5"/><circle cx="953.7" cy="125.4" r="0.45"/><circle cx="872.3" cy="148.6" r="0.5"/><circle cx="937.9" cy="179.9" r="0.85"/><circle cx="856.3" cy="151.9" r="0.45"/><circle cx="919.9" cy="169.9" r="0.7"/><circle cx="874.6" cy="126.2" r="0.55"/><circle cx="850.1" cy="217.6" r="0.45"/><circle cx="946.4" cy="199.6" r="0.45"/><circle cx="950.9" cy="193.4" r="0.85"/><circle cx="932.8" cy="170.8" r="0.85"/><circle cx="883.1" cy="134.8" r="0.35"/><circle cx="864.6" cy="123.6" r="0.7"/><circle cx="852.6" cy="200.4" r="0.55"/><circle cx="897.4" cy="185.9" r="0.85"/><circle cx="935.5" cy="179.9" r="0.55"/><circle cx="886.8" cy="182.7" r="0.5"/><circle cx="866.1" cy="187.6" r="0.85"/><circle cx="906.2" cy="161.2" r="0.5"/><circle cx="894.9" cy="148.7" r="0.5"/><circle cx="895.8" cy="214.1" r="0.45"/><circle cx="909.5" cy="135.4" r="0.35"/><circle cx="891.3" cy="203.7" r="0.85"/><circle cx="896.5" cy="178.2" r="0.5"/><circle cx="849.4" cy="177.2" r="0.6"/><circle cx="858.8" cy="134.0" r="0.85"/><circle cx="924.0" cy="209.5" r="0.35"/><circle cx="893.9" cy="129.3" r="0.35"/><circle cx="902.6" cy="208.0" r="0.85"/><circle cx="916.8" cy="140.7" r="0.5"/><circle cx="865.9" cy="158.8" r="0.85"/><circle cx="889.6" cy="126.7" r="0.45"/><circle cx="950.5" cy="212.6" r="0.5"/><circle cx="913.2" cy="175.3" r="0.35"/><circle cx="860.5" cy="146.0" r="0.35"/><circle cx="900.5" cy="213.9" r="0.7"/><circle cx="854.7" cy="172.5" r="0.7"/><circle cx="915.6" cy="133.9" r="0.85"/><circle cx="936.0" cy="122.5" r="0.5"/><circle cx="953.2" cy="188.4" r="0.55"/><circle cx="875.4" cy="168.4" r="0.5"/><circle cx="877.8" cy="175.7" r="0.45"/><circle cx="872.0" cy="213.9" r="0.45"/><circle cx="862.5" cy="189.7" r="0.7"/><circle cx="955.2" cy="186.8" r="0.7"/><circle cx="846.9" cy="159.6" r="0.45"/><circle cx="929.5" cy="138.9" r="0.45"/><circle cx="917.4" cy="134.6" r="0.45"/><circle cx="851.4" cy="214.2" r="0.6"/><circle cx="869.6" cy="196.8" r="0.55"/><circle cx="888.9" cy="216.8" r="0.5"/><circle cx="857.5" cy="133.0" r="0.5"/><circle cx="860.0" cy="155.8" r="0.6"/><circle cx="854.5" cy="140.4" r="0.5"/><circle cx="955.7" cy="216.1" r="0.45"/><circle cx="853.1" cy="174.4" r="0.55"/><circle cx="857.4" cy="203.3" r="0.55"/><circle cx="848.3" cy="155.2" r="0.7"/><circle cx="939.9" cy="164.5" r="0.55"/><circle cx="897.0" cy="173.7" r="0.55"/><circle cx="862.4" cy="165.8" r="0.55"/><circle cx="868.1" cy="179.1" r="0.7"/><circle cx="939.3" cy="139.2" r="0.85"/><circle cx="938.4" cy="138.1" r="0.5"/><circle cx="938.4" cy="134.5" r="0.6"/><circle cx="953.6" cy="161.3" r="0.85"/><circle cx="865.6" cy="177.0" r="0.45"/><circle cx="941.7" cy="198.2" r="0.6"/><circle cx="921.4" cy="172.4" r="0.85"/><circle cx="876.3" cy="166.5" r="0.6"/><circle cx="894.5" cy="136.0" r="0.6"/><circle cx="870.0" cy="165.8" r="0.6"/><circle cx="887.1" cy="152.5" r="0.5"/><circle cx="923.3" cy="196.0" r="0.7"/><circle cx="949.0" cy="204.8" r="0.85"/><circle cx="883.5" cy="215.7" r="0.5"/><circle cx="875.7" cy="133.8" r="0.6"/><circle cx="870.3" cy="217.6" r="0.7"/><circle cx="917.0" cy="149.1" r="0.5"/><circle cx="895.8" cy="167.9" r="0.6"/><circle cx="932.8" cy="138.9" r="0.6"/><circle cx="904.1" cy="164.4" r="0.6"/><circle cx="851.7" cy="162.1" r="0.6"/><circle cx="939.2" cy="196.6" r="0.35"/><circle cx="872.0" cy="158.6" r="0.45"/><circle cx="953.9" cy="157.2" r="0.45"/><circle cx="852.1" cy="169.4" r="0.35"/><circle cx="893.4" cy="205.3" r="0.7"/><circle cx="907.6" cy="123.1" r="0.5"/><circle cx="901.6" cy="160.3" r="0.5"/><circle cx="945.9" cy="187.8" r="0.35"/><circle cx="910.3" cy="136.0" r="0.45"/><circle cx="846.0" cy="128.2" r="0.35"/><circle cx="861.3" cy="129.8" r="0.5"/><circle cx="893.9" cy="140.9" r="0.35"/><circle cx="905.3" cy="210.4" r="0.6"/><circle cx="894.9" cy="156.9" r="0.7"/><circle cx="938.1" cy="209.7" r="0.55"/><circle cx="883.3" cy="178.1" r="0.6"/><circle cx="942.8" cy="158.3" r="0.55"/><circle cx="861.3" cy="151.4" r="0.6"/><circle cx="866.9" cy="201.1" r="0.6"/><circle cx="943.1" cy="163.4" r="0.85"/><circle cx="884.6" cy="122.7" r="0.85"/><circle cx="954.4" cy="167.4" r="0.45"/><circle cx="888.8" cy="171.1" r="0.55"/><circle cx="910.5" cy="213.2" r="0.5"/><circle cx="894.0" cy="131.3" r="0.7"/><circle cx="922.0" cy="130.0" r="0.55"/><circle cx="942.5" cy="193.6" r="0.5"/><circle cx="853.3" cy="122.9" r="0.55"/><circle cx="946.4" cy="182.6" r="0.35"/><circle cx="936.9" cy="153.8" r="0.55"/><circle cx="943.0" cy="143.7" r="0.5"/><circle cx="868.2" cy="159.6" r="0.35"/><circle cx="851.7" cy="171.7" r="0.6"/><circle cx="903.6" cy="177.1" r="0.35"/><circle cx="865.8" cy="200.8" r="0.85"/><circle cx="940.3" cy="173.7" r="0.5"/><circle cx="883.8" cy="165.8" r="0.6"/><circle cx="870.9" cy="177.0" r="0.5"/><circle cx="945.0" cy="134.8" r="0.6"/><circle cx="886.1" cy="171.7" r="0.5"/><circle cx="930.6" cy="209.4" r="0.85"/><circle cx="925.5" cy="172.5" r="0.55"/><circle cx="852.6" cy="163.6" r="0.5"/><circle cx="915.3" cy="169.4" r="0.85"/><circle cx="869.8" cy="201.0" r="0.55"/><circle cx="859.2" cy="209.7" r="0.55"/><circle cx="938.6" cy="152.3" r="0.85"/><circle cx="850.1" cy="169.9" r="0.55"/><circle cx="942.8" cy="187.4" r="0.7"/><circle cx="852.3" cy="160.5" r="0.55"/><circle cx="870.6" cy="149.4" r="0.5"/><circle cx="875.0" cy="188.6" r="0.5"/><circle cx="926.5" cy="141.9" r="0.5"/><circle cx="894.6" cy="176.2" r="0.45"/><circle cx="899.1" cy="142.1" r="0.85"/><circle cx="919.8" cy="180.5" r="0.45"/><circle cx="921.2" cy="172.9" r="0.6"/><circle cx="905.3" cy="179.4" r="0.7"/><circle cx="879.2" cy="157.9" r="0.35"/><circle cx="932.5" cy="204.5" r="0.55"/><circle cx="848.0" cy="138.9" r="0.6"/><circle cx="944.9" cy="187.8" r="0.45"/><circle cx="888.8" cy="170.1" r="0.55"/><circle cx="884.1" cy="217.6" r="0.55"/><circle cx="929.4" cy="133.0" r="0.55"/><circle cx="883.3" cy="192.3" r="0.6"/><circle cx="881.3" cy="155.5" r="0.45"/><circle cx="939.6" cy="167.9" r="0.6"/><circle cx="862.7" cy="210.5" r="0.5"/><circle cx="900.2" cy="177.9" r="0.85"/><circle cx="915.8" cy="181.8" r="0.7"/><circle cx="929.7" cy="175.0" r="0.5"/><circle cx="910.3" cy="187.1" r="0.5"/><circle cx="905.6" cy="216.9" r="0.85"/><circle cx="947.6" cy="184.5" r="0.35"/><circle cx="892.5" cy="175.6" r="0.85"/><circle cx="884.6" cy="168.0" r="0.6"/><circle cx="866.0" cy="150.4" r="0.45"/><circle cx="907.9" cy="159.0" r="0.35"/><circle cx="881.6" cy="137.6" r="0.7"/><circle cx="899.5" cy="174.0" r="0.55"/><circle cx="867.6" cy="161.2" r="0.6"/><circle cx="886.2" cy="191.5" r="0.6"/><circle cx="899.0" cy="141.3" r="0.6"/><circle cx="919.2" cy="133.4" r="0.6"/><circle cx="905.1" cy="210.6" r="0.85"/><circle cx="907.3" cy="152.3" r="0.5"/><circle cx="853.3" cy="148.5" r="0.5"/><circle cx="871.3" cy="147.0" r="0.45"/><circle cx="950.3" cy="167.8" r="0.55"/><circle cx="862.2" cy="157.5" r="0.7"/><circle cx="866.5" cy="176.8" r="0.6"/><circle cx="950.2" cy="186.0" r="0.45"/><circle cx="954.4" cy="197.9" r="0.7"/><circle cx="883.8" cy="132.3" r="0.85"/><circle cx="923.4" cy="194.0" r="0.45"/><circle cx="954.3" cy="154.1" r="0.35"/><circle cx="881.9" cy="195.2" r="0.45"/><circle cx="850.7" cy="169.1" r="0.6"/><circle cx="860.6" cy="208.4" r="0.55"/><circle cx="927.9" cy="170.4" r="0.7"/><circle cx="909.2" cy="215.9" r="0.55"/><circle cx="874.3" cy="174.2" r="0.6"/><circle cx="945.1" cy="136.8" r="0.35"/><circle cx="864.7" cy="183.5" r="0.45"/><circle cx="933.0" cy="134.6" r="0.7"/><circle cx="950.8" cy="203.4" r="0.7"/><circle cx="916.9" cy="146.7" r="0.7"/><circle cx="907.2" cy="193.6" r="0.5"/><circle cx="868.3" cy="137.2" r="0.7"/><circle cx="854.1" cy="163.1" r="0.5"/><circle cx="862.4" cy="174.2" r="0.7"/><circle cx="935.6" cy="192.2" r="0.5"/><circle cx="861.0" cy="182.0" r="0.7"/><circle cx="861.2" cy="122.7" r="0.35"/><circle cx="915.2" cy="171.8" r="0.7"/><circle cx="896.1" cy="217.4" r="0.6"/><circle cx="894.7" cy="138.9" r="0.85"/><circle cx="846.2" cy="149.0" r="0.7"/><circle cx="891.7" cy="122.7" r="0.5"/><circle cx="903.0" cy="153.5" r="0.5"/><circle cx="857.2" cy="199.0" r="0.55"/><circle cx="847.3" cy="173.4" r="0.7"/><circle cx="925.3" cy="182.2" r="0.55"/><circle cx="895.8" cy="198.8" r="0.5"/><circle cx="869.6" cy="137.1" r="0.55"/><circle cx="856.5" cy="152.3" r="0.6"/><circle cx="858.6" cy="186.0" r="0.45"/><circle cx="877.9" cy="124.4" r="0.35"/><circle cx="910.7" cy="143.4" r="0.55"/><circle cx="908.6" cy="147.5" r="0.85"/><circle cx="954.5" cy="158.6" r="0.7"/><circle cx="869.0" cy="178.3" r="0.7"/><circle cx="879.9" cy="128.0" r="0.85"/><circle cx="895.7" cy="172.9" r="0.5"/><circle cx="947.9" cy="177.9" r="0.6"/><circle cx="862.3" cy="171.9" r="0.5"/><circle cx="955.9" cy="138.1" r="0.5"/><circle cx="903.9" cy="150.3" r="0.35"/><circle cx="900.9" cy="168.0" r="0.45"/><circle cx="927.4" cy="195.9" r="0.35"/><circle cx="847.3" cy="167.5" r="0.35"/><circle cx="852.4" cy="170.8" r="0.55"/><circle cx="945.6" cy="126.6" r="0.7"/><circle cx="878.6" cy="200.4" r="0.55"/><circle cx="879.0" cy="151.3" r="0.45"/><circle cx="880.0" cy="176.1" r="0.55"/><circle cx="952.1" cy="126.2" r="0.7"/><circle cx="867.1" cy="130.0" r="0.7"/><circle cx="889.1" cy="193.9" r="0.7"/><circle cx="901.9" cy="182.5" r="0.35"/><circle cx="951.8" cy="150.9" r="0.85"/><circle cx="951.8" cy="122.6" r="0.35"/><circle cx="885.9" cy="170.0" r="0.35"/><circle cx="892.4" cy="190.3" r="0.6"/><circle cx="932.1" cy="163.7" r="0.5"/><circle cx="912.2" cy="124.8" r="0.5"/><circle cx="898.9" cy="183.0" r="0.85"/><circle cx="898.0" cy="146.6" r="0.5"/><circle cx="856.7" cy="147.1" r="0.55"/><circle cx="951.3" cy="167.8" r="0.45"/><circle cx="925.2" cy="179.6" r="0.7"/><circle cx="872.4" cy="178.1" r="0.6"/><circle cx="890.2" cy="159.0" r="0.5"/><circle cx="856.8" cy="139.1" r="0.6"/><circle cx="895.7" cy="163.4" r="0.55"/><circle cx="908.1" cy="154.7" r="0.55"/><circle cx="936.1" cy="157.0" r="0.85"/><circle cx="928.6" cy="156.9" r="0.7"/><circle cx="889.1" cy="172.5" r="0.45"/><circle cx="871.1" cy="140.9" r="0.6"/><circle cx="849.4" cy="161.7" r="0.85"/><circle cx="857.4" cy="195.6" r="0.55"/><circle cx="898.6" cy="170.3" r="0.6"/><circle cx="893.6" cy="141.2" r="0.55"/><circle cx="852.4" cy="175.7" r="0.45"/><circle cx="946.7" cy="140.7" r="0.7"/><circle cx="934.0" cy="190.4" r="0.85"/><circle cx="861.2" cy="196.6" r="0.35"/><circle cx="859.4" cy="179.1" r="0.5"/><circle cx="906.4" cy="134.4" r="0.55"/><circle cx="893.9" cy="135.9" r="0.45"/><circle cx="922.0" cy="182.2" r="0.55"/><circle cx="880.7" cy="164.5" r="0.35"/><circle cx="873.9" cy="123.8" r="0.5"/><circle cx="880.9" cy="159.0" r="0.35"/><circle cx="877.0" cy="130.2" r="0.55"/><circle cx="872.8" cy="143.3" r="0.5"/><circle cx="871.2" cy="208.5" r="0.5"/><circle cx="907.4" cy="196.3" r="0.85"/><circle cx="905.7" cy="175.8" r="0.55"/><circle cx="846.2" cy="183.9" r="0.85"/><circle cx="938.1" cy="211.7" r="0.85"/><circle cx="876.6" cy="178.2" r="0.85"/><circle cx="873.5" cy="141.6" r="0.45"/><circle cx="883.9" cy="142.8" r="0.45"/><circle cx="946.6" cy="175.6" r="0.35"/><circle cx="896.0" cy="146.1" r="0.6"/><circle cx="945.5" cy="147.5" r="0.5"/><circle cx="937.1" cy="172.5" r="0.55"/><circle cx="947.5" cy="151.9" r="0.7"/><circle cx="855.8" cy="162.5" r="0.85"/><circle cx="889.8" cy="155.1" r="0.7"/><circle cx="931.6" cy="144.8" r="0.7"/><circle cx="859.7" cy="177.2" r="0.35"/><circle cx="865.1" cy="152.7" r="0.6"/><circle cx="864.7" cy="153.5" r="0.35"/><circle cx="931.7" cy="180.3" r="0.35"/><circle cx="890.8" cy="154.1" r="0.5"/><circle cx="848.2" cy="164.5" r="0.7"/><circle cx="894.1" cy="195.7" r="0.55"/><circle cx="846.1" cy="197.2" r="0.5"/><circle cx="939.2" cy="168.0" r="0.55"/><circle cx="939.2" cy="141.0" r="0.55"/><circle cx="887.3" cy="156.7" r="0.5"/><circle cx="926.5" cy="211.7" r="0.5"/><circle cx="898.7" cy="169.6" r="0.55"/><circle cx="847.1" cy="129.1" r="0.5"/><circle cx="866.5" cy="216.2" r="0.35"/><circle cx="918.6" cy="138.6" r="0.7"/><circle cx="933.5" cy="147.0" r="0.35"/><circle cx="885.9" cy="122.4" r="0.45"/><circle cx="939.0" cy="206.2" r="0.6"/><circle cx="851.8" cy="158.4" r="0.35"/><circle cx="916.5" cy="170.2" r="0.5"/><circle cx="927.8" cy="198.4" r="0.55"/><circle cx="920.5" cy="206.0" r="0.6"/><circle cx="927.5" cy="132.5" r="0.85"/><circle cx="856.0" cy="130.2" r="0.85"/><circle cx="857.5" cy="130.0" r="0.5"/><circle cx="849.1" cy="142.2" r="0.7"/><circle cx="894.4" cy="133.8" r="0.7"/><circle cx="869.6" cy="189.7" r="0.7"/><circle cx="953.7" cy="151.2" r="0.5"/><circle cx="922.8" cy="123.4" r="0.45"/><circle cx="923.2" cy="184.0" r="0.35"/><circle cx="869.9" cy="178.3" r="0.45"/><circle cx="923.1" cy="155.5" r="0.6"/><circle cx="903.4" cy="186.3" r="0.45"/><circle cx="914.2" cy="209.8" r="0.5"/><circle cx="940.6" cy="149.0" r="0.45"/><circle cx="929.4" cy="174.3" r="0.5"/><circle cx="894.2" cy="159.4" r="0.6"/><circle cx="945.8" cy="173.4" r="0.5"/><circle cx="883.0" cy="195.6" r="0.85"/><circle cx="864.9" cy="157.8" r="0.45"/><circle cx="948.1" cy="192.1" r="0.6"/><circle cx="896.1" cy="214.7" r="0.6"/><circle cx="893.4" cy="142.8" r="0.35"/><circle cx="914.8" cy="122.7" r="0.7"/><circle cx="886.1" cy="212.9" r="0.7"/><circle cx="916.5" cy="172.9" r="0.85"/><circle cx="912.2" cy="181.3" r="0.55"/><circle cx="904.8" cy="193.5" r="0.85"/><circle cx="937.4" cy="140.4" r="0.85"/><circle cx="955.8" cy="130.4" r="0.7"/><circle cx="854.0" cy="168.6" r="0.55"/><circle cx="889.5" cy="137.8" r="0.85"/><circle cx="874.9" cy="134.8" r="0.6"/><circle cx="945.8" cy="147.1" r="0.45"/><circle cx="949.0" cy="182.0" r="0.45"/><circle cx="896.1" cy="176.3" r="0.5"/><circle cx="886.5" cy="140.4" r="0.6"/><circle cx="919.8" cy="122.1" r="0.55"/><circle cx="879.2" cy="179.5" r="0.85"/><circle cx="916.0" cy="197.2" r="0.45"/><circle cx="914.8" cy="178.1" r="0.55"/><circle cx="880.2" cy="216.4" r="0.55"/><circle cx="883.7" cy="128.2" r="0.6"/><circle cx="849.9" cy="206.5" r="0.35"/><circle cx="884.2" cy="122.7" r="0.35"/><circle cx="898.1" cy="153.4" r="0.45"/><circle cx="939.7" cy="177.8" r="0.45"/><circle cx="898.4" cy="170.8" r="0.6"/><circle cx="852.8" cy="194.1" r="0.45"/><circle cx="920.7" cy="152.6" r="0.6"/><circle cx="877.4" cy="145.9" r="0.85"/><circle cx="932.3" cy="155.5" r="0.55"/><circle cx="862.4" cy="163.2" r="0.7"/><circle cx="890.6" cy="166.5" r="0.55"/><circle cx="938.5" cy="211.4" r="0.7"/><circle cx="931.1" cy="129.7" r="0.5"/><circle cx="892.1" cy="157.0" r="0.35"/><circle cx="865.8" cy="198.7" r="0.35"/><circle cx="890.8" cy="126.2" r="0.7"/><circle cx="942.5" cy="194.9" r="0.7"/><circle cx="854.5" cy="163.7" r="0.5"/><circle cx="949.6" cy="139.6" r="0.7"/><circle cx="884.3" cy="161.7" r="0.35"/><circle cx="948.2" cy="188.8" r="0.5"/><circle cx="952.6" cy="144.3" r="0.85"/><circle cx="888.2" cy="188.6" r="0.5"/><circle cx="913.6" cy="143.9" r="0.7"/><circle cx="846.0" cy="184.3" r="0.55"/><circle cx="874.9" cy="135.2" r="0.85"/><circle cx="898.2" cy="214.4" r="0.6"/><circle cx="910.5" cy="205.7" r="0.45"/><circle cx="928.6" cy="160.9" r="0.5"/><circle cx="955.0" cy="194.9" r="0.55"/><circle cx="856.1" cy="158.3" r="0.35"/><circle cx="869.2" cy="194.7" r="0.6"/><circle cx="885.8" cy="198.1" r="0.5"/><circle cx="879.3" cy="208.8" r="0.7"/><circle cx="917.1" cy="184.0" r="0.85"/><circle cx="893.9" cy="183.7" r="0.6"/><circle cx="854.3" cy="216.6" r="0.5"/><circle cx="943.4" cy="194.8" r="0.5"/><circle cx="926.0" cy="140.5" r="0.7"/><circle cx="936.5" cy="184.7" r="0.45"/><circle cx="917.7" cy="142.7" r="0.45"/><circle cx="887.1" cy="178.5" r="0.55"/><circle cx="873.1" cy="208.6" r="0.35"/><circle cx="954.1" cy="132.7" r="0.6"/><circle cx="951.3" cy="123.9" r="0.6"/><circle cx="891.4" cy="203.4" r="0.85"/><circle cx="937.1" cy="174.5" r="0.5"/><circle cx="880.3" cy="156.2" r="0.7"/><circle cx="903.8" cy="146.7" r="0.45"/><circle cx="934.5" cy="167.4" r="0.85"/><circle cx="920.0" cy="147.1" r="0.45"/><circle cx="863.8" cy="204.4" r="0.85"/><circle cx="932.2" cy="168.1" r="0.45"/><circle cx="936.1" cy="123.2" r="0.6"/><circle cx="920.0" cy="205.6" r="0.6"/><circle cx="892.4" cy="207.2" r="0.6"/><circle cx="889.1" cy="161.5" r="0.5"/><circle cx="885.1" cy="208.1" r="0.55"/><circle cx="940.1" cy="166.6" r="0.45"/><circle cx="853.8" cy="146.3" r="0.85"/><circle cx="926.4" cy="147.4" r="0.35"/><circle cx="940.5" cy="178.6" r="0.5"/><circle cx="876.6" cy="183.4" r="0.45"/><circle cx="909.7" cy="182.2" r="0.5"/><circle cx="941.1" cy="126.7" r="0.35"/><circle cx="952.9" cy="122.2" r="0.45"/><circle cx="914.7" cy="184.8" r="0.35"/><circle cx="868.1" cy="138.3" r="0.85"/><circle cx="855.5" cy="159.9" r="0.6"/><circle cx="896.1" cy="208.3" r="0.85"/><circle cx="881.6" cy="158.7" r="0.55"/><circle cx="931.8" cy="132.5" r="0.35"/><circle cx="923.4" cy="175.9" r="0.5"/><circle cx="920.1" cy="203.4" r="0.45"/><circle cx="894.9" cy="130.4" r="0.5"/><circle cx="854.0" cy="168.7" r="0.7"/><circle cx="862.9" cy="144.7" r="0.7"/><circle cx="899.3" cy="160.8" r="0.7"/><circle cx="852.7" cy="205.4" r="0.6"/><circle cx="879.1" cy="186.7" r="0.35"/><circle cx="916.5" cy="137.3" r="0.6"/><circle cx="848.9" cy="132.6" r="0.85"/><circle cx="872.0" cy="132.4" r="0.45"/><circle cx="938.1" cy="175.3" r="0.5"/><circle cx="922.7" cy="175.5" r="0.55"/><circle cx="949.0" cy="150.3" r="0.55"/><circle cx="873.5" cy="166.2" r="0.35"/><circle cx="890.6" cy="203.9" r="0.7"/><circle cx="927.4" cy="207.7" r="0.45"/><circle cx="918.7" cy="206.6" r="0.6"/><circle cx="875.4" cy="134.0" r="0.85"/><circle cx="941.1" cy="207.7" r="0.55"/><circle cx="848.9" cy="159.0" r="0.85"/><circle cx="871.8" cy="162.2" r="0.7"/><circle cx="864.1" cy="129.3" r="0.55"/><circle cx="849.3" cy="215.1" r="0.45"/><circle cx="881.6" cy="180.3" r="0.5"/><circle cx="897.7" cy="189.1" r="0.5"/><circle cx="854.4" cy="209.0" r="0.85"/><circle cx="943.2" cy="178.9" r="0.35"/><circle cx="848.3" cy="156.4" r="0.35"/><circle cx="853.5" cy="146.9" r="0.35"/><circle cx="940.8" cy="187.9" r="0.6"/><circle cx="954.7" cy="182.6" r="0.85"/><circle cx="948.5" cy="162.4" r="0.55"/><circle cx="851.5" cy="155.0" r="0.85"/><circle cx="906.2" cy="141.6" r="0.7"/><circle cx="853.4" cy="197.1" r="0.5"/><circle cx="906.1" cy="182.3" r="0.45"/><circle cx="888.9" cy="129.9" r="0.6"/><circle cx="869.4" cy="186.5" r="0.35"/><circle cx="888.8" cy="214.3" r="0.6"/><circle cx="942.1" cy="192.0" r="0.6"/><circle cx="928.8" cy="187.5" r="0.45"/><circle cx="870.3" cy="191.4" r="0.55"/><circle cx="897.0" cy="185.4" r="0.5"/><circle cx="933.4" cy="200.0" r="0.45"/><circle cx="862.8" cy="187.7" r="0.7"/><circle cx="949.2" cy="122.2" r="0.45"/><circle cx="901.7" cy="165.5" r="0.7"/><circle cx="923.6" cy="178.8" r="0.55"/><circle cx="927.7" cy="171.3" r="0.5"/><circle cx="954.4" cy="173.2" r="0.85"/><circle cx="951.5" cy="129.5" r="0.85"/><circle cx="912.5" cy="193.4" r="0.35"/><circle cx="854.8" cy="214.8" r="0.6"/><circle cx="892.5" cy="189.9" r="0.5"/><circle cx="856.7" cy="144.2" r="0.85"/><circle cx="908.7" cy="180.6" r="0.55"/><circle cx="863.9" cy="132.4" r="0.55"/><circle cx="924.7" cy="142.3" r="0.55"/><circle cx="878.8" cy="192.8" r="0.6"/><circle cx="954.2" cy="187.2" r="0.5"/><circle cx="854.1" cy="178.9" r="0.45"/><circle cx="925.5" cy="126.0" r="0.55"/><circle cx="903.2" cy="180.8" r="0.55"/><circle cx="940.8" cy="163.3" r="0.35"/><circle cx="862.9" cy="122.5" r="0.85"/><circle cx="891.2" cy="132.1" r="0.45"/><circle cx="937.9" cy="187.6" r="0.7"/><circle cx="887.0" cy="187.0" r="0.5"/><circle cx="945.9" cy="209.4" r="0.85"/><circle cx="927.0" cy="155.3" r="0.35"/><circle cx="880.1" cy="183.5" r="0.7"/><circle cx="938.8" cy="148.8" r="0.5"/><circle cx="928.7" cy="141.6" r="0.7"/><circle cx="924.7" cy="208.3" r="0.5"/><circle cx="949.6" cy="122.7" r="0.45"/><circle cx="936.0" cy="177.8" r="0.35"/><circle cx="898.6" cy="160.2" r="0.55"/><circle cx="939.4" cy="151.0" r="0.6"/><circle cx="861.0" cy="160.7" r="0.45"/><circle cx="893.9" cy="170.0" r="0.35"/><circle cx="854.1" cy="133.1" r="0.85"/><circle cx="848.0" cy="188.3" r="0.5"/><circle cx="895.1" cy="175.0" r="0.55"/><circle cx="870.9" cy="129.2" r="0.35"/><circle cx="898.4" cy="204.8" r="0.45"/><circle cx="888.0" cy="202.4" r="0.85"/><circle cx="880.8" cy="207.6" r="0.85"/><circle cx="885.5" cy="175.5" r="0.35"/><circle cx="945.8" cy="139.2" r="0.35"/><circle cx="883.6" cy="138.9" r="0.45"/><circle cx="856.3" cy="214.0" r="0.55"/><circle cx="907.0" cy="182.0" r="0.6"/><circle cx="877.9" cy="131.5" r="0.35"/><circle cx="867.1" cy="200.8" r="0.85"/><circle cx="908.0" cy="146.2" r="0.7"/><circle cx="868.2" cy="138.4" r="0.7"/><circle cx="926.7" cy="197.6" r="0.6"/><circle cx="858.1" cy="216.0" r="0.45"/><circle cx="867.6" cy="183.0" r="0.5"/><circle cx="933.1" cy="194.6" r="0.35"/><circle cx="919.4" cy="138.6" r="0.7"/><circle cx="847.2" cy="197.8" r="0.5"/><circle cx="851.2" cy="165.6" r="0.5"/><circle cx="882.6" cy="151.1" r="0.85"/><circle cx="909.2" cy="176.5" r="0.85"/><circle cx="856.9" cy="154.4" r="0.7"/><circle cx="867.4" cy="188.0" r="0.6"/><circle cx="948.8" cy="143.7" r="0.55"/><circle cx="879.6" cy="141.0" r="0.5"/><circle cx="935.2" cy="167.7" r="0.35"/><circle cx="902.2" cy="186.9" r="0.5"/><circle cx="919.0" cy="126.8" r="0.35"/><circle cx="937.7" cy="148.3" r="0.45"/><circle cx="879.5" cy="208.1" r="0.45"/><circle cx="912.2" cy="187.0" r="0.45"/><circle cx="880.7" cy="216.7" r="0.6"/><circle cx="905.1" cy="142.8" r="0.5"/><circle cx="942.4" cy="162.8" r="0.7"/><circle cx="854.9" cy="162.0" r="0.85"/><circle cx="953.7" cy="133.9" r="0.6"/><circle cx="955.7" cy="132.4" r="0.45"/><circle cx="902.7" cy="168.8" r="0.5"/><circle cx="940.5" cy="149.1" r="0.5"/><circle cx="889.9" cy="193.1" r="0.35"/><circle cx="859.0" cy="162.9" r="0.85"/><circle cx="904.0" cy="135.9" r="0.6"/><circle cx="863.7" cy="170.6" r="0.45"/><circle cx="876.1" cy="181.8" r="0.7"/><circle cx="952.3" cy="159.8" r="0.35"/><circle cx="887.4" cy="170.6" r="0.5"/><circle cx="877.1" cy="213.4" r="0.45"/><circle cx="945.5" cy="155.8" r="0.45"/><circle cx="927.3" cy="138.6" r="0.85"/><circle cx="869.7" cy="206.7" r="0.55"/><circle cx="846.9" cy="161.3" r="0.7"/><circle cx="952.3" cy="195.5" r="0.45"/><circle cx="856.1" cy="195.7" r="0.7"/><circle cx="874.4" cy="155.3" r="0.45"/><circle cx="910.4" cy="175.8" r="0.85"/><circle cx="912.4" cy="164.8" r="0.55"/><circle cx="917.1" cy="183.3" r="0.85"/><circle cx="848.5" cy="203.0" r="0.55"/><circle cx="921.2" cy="138.1" r="0.5"/><circle cx="929.2" cy="155.6" r="0.35"/><circle cx="873.6" cy="173.1" r="0.5"/><circle cx="887.2" cy="131.4" r="0.6"/><circle cx="906.4" cy="135.8" r="0.6"/><circle cx="856.5" cy="164.7" r="0.5"/><circle cx="895.2" cy="130.1" r="0.5"/><circle cx="878.6" cy="156.3" r="0.5"/><circle cx="946.0" cy="212.3" r="0.7"/><circle cx="883.7" cy="206.2" r="0.55"/><circle cx="868.4" cy="157.8" r="0.7"/><circle cx="847.7" cy="175.3" r="0.6"/><circle cx="892.8" cy="185.5" r="0.85"/><circle cx="925.2" cy="189.1" r="0.55"/><circle cx="875.9" cy="165.6" r="0.7"/><circle cx="910.8" cy="202.3" r="0.55"/><circle cx="901.2" cy="139.6" r="0.45"/><circle cx="862.7" cy="152.1" r="0.35"/><circle cx="867.2" cy="149.3" r="0.6"/><circle cx="930.2" cy="146.8" r="0.5"/><circle cx="923.4" cy="122.7" r="0.35"/><circle cx="912.0" cy="130.6" r="0.6"/><circle cx="917.4" cy="201.7" r="0.55"/><circle cx="949.2" cy="134.6" r="0.7"/><circle cx="859.6" cy="201.2" r="0.45"/><circle cx="942.3" cy="209.2" r="0.85"/><circle cx="926.0" cy="178.0" r="0.45"/><circle cx="907.1" cy="186.9" r="0.7"/><circle cx="938.3" cy="214.2" r="0.55"/><circle cx="879.5" cy="142.0" r="0.6"/><circle cx="880.9" cy="151.4" r="0.7"/><circle cx="940.7" cy="203.5" r="0.7"/><circle cx="909.3" cy="183.5" r="0.7"/><circle cx="867.5" cy="199.5" r="0.45"/><circle cx="877.5" cy="209.2" r="0.5"/><circle cx="926.6" cy="162.2" r="0.5"/><circle cx="897.0" cy="188.9" r="0.35"/><circle cx="855.0" cy="123.4" r="0.7"/><circle cx="894.4" cy="192.9" r="0.6"/><circle cx="903.8" cy="156.2" r="0.55"/><circle cx="885.5" cy="193.7" r="0.45"/><circle cx="936.8" cy="133.5" r="0.35"/><circle cx="851.2" cy="149.3" r="0.55"/><circle cx="904.3" cy="178.4" r="0.7"/><circle cx="926.4" cy="122.4" r="0.85"/><circle cx="846.1" cy="203.4" r="0.5"/><circle cx="909.8" cy="165.6" r="0.7"/><circle cx="908.0" cy="144.3" r="0.85"/><circle cx="881.3" cy="201.9" r="0.85"/><circle cx="934.9" cy="183.3" r="0.55"/><circle cx="949.7" cy="144.8" r="0.45"/><circle cx="901.3" cy="197.8" r="0.45"/><circle cx="860.3" cy="196.5" r="0.7"/><circle cx="875.0" cy="196.9" r="0.5"/><circle cx="918.3" cy="134.8" r="0.85"/><circle cx="898.0" cy="134.0" r="0.7"/><circle cx="887.6" cy="166.9" r="0.45"/><circle cx="850.9" cy="130.7" r="0.5"/><circle cx="854.2" cy="145.0" r="0.55"/><circle cx="944.6" cy="194.0" r="0.45"/><circle cx="937.2" cy="212.8" r="0.7"/><circle cx="939.7" cy="217.2" r="0.85"/><circle cx="858.3" cy="169.8" r="0.55"/><circle cx="946.6" cy="163.2" r="0.35"/><circle cx="911.8" cy="133.6" r="0.6"/><circle cx="876.0" cy="178.6" r="0.5"/><circle cx="948.7" cy="187.3" r="0.6"/><circle cx="885.4" cy="171.5" r="0.6"/><circle cx="941.5" cy="206.2" r="0.55"/><circle cx="874.1" cy="129.4" r="0.6"/><circle cx="915.5" cy="185.0" r="0.85"/><circle cx="952.4" cy="151.7" r="0.5"/><circle cx="882.6" cy="182.3" r="0.55"/><circle cx="911.7" cy="135.2" r="0.5"/><circle cx="876.5" cy="146.0" r="0.7"/><circle cx="904.1" cy="132.7" r="0.6"/><circle cx="885.1" cy="176.5" r="0.5"/><circle cx="936.7" cy="130.2" r="0.6"/><circle cx="916.4" cy="198.9" r="0.5"/><circle cx="927.0" cy="196.1" r="0.45"/><circle cx="904.3" cy="124.2" r="0.35"/><circle cx="930.1" cy="172.6" r="0.7"/><circle cx="925.7" cy="170.8" r="0.6"/><circle cx="912.9" cy="213.9" r="0.35"/><circle cx="956.0" cy="141.7" r="0.6"/><circle cx="900.2" cy="162.0" r="0.6"/><circle cx="884.6" cy="144.8" r="0.7"/><circle cx="940.2" cy="207.6" r="0.6"/><circle cx="890.1" cy="193.5" r="0.85"/><circle cx="890.8" cy="141.0" r="0.45"/><circle cx="888.4" cy="141.2" r="0.35"/><circle cx="886.9" cy="157.6" r="0.85"/><circle cx="850.7" cy="128.0" r="0.5"/><circle cx="857.9" cy="172.3" r="0.55"/><circle cx="866.9" cy="178.2" r="0.6"/><circle cx="885.7" cy="162.7" r="0.55"/><circle cx="919.0" cy="209.0" r="0.6"/><circle cx="890.5" cy="139.8" r="0.5"/><circle cx="928.7" cy="174.4" r="0.55"/><circle cx="922.9" cy="209.4" r="0.35"/><circle cx="854.0" cy="174.3" r="0.35"/><circle cx="856.9" cy="216.2" r="0.5"/><circle cx="899.9" cy="146.7" r="0.6"/><circle cx="875.9" cy="142.4" r="0.35"/><circle cx="953.8" cy="199.3" r="0.6"/><circle cx="899.0" cy="193.8" r="0.85"/><circle cx="901.3" cy="180.8" r="0.7"/><circle cx="937.0" cy="213.5" r="0.6"/><circle cx="848.4" cy="206.7" r="0.45"/><circle cx="917.6" cy="162.8" r="0.7"/><circle cx="916.6" cy="189.1" r="0.45"/><circle cx="880.6" cy="149.7" r="0.5"/><circle cx="946.8" cy="208.6" r="0.5"/><circle cx="846.0" cy="161.4" r="0.85"/><circle cx="855.9" cy="128.8" r="0.45"/><circle cx="888.8" cy="198.8" r="0.45"/><circle cx="923.8" cy="201.4" r="0.85"/><circle cx="850.2" cy="146.9" r="0.7"/><circle cx="933.8" cy="189.5" r="0.85"/><circle cx="913.3" cy="126.3" r="0.5"/><circle cx="941.3" cy="174.3" r="0.35"/><circle cx="854.3" cy="180.2" r="0.7"/><circle cx="883.0" cy="167.3" r="0.85"/><circle cx="943.1" cy="132.2" r="0.55"/><circle cx="875.7" cy="194.5" r="0.85"/><circle cx="868.0" cy="137.2" r="0.6"/><circle cx="912.2" cy="160.2" r="0.7"/><circle cx="916.6" cy="124.9" r="0.55"/><circle cx="848.9" cy="167.6" r="0.45"/><circle cx="916.2" cy="213.2" r="0.7"/><circle cx="937.2" cy="164.5" r="0.5"/><circle cx="896.2" cy="192.3" r="0.85"/><circle cx="902.7" cy="183.4" r="0.55"/><circle cx="923.4" cy="126.9" r="0.55"/><circle cx="908.7" cy="131.3" r="0.6"/><circle cx="886.6" cy="134.3" r="0.5"/><circle cx="935.5" cy="141.5" r="0.35"/><circle cx="944.1" cy="147.5" r="0.7"/><circle cx="861.3" cy="168.4" r="0.6"/><circle cx="910.8" cy="181.1" r="0.35"/><circle cx="904.5" cy="182.2" r="0.85"/><circle cx="877.2" cy="138.7" r="0.6"/><circle cx="848.3" cy="150.3" r="0.6"/><circle cx="868.2" cy="170.8" r="0.55"/><circle cx="928.4" cy="146.9" r="0.35"/><circle cx="895.8" cy="158.0" r="0.85"/><circle cx="883.5" cy="169.2" r="0.6"/><circle cx="870.0" cy="157.7" r="0.45"/><circle cx="855.1" cy="130.6" r="0.35"/><circle cx="868.6" cy="207.6" r="0.6"/><circle cx="893.6" cy="131.4" r="0.45"/><circle cx="955.2" cy="188.0" r="0.85"/><circle cx="908.5" cy="151.9" r="0.45"/><circle cx="877.0" cy="214.3" r="0.55"/><circle cx="886.5" cy="126.5" r="0.35"/><circle cx="866.8" cy="191.3" r="0.85"/><circle cx="913.5" cy="176.5" r="0.5"/><circle cx="905.7" cy="197.6" r="0.5"/><circle cx="887.4" cy="125.5" r="0.7"/><circle cx="938.5" cy="155.5" r="0.35"/><circle cx="889.8" cy="199.8" r="0.35"/><circle cx="865.2" cy="182.1" r="0.45"/><circle cx="886.0" cy="129.7" r="0.35"/><circle cx="865.3" cy="144.5" r="0.55"/><circle cx="857.2" cy="203.2" r="0.35"/><circle cx="876.7" cy="195.0" r="0.85"/><circle cx="894.7" cy="190.1" r="0.5"/><circle cx="908.5" cy="193.0" r="0.7"/><circle cx="872.9" cy="186.0" r="0.7"/><circle cx="924.2" cy="166.4" r="0.45"/><circle cx="880.6" cy="174.9" r="0.6"/><circle cx="867.1" cy="160.5" r="0.55"/><circle cx="919.5" cy="133.1" r="0.6"/><circle cx="904.0" cy="151.4" r="0.45"/><circle cx="940.4" cy="216.5" r="0.45"/><circle cx="950.4" cy="210.8" r="0.6"/><circle cx="868.3" cy="178.2" r="0.45"/><circle cx="871.1" cy="148.6" r="0.5"/><circle cx="878.2" cy="124.5" r="0.45"/><circle cx="877.7" cy="173.2" r="0.5"/><circle cx="902.6" cy="173.1" r="0.55"/><circle cx="887.3" cy="187.5" r="0.7"/><circle cx="871.2" cy="165.2" r="0.7"/><circle cx="867.2" cy="194.8" r="0.7"/><circle cx="863.1" cy="126.8" r="0.5"/><circle cx="853.4" cy="197.2" r="0.55"/><circle cx="952.7" cy="133.0" r="0.7"/><circle cx="954.6" cy="142.8" r="0.7"/><circle cx="913.1" cy="140.2" r="0.45"/><circle cx="925.5" cy="183.4" r="0.5"/><circle cx="939.4" cy="178.3" r="0.85"/><circle cx="848.3" cy="159.4" r="0.35"/><circle cx="939.2" cy="208.0" r="0.7"/><circle cx="879.7" cy="154.9" r="0.7"/><circle cx="894.3" cy="157.8" r="0.5"/><circle cx="921.2" cy="143.2" r="0.45"/><circle cx="874.4" cy="138.6" r="0.55"/><circle cx="885.1" cy="176.2" r="0.7"/><circle cx="916.5" cy="208.1" r="0.85"/><circle cx="894.1" cy="184.3" r="0.55"/><circle cx="919.1" cy="154.7" r="0.45"/><circle cx="850.3" cy="167.2" r="0.85"/><circle cx="928.6" cy="151.2" r="0.6"/><circle cx="921.0" cy="138.2" r="0.55"/><circle cx="927.0" cy="189.6" r="0.6"/><circle cx="851.8" cy="214.7" r="0.45"/><circle cx="930.1" cy="217.3" r="0.5"/><circle cx="870.4" cy="150.0" r="0.45"/><circle cx="879.7" cy="139.9" r="0.6"/><circle cx="952.3" cy="199.5" r="0.5"/><circle cx="934.1" cy="215.3" r="0.35"/><circle cx="882.2" cy="162.9" r="0.7"/><circle cx="939.7" cy="190.7" r="0.85"/><circle cx="908.4" cy="198.3" r="0.55"/><circle cx="954.2" cy="200.3" r="0.6"/><circle cx="896.7" cy="192.2" r="0.35"/><circle cx="942.2" cy="213.9" r="0.7"/><circle cx="891.4" cy="203.5" r="0.6"/><circle cx="899.6" cy="204.9" r="0.55"/><circle cx="936.4" cy="150.1" r="0.45"/><circle cx="859.3" cy="190.1" r="0.6"/><circle cx="883.2" cy="183.9" r="0.55"/><circle cx="925.4" cy="146.5" r="0.45"/><circle cx="930.0" cy="172.7" r="0.35"/><circle cx="945.2" cy="180.9" r="0.55"/><circle cx="904.6" cy="168.9" r="0.5"/><circle cx="933.1" cy="204.2" r="0.6"/><circle cx="870.1" cy="129.8" r="0.55"/><circle cx="905.1" cy="177.8" r="0.7"/><circle cx="926.5" cy="146.9" r="0.5"/><circle cx="861.4" cy="152.4" r="0.35"/><circle cx="870.8" cy="146.0" r="0.6"/><circle cx="894.0" cy="174.3" r="0.7"/><circle cx="955.6" cy="155.8" r="0.7"/><circle cx="911.1" cy="130.5" r="0.55"/><circle cx="921.9" cy="131.0" r="0.7"/><circle cx="926.0" cy="144.4" r="0.7"/><circle cx="919.5" cy="175.6" r="0.35"/><circle cx="864.1" cy="128.8" r="0.5"/><circle cx="894.3" cy="139.0" r="0.45"/><circle cx="948.5" cy="205.7" r="0.55"/><circle cx="877.2" cy="170.4" r="0.45"/><circle cx="910.4" cy="140.8" r="0.7"/><circle cx="925.3" cy="213.6" r="0.35"/><circle cx="891.4" cy="190.8" r="0.6"/><circle cx="948.8" cy="169.6" r="0.7"/><circle cx="871.6" cy="165.2" r="0.85"/><circle cx="857.1" cy="199.8" r="0.85"/><circle cx="879.4" cy="126.4" r="0.6"/><circle cx="848.7" cy="198.9" r="0.7"/><circle cx="872.7" cy="124.9" r="0.5"/><circle cx="934.9" cy="122.7" r="0.7"/><circle cx="859.0" cy="215.3" r="0.55"/><circle cx="943.2" cy="164.2" r="0.6"/><circle cx="911.6" cy="203.9" r="0.45"/><circle cx="918.6" cy="160.9" r="0.35"/><circle cx="932.6" cy="188.3" r="0.7"/><circle cx="947.3" cy="167.3" r="0.85"/><circle cx="851.5" cy="192.9" r="0.5"/><circle cx="872.0" cy="149.6" r="0.85"/><circle cx="898.0" cy="178.6" r="0.85"/><circle cx="920.9" cy="164.9" r="0.85"/><circle cx="922.5" cy="201.9" r="0.55"/><circle cx="898.0" cy="178.3" r="0.6"/><circle cx="954.6" cy="212.6" r="0.6"/><circle cx="939.3" cy="151.0" r="0.7"/><circle cx="940.4" cy="180.6" r="0.55"/><circle cx="867.3" cy="213.0" r="0.7"/><circle cx="931.2" cy="176.2" r="0.55"/><circle cx="902.2" cy="169.6" r="0.35"/><circle cx="848.7" cy="140.7" r="0.6"/><circle cx="924.0" cy="158.7" r="0.35"/><circle cx="905.1" cy="137.5" r="0.7"/><circle cx="930.1" cy="143.9" r="0.85"/><circle cx="877.7" cy="139.3" r="0.35"/><circle cx="939.9" cy="187.0" r="0.85"/><circle cx="873.1" cy="132.7" r="0.35"/><circle cx="943.3" cy="170.4" r="0.6"/><circle cx="871.8" cy="138.7" r="0.6"/><circle cx="939.0" cy="216.3" r="0.6"/><circle cx="874.3" cy="123.1" r="0.6"/><circle cx="924.7" cy="130.8" r="0.5"/><circle cx="872.5" cy="194.2" r="0.7"/><circle cx="878.6" cy="146.8" r="0.6"/><circle cx="924.8" cy="190.7" r="0.5"/><circle cx="889.5" cy="183.5" r="0.35"/><circle cx="916.1" cy="216.3" r="0.85"/><circle cx="849.3" cy="128.9" r="0.55"/><circle cx="869.0" cy="133.5" r="0.35"/><circle cx="905.7" cy="167.7" r="0.5"/><circle cx="923.8" cy="125.9" r="0.35"/><circle cx="925.8" cy="161.9" r="0.85"/><circle cx="865.6" cy="161.7" r="0.5"/><circle cx="928.5" cy="138.5" r="0.55"/><circle cx="890.0" cy="129.6" r="0.6"/><circle cx="909.0" cy="142.3" r="0.85"/><circle cx="882.1" cy="170.0" r="0.55"/><circle cx="935.9" cy="130.6" r="0.35"/><circle cx="866.5" cy="137.4" r="0.55"/><circle cx="858.4" cy="159.7" r="0.85"/><circle cx="885.3" cy="175.5" r="0.85"/><circle cx="933.4" cy="129.1" r="0.5"/><circle cx="947.4" cy="150.6" r="0.5"/><circle cx="931.9" cy="148.7" r="0.85"/><circle cx="927.8" cy="149.7" r="0.55"/><circle cx="883.6" cy="165.2" r="0.45"/><circle cx="895.3" cy="131.1" r="0.5"/><circle cx="871.1" cy="146.4" r="0.85"/><circle cx="875.8" cy="142.6" r="0.35"/><circle cx="881.0" cy="165.7" r="0.85"/><circle cx="857.0" cy="194.2" r="0.45"/><circle cx="874.2" cy="174.3" r="0.35"/><circle cx="903.2" cy="155.5" r="0.45"/><circle cx="886.7" cy="149.3" r="0.7"/><circle cx="935.3" cy="139.4" r="0.7"/><circle cx="954.1" cy="124.8" r="0.6"/><circle cx="887.4" cy="188.8" r="0.6"/><circle cx="919.2" cy="153.8" r="0.7"/><circle cx="918.0" cy="126.4" r="0.35"/><circle cx="881.3" cy="190.0" r="0.7"/><circle cx="953.5" cy="164.9" r="0.85"/><circle cx="868.8" cy="184.7" r="0.55"/><circle cx="895.0" cy="203.1" r="0.55"/><circle cx="921.3" cy="210.4" r="0.45"/><circle cx="862.3" cy="166.2" r="0.6"/><circle cx="855.4" cy="203.1" r="0.85"/><circle cx="875.8" cy="167.5" r="0.55"/><circle cx="896.8" cy="135.0" r="0.85"/><circle cx="907.6" cy="161.4" r="0.5"/><circle cx="949.0" cy="179.3" r="0.5"/><circle cx="875.9" cy="213.1" r="0.5"/><circle cx="868.2" cy="142.2" r="0.55"/><circle cx="846.6" cy="155.9" r="0.6"/><circle cx="901.9" cy="139.7" r="0.35"/><circle cx="872.6" cy="125.3" r="0.35"/><circle cx="892.0" cy="171.1" r="0.7"/><circle cx="885.2" cy="145.2" r="0.5"/><circle cx="893.8" cy="193.4" r="0.85"/><circle cx="945.0" cy="171.3" r="0.7"/><circle cx="911.4" cy="202.0" r="0.35"/><circle cx="946.4" cy="144.1" r="0.6"/><circle cx="877.3" cy="190.9" r="0.55"/><circle cx="897.0" cy="211.4" r="0.55"/><circle cx="908.6" cy="175.4" r="0.7"/><circle cx="912.2" cy="127.1" r="0.45"/><circle cx="898.8" cy="169.0" r="0.7"/><circle cx="852.3" cy="200.2" r="0.5"/><circle cx="859.1" cy="195.9" r="0.85"/><circle cx="866.2" cy="162.6" r="0.85"/><circle cx="873.5" cy="124.0" r="0.6"/><circle cx="873.7" cy="172.7" r="0.5"/><circle cx="891.0" cy="133.2" r="0.45"/><circle cx="848.0" cy="211.5" r="0.85"/><circle cx="936.1" cy="137.7" r="0.85"/><circle cx="850.5" cy="201.5" r="0.6"/><circle cx="949.6" cy="137.7" r="0.45"/><circle cx="893.8" cy="200.3" r="0.5"/><circle cx="953.0" cy="122.1" r="0.45"/><circle cx="946.9" cy="148.7" r="0.35"/><circle cx="934.2" cy="170.1" r="0.35"/><circle cx="892.9" cy="196.3" r="0.45"/><circle cx="885.3" cy="127.4" r="0.35"/><circle cx="941.6" cy="205.4" r="0.35"/><circle cx="854.2" cy="170.0" r="0.7"/><circle cx="862.5" cy="216.6" r="0.35"/><circle cx="891.6" cy="169.6" r="0.5"/><circle cx="854.6" cy="167.4" r="0.6"/><circle cx="903.5" cy="199.5" r="0.85"/><circle cx="857.9" cy="191.7" r="0.5"/><circle cx="937.3" cy="186.6" r="0.35"/><circle cx="921.9" cy="134.7" r="0.85"/><circle cx="877.8" cy="142.0" r="0.55"/><circle cx="882.2" cy="154.3" r="0.6"/><circle cx="897.8" cy="180.0" r="0.45"/><circle cx="950.7" cy="137.0" r="0.7"/><circle cx="924.4" cy="187.1" r="0.45"/><circle cx="886.7" cy="184.1" r="0.35"/><circle cx="923.4" cy="139.6" r="0.35"/><circle cx="872.6" cy="204.9" r="0.85"/><circle cx="876.1" cy="193.2" r="0.6"/><circle cx="860.2" cy="138.6" r="0.55"/><circle cx="919.5" cy="158.7" r="0.55"/><circle cx="946.0" cy="184.4" r="0.85"/><circle cx="948.0" cy="216.6" r="0.55"/><circle cx="873.7" cy="194.6" r="0.5"/><circle cx="936.9" cy="195.1" r="0.45"/><circle cx="893.8" cy="128.5" r="0.7"/><circle cx="914.5" cy="132.2" r="0.7"/><circle cx="937.8" cy="201.1" r="0.5"/><circle cx="888.2" cy="199.7" r="0.55"/><circle cx="955.9" cy="206.6" r="0.85"/><circle cx="914.8" cy="129.1" r="0.85"/><circle cx="848.6" cy="124.9" r="0.7"/><circle cx="938.6" cy="201.4" r="0.85"/><circle cx="855.0" cy="177.6" r="0.85"/><circle cx="954.4" cy="151.3" r="0.85"/><circle cx="923.5" cy="176.6" r="0.55"/><circle cx="905.6" cy="174.4" r="0.85"/><circle cx="895.3" cy="151.0" r="0.35"/><circle cx="904.5" cy="131.0" r="0.85"/><circle cx="892.0" cy="139.3" r="0.85"/><circle cx="910.9" cy="154.8" r="0.85"/><circle cx="933.2" cy="153.9" r="0.55"/><circle cx="884.9" cy="133.7" r="0.55"/><circle cx="916.0" cy="154.3" r="0.6"/><circle cx="952.7" cy="215.2" r="0.35"/><circle cx="884.7" cy="198.8" r="0.45"/><circle cx="920.6" cy="162.5" r="0.55"/><circle cx="948.2" cy="131.2" r="0.5"/><circle cx="901.2" cy="134.1" r="0.7"/><circle cx="918.8" cy="133.7" r="0.55"/><circle cx="955.8" cy="126.5" r="0.55"/><circle cx="859.4" cy="201.1" r="0.35"/><circle cx="942.2" cy="153.5" r="0.35"/><circle cx="937.9" cy="155.4" r="0.55"/><circle cx="892.3" cy="131.3" r="0.35"/><circle cx="850.5" cy="140.6" r="0.55"/><circle cx="925.3" cy="149.4" r="0.7"/><circle cx="893.9" cy="176.6" r="0.35"/><circle cx="873.0" cy="139.0" r="0.35"/><circle cx="946.2" cy="123.1" r="0.45"/><circle cx="874.3" cy="159.8" r="0.5"/><circle cx="909.2" cy="154.8" r="0.6"/><circle cx="859.4" cy="148.7" r="0.35"/><circle cx="898.9" cy="196.2" r="0.7"/><circle cx="887.5" cy="169.4" r="0.35"/><circle cx="948.8" cy="160.4" r="0.6"/><circle cx="854.6" cy="206.2" r="0.45"/><circle cx="898.1" cy="198.4" r="0.85"/><circle cx="852.1" cy="124.2" r="0.85"/><circle cx="879.8" cy="175.3" r="0.5"/><circle cx="905.1" cy="129.3" r="0.5"/><circle cx="917.2" cy="148.5" r="0.85"/><circle cx="934.7" cy="122.6" r="0.5"/><circle cx="933.5" cy="176.3" r="0.7"/><circle cx="949.8" cy="214.0" r="0.5"/><circle cx="867.8" cy="183.8" r="0.55"/><circle cx="933.4" cy="171.8" r="0.35"/><circle cx="874.2" cy="206.9" r="0.7"/><circle cx="921.4" cy="166.7" r="0.5"/><circle cx="887.3" cy="188.5" r="0.55"/><circle cx="892.0" cy="180.8" r="0.55"/><circle cx="895.6" cy="161.2" r="0.35"/><circle cx="918.7" cy="211.9" r="0.45"/><circle cx="904.3" cy="164.0" r="0.6"/><circle cx="871.5" cy="135.0" r="0.85"/><circle cx="869.8" cy="169.5" r="0.85"/><circle cx="855.9" cy="200.2" r="0.55"/><circle cx="909.2" cy="170.4" r="0.7"/><circle cx="903.1" cy="167.6" r="0.45"/><circle cx="953.8" cy="212.3" r="0.55"/><circle cx="876.1" cy="152.6" r="0.5"/><circle cx="861.5" cy="194.7" r="0.5"/><circle cx="874.8" cy="133.2" r="0.45"/><circle cx="881.3" cy="149.4" r="0.5"/><circle cx="931.7" cy="144.7" r="0.45"/><circle cx="888.9" cy="152.0" r="0.35"/><circle cx="861.3" cy="177.8" r="0.55"/><circle cx="899.7" cy="129.0" r="0.7"/><circle cx="933.8" cy="159.5" r="0.55"/><circle cx="917.2" cy="145.0" r="0.85"/><circle cx="868.0" cy="174.4" r="0.45"/><circle cx="933.5" cy="153.7" r="0.45"/><circle cx="919.2" cy="151.9" r="0.7"/><circle cx="876.1" cy="137.2" r="0.35"/><circle cx="846.9" cy="198.8" r="0.85"/><circle cx="940.5" cy="207.8" r="0.85"/><circle cx="932.6" cy="143.1" r="0.85"/><circle cx="914.5" cy="203.3" r="0.7"/><circle cx="881.0" cy="158.0" r="0.85"/><circle cx="877.9" cy="131.5" r="0.35"/><circle cx="943.1" cy="123.6" r="0.5"/><circle cx="847.2" cy="160.2" r="0.7"/><circle cx="886.3" cy="174.6" r="0.45"/><circle cx="917.5" cy="205.8" r="0.7"/><circle cx="940.8" cy="179.9" r="0.55"/><circle cx="871.4" cy="182.1" r="0.6"/><circle cx="874.0" cy="171.9" r="0.55"/><circle cx="879.8" cy="193.3" r="0.45"/><circle cx="953.9" cy="153.9" r="0.55"/><circle cx="939.7" cy="181.4" r="0.5"/><circle cx="931.8" cy="212.1" r="0.6"/><circle cx="877.6" cy="127.3" r="0.35"/><circle cx="898.0" cy="154.4" r="0.5"/><circle cx="860.2" cy="143.6" r="0.85"/><circle cx="896.6" cy="151.3" r="0.55"/><circle cx="886.5" cy="166.6" r="0.55"/><circle cx="920.8" cy="174.3" r="0.35"/><circle cx="877.6" cy="138.8" r="0.6"/><circle cx="854.7" cy="154.5" r="0.45"/><circle cx="948.2" cy="207.1" r="0.55"/><circle cx="868.1" cy="195.3" r="0.85"/><circle cx="848.1" cy="171.3" r="0.45"/><circle cx="854.6" cy="165.7" r="0.85"/><circle cx="850.0" cy="134.0" r="0.85"/><circle cx="874.8" cy="194.4" r="0.85"/><circle cx="934.9" cy="158.7" r="0.5"/><circle cx="855.6" cy="185.1" r="0.6"/><circle cx="927.9" cy="141.7" r="0.45"/><circle cx="898.0" cy="162.5" r="0.55"/><circle cx="925.4" cy="160.5" r="0.85"/><circle cx="853.2" cy="188.7" r="0.85"/><circle cx="894.7" cy="159.8" r="0.55"/><circle cx="885.1" cy="131.5" r="0.6"/><circle cx="891.3" cy="140.4" r="0.85"/><circle cx="851.0" cy="180.8" r="0.5"/><circle cx="922.5" cy="137.6" r="0.35"/><circle cx="926.1" cy="146.8" r="0.6"/><circle cx="899.6" cy="215.5" r="0.5"/><circle cx="942.8" cy="181.1" r="0.55"/><circle cx="939.2" cy="163.0" r="0.55"/><circle cx="879.5" cy="202.6" r="0.45"/><circle cx="945.7" cy="208.9" r="0.55"/><circle cx="908.4" cy="183.3" r="0.55"/><circle cx="897.1" cy="193.7" r="0.55"/><circle cx="927.2" cy="150.5" r="0.5"/><circle cx="857.6" cy="212.0" r="0.45"/><circle cx="899.0" cy="152.1" r="0.6"/><circle cx="870.2" cy="184.4" r="0.35"/><circle cx="888.9" cy="136.5" r="0.5"/><circle cx="847.5" cy="171.4" r="0.45"/><circle cx="913.2" cy="209.5" r="0.85"/><circle cx="901.5" cy="211.1" r="0.85"/><circle cx="879.8" cy="196.4" r="0.7"/><circle cx="934.0" cy="141.2" r="0.55"/><circle cx="849.9" cy="186.6" r="0.6"/><circle cx="917.6" cy="188.9" r="0.7"/><circle cx="872.3" cy="198.9" r="0.6"/><circle cx="887.6" cy="151.9" r="0.85"/><circle cx="870.5" cy="193.5" r="0.5"/><circle cx="913.1" cy="208.5" r="0.5"/><circle cx="848.2" cy="174.5" r="0.35"/><circle cx="884.3" cy="166.9" r="0.85"/><circle cx="923.6" cy="139.2" r="0.5"/><circle cx="952.3" cy="150.1" r="0.45"/><circle cx="859.6" cy="138.6" r="0.35"/><circle cx="858.9" cy="153.7" r="0.85"/><circle cx="866.5" cy="194.5" r="0.7"/><circle cx="892.0" cy="145.5" r="0.35"/><circle cx="953.2" cy="167.4" r="0.85"/><circle cx="917.0" cy="204.1" r="0.35"/><circle cx="952.2" cy="203.7" r="0.45"/><circle cx="932.7" cy="178.0" r="0.5"/><circle cx="890.5" cy="197.1" r="0.85"/><circle cx="907.1" cy="177.8" r="0.45"/><circle cx="927.0" cy="164.2" r="0.45"/><circle cx="855.3" cy="211.2" r="0.35"/><circle cx="941.5" cy="198.6" r="0.45"/><circle cx="882.8" cy="143.9" r="0.7"/><circle cx="908.1" cy="208.5" r="0.6"/><circle cx="886.8" cy="207.3" r="0.85"/><circle cx="865.3" cy="147.4" r="0.7"/><circle cx="919.7" cy="215.5" r="0.7"/><circle cx="848.5" cy="124.4" r="0.35"/><circle cx="920.8" cy="150.3" r="0.45"/><circle cx="909.5" cy="143.1" r="0.35"/><circle cx="900.7" cy="127.3" r="0.5"/></g></g>
<!-- lid -->
<rect class="w" x="870.5" y="89" width="57" height="3.3" style="stroke-width:1.2"/>
<path class="k" d="M892.6,89 C894.6,86.8 897,86 899.8,86 C902.6,86 905,86.8 907,89 Z"/>
<path d="M899.8,79.5 V86.6" stroke="#2b2b2b" stroke-width="2" fill="none"/>
<!-- diffuser -->
<rect class="k" x="890.7" y="109.7" width="19.7" height="7.4" rx="2"/>
<path d="M894.8,111.8 v3.4 M898.6,111.8 v3.4 M902.4,111.8 v3.4 M906.2,111.8 v3.4" stroke="#fff" stroke-width="1.5" fill="none"/>
<path class="w" d="M896,117.1 h8.6 v3.2 h-8.6 z"/>
<path class="k" d="M898,117.8 h4.6 v1.4 h-4.6 z"/>
<!-- upper pipe -->
<path class="w" d="M853.4,137 L887,137 L887,135.8 L895.3,135.8 L895.3,120.3 L905.2,120.3 L905.2,142 C905.2,148.4 896,148.6 895.4,142.4 L895.4,147.4 L887,147.4 L887,146.3 L851.8,146.3 Z"/>
<path class="ln" d="M887,137 V146.3 M895.3,125 H905.2 M895.3,127.4 H905.2 M895.3,131 H905.2 M895.3,135.8 V142.4 M891,141.6 h2.2 M891,140 v3"/>
<!-- G -->
<path class="ln" d="M854,142 H871 M866.9,142 V147.6 M849.6,173.5 H871 M866.9,169.2 V174.6"/>
<text class="lt" transform="translate(859.18,165.9) scale(1.18,1)" font-size="18.6">G</text>
<!-- lower pipe -->
<path class="w" d="M887,169.2 L889,169.2 C899,169.2 905,175 905,183 L905,199.6 L895,199.6 L895,178.8 L849,178.8 L849,177.8 L887,177.8 Z"/>
<path class="ln" d="M887,169.2 V178.8 M895,185 H905 M895,187.4 H905 M895,193 H905 M895,195 H905"/>
<!-- laterals -->
<rect class="k" x="859.4" y="200.4" width="79.6" height="7.6" rx="3.2"/>
<ellipse cx="860.8" cy="204.2" rx="1.1" ry="2.6" fill="#fff"/><ellipse cx="937.6" cy="204.2" rx="1.1" ry="2.6" fill="#fff"/>
<circle cx="883.4" cy="204.2" r="2.8" fill="#fff"/><circle cx="915.7" cy="204.2" r="2.8" fill="#fff"/>
<path class="k" d="M888,198.6 h23.5 v10 h-3.6 v2 h-16.4 v-2 h-3.5 z"/>
<path d="M898.6,200.4 h2.4 l-.5,5.6 h1.6 v1.2 h-4.6 v-1.2 h1.6 z" fill="#fff"/>
<path d="M892,208 h15.6" stroke="#fff" stroke-width=".5"/>
<path class="w" d="M895.8,210.6 h8.2 v7.4 h-8.2 z"/>
<path class="dim" d="M909.4,123.1 H974.3 M969.1,123.1 V152.5 M969.1,171 V200 M860,200 H974.3"/>
<!-- base -->
<path class="w" d="M857.6,221.3 L944.2,221.3 L956,236.6 L846.8,236.6 Z"/>
<path class="ln" d="M860,221.3 L851.6,236.6 M862.6,221.3 L855,236.6 M869,221.3 L863.4,236.6 M871.4,221.3 L866.4,236.6 M875.4,221.3 L871.6,236.6 M877.8,221.3 L874.6,236.6 M893.4,221.3 L892.4,236.6 M895.6,221.3 L895,236.6"/>
<path class="ln" stroke-dasharray="1.4 1.1" d="M904.6,221.3 L905.2,236.6 M907,221.3 L908.2,236.6 M924.6,221.3 L928.4,236.6 M927,221.3 L931.4,236.6 M931.4,221.3 L937,236.6 M933.8,221.3 L940,236.6 M939.6,221.3 L948.6,236.6 M942,221.3 L952.2,236.6"/>
<path d="M846.4,238.2 H956.4" stroke="#2b2b2b" stroke-width="3" fill="none"/>
<!-- drain plug -->
<g transform="rotate(-24 837 206)"><rect class="w" x="832.6" y="201" width="7.6" height="10.4" rx="1.2"/><path class="ln" d="M832.6,204.4 h7.6 M832.6,208 h7.6 M836.4,201 v10.4"/></g>
<!-- nuts -->
<rect class="k" x="823.7" y="130.2" width="11.6" height="19.5" rx="1.3"/><path d="M826.2,138.2 h3.2 M826.2,141.8 h3.2" stroke="#e8e8e8" stroke-width=".9" fill="none"/><path d="M826.2,134.6 h3.2 M826.2,145.4 h3.2" stroke="#8a8a8a" stroke-width=".8" fill="none"/><path d="M832.8,133 v14" stroke="#9a9a9a" stroke-width=".9" fill="none" stroke-dasharray=".9 2.5"/><path d="M831,130.2 v19.5" stroke="#888" stroke-width=".5"/>
<rect class="k" x="823.7" y="164.3" width="11.6" height="19.9" rx="1.3"/><path d="M826.2,172.4 h3.2 M826.2,176 h3.2" stroke="#e8e8e8" stroke-width=".9" fill="none"/><path d="M826.2,168.8 h3.2 M826.2,179.6 h3.2" stroke="#8a8a8a" stroke-width=".8" fill="none"/><path d="M832.8,167 v14" stroke="#9a9a9a" stroke-width=".9" fill="none" stroke-dasharray=".9 2.5"/><path d="M831,164.3 v19.9" stroke="#888" stroke-width=".5"/>
<!-- valve -->
<path class="w" d="M757.2,88.4 L758.4,86.4 C759,85.4 760,85.2 761,85.4 L770.6,88 C772,88.6 772.4,89.6 771.8,90.8 L771.2,92.2 C780,95.6 787,98.4 790.4,100.2 L794.6,99.4 L797.4,102.4 L798.8,104.7 L786,104.7 C782,100.4 777,96.4 770.6,94 C766.6,93 761,91.8 758,90.8 C757,90.4 756.8,89.2 757.2,88.4 Z"/>
<path class="ln" d="M786,104.7 L788.6,100 L790.4,100.2 M792,104.4 L794.6,99.4"/>
<path class="w" d="M772.7,104.7 L811,104.7 C812.6,108 813.2,112 813.2,117.5 L813.2,128 L769.7,128 L769.7,117.5 C770,112 771,108 772.7,104.7 Z"/>
<path class="ln" d="M769.7,116.7 H813.2 M770,120.2 H813 M807.6,116.7 V128"/>
<rect class="w" x="757.7" y="113.7" width="6.8" height="14.3" rx="1"/>
<path class="ln" d="M757.7,117 h6.8 M757.7,124.6 h6.8"/>
<rect class="w" x="764.5" y="119" width="5.2" height="3"/>
<rect class="k" x="766.4" y="118.4" width="1.6" height="4.2"/>
<rect class="w" x="767.5" y="128" width="48" height="4.8" style="stroke-width:1.3"/>
<path class="ln" d="M775.6,128 v4.8 M778.4,128 v4.8 M790,128 v4.8 M792.8,128 v4.8 M803,128 v4.8 M805.8,128 v4.8 M769.6,129.6 h44"/>
<path class="w" d="M772,132.8 L818.5,132.8 L818.5,134 L823.7,134 L823.7,145.2 L818.5,145.2 L818.5,146 L790.6,146 L788,149.3 L772,149.3 Z"/>
<path class="ln" d="M818.5,134 V145.2 M809.4,132.8 C808.2,137 808.2,142 809.4,146"/>
<path class="w" d="M773.5,149.3 h14.2 v4.9 h-14.2 z"/>
<path class="w" d="M775,154.2 L786.2,154.2 L786.2,168.5 L815.5,168.5 L815.5,169.4 L823.7,169.4 L823.7,179.8 L815.5,179.8 L815.5,180.7 L781,180.7 C777,180.7 775,178.4 775,174.6 Z"/>
<path class="ln" d="M815.5,169.4 V179.8 M786.2,168.5 L780.4,174.4 L780.4,180.7 M780.4,174.4 L775,174.4"/>
<circle class="w" cx="799.7" cy="120.5" r="8" style="stroke-width:.9"/><circle class="ln" cx="799.7" cy="120.5" r="6" style="stroke-width:1.5"/><circle cx="799.7" cy="120.5" r=".6" fill="#333"/>
<circle class="w" cx="782.5" cy="140.3" r="8" style="stroke-width:.9"/><circle class="ln" cx="782.5" cy="140.3" r="6" style="stroke-width:1.5"/><circle cx="782.5" cy="140.3" r=".6" fill="#333"/>
<path class="dim" d="M769.7,120.6 H799.7 M748.3,140.4 H782.5"/>
<!-- letters -->
<text class="lt" x="729.29" y="187.2" font-size="20">B</text>
<text class="lt" x="749.24" y="198.1" font-size="20">A</text>
<text class="lt" x="961.94" y="169.2" font-size="20">D</text>
<text class="lt" transform="translate(976.76,167.3) scale(1.2,1)" font-size="20">C</text>
<text class="lt" x="895.94" y="254.7" font-size="18">F</text>
<text class="lt" x="895.24" y="274.2" font-size="18.6">E</text>
<text class="cap" x="841.3" y="306.7" font-size="16.4" textLength="92.5" lengthAdjust="spacingAndGlyphs">S1000-S1200</text>
</g>

</svg>
<table id="spec">
<colgroup><col style="width:60.75px"><col style="width:60.75px"><col style="width:60.75px"><col style="width:60.75px"><col style="width:60.75px"><col style="width:60.75px"><col style="width:60.75px"><col style="width:60.75px"></colgroup>
<thead><tr><th class="m"><div><span>Model No</span></div></th>
<th><div><span>A<br>mm</span></div></th>
<th><div><span>B<br>mm</span></div></th>
<th><div><span>C<br>mm</span></div></th>
<th><div><span>D<br>mm</span></div></th>
<th><div><span>E<br>mm</span></div></th>
<th><div><span>F<br>mm</span></div></th>
<th><div><span>G<br>mm</span></div></th>
</tr></thead>
<tbody>
<tr class="gap"><td>S450</td><td>360</td><td>420</td><td>730</td><td>210</td><td>455</td><td>390</td><td>125</td></tr>
<tr><td>S500</td><td>390</td><td>450</td><td>770</td><td>235</td><td>535</td><td>500</td><td>125</td></tr>
<tr><td>S650</td><td>430</td><td>490</td><td>850</td><td>300</td><td>635</td><td>500</td><td>125</td></tr>
<tr><td>S700</td><td>450</td><td>510</td><td>960</td><td>330</td><td>710</td><td>500</td><td>125</td></tr>
<tr><td>S700(B)</td><td>520</td><td>606</td><td>890</td><td>390</td><td>723</td><td>500</td><td>220</td></tr>
<tr><td>S800</td><td>560</td><td>646</td><td>1050</td><td>425</td><td>820</td><td>780</td><td>220</td></tr>
<tr><td>S900</td><td>610</td><td>696</td><td>1180</td><td>480</td><td>920</td><td>780</td><td>220</td></tr>
<tr><td>S900(C)</td><td>673</td><td>744</td><td>1180</td><td>380</td><td>920</td><td>780</td><td>236</td></tr>
<tr><td>S1000</td><td>700</td><td>770</td><td>1220</td><td>580</td><td>1020</td><td>780</td><td>220</td></tr>
<tr><td>S1000(C)</td><td>773</td><td>844</td><td>1220</td><td>480</td><td>1020</td><td>780</td><td>236</td></tr>
<tr><td>S1200</td><td>820</td><td>1005</td><td>1410</td><td>740</td><td>1220</td><td>1000</td><td>220</td></tr>
<tr><td>S1200(C)</td><td>836</td><td>1079</td><td>1410</td><td>640</td><td>1220</td><td>1000</td><td>236</td></tr>
</tbody></table>

<svg class="layer" viewBox="0 0 1200 800" width="1200" height="800" style="pointer-events:none">
<defs>
<linearGradient id="tg" x1="0" x2="1" y1="0" y2="0">
<stop offset="0" stop-color="#8c9398"/><stop offset=".1" stop-color="#b4bbbf"/><stop offset=".3" stop-color="#abb2b6"/><stop offset=".58" stop-color="#9aa1a6"/><stop offset=".84" stop-color="#878e93"/><stop offset="1" stop-color="#6a7176"/>
</linearGradient>
<linearGradient id="tv" x1="0" x2="0" y1="0" y2="1">
<stop offset="0" stop-color="#fff" stop-opacity=".28"/><stop offset=".22" stop-color="#fff" stop-opacity=".06"/><stop offset=".7" stop-color="#000" stop-opacity="0"/><stop offset="1" stop-color="#000" stop-opacity=".22"/>
</linearGradient>
<linearGradient id="bg" x1="0" x2="1" y1="0" y2="0">
<stop offset="0" stop-color="#151515"/><stop offset=".3" stop-color="#3a3a3a"/><stop offset=".5" stop-color="#1c1c1c"/><stop offset=".75" stop-color="#2e2e2e"/><stop offset="1" stop-color="#111"/>
</linearGradient>
<linearGradient id="vg" x1="0" x2="1" y1="0" y2="0">
<stop offset="0" stop-color="#e4e4e1"/><stop offset=".35" stop-color="#fbfbf9"/><stop offset=".8" stop-color="#ecece9"/><stop offset="1" stop-color="#cfcfcb"/>
</linearGradient>
<linearGradient id="pg" x1="0" x2="0" y1="0" y2="1">
<stop offset="0" stop-color="#dcdcd8"/><stop offset=".35" stop-color="#fcfcfa"/><stop offset="1" stop-color="#c9c9c5"/>
</linearGradient>
<filter id="soft" x="-5%" y="-5%" width="110%" height="110%"><feGaussianBlur stdDeviation=".45"/></filter>
<filter id="soft2" x="-5%" y="-20%" width="110%" height="140%"><feGaussianBlur stdDeviation=".3"/></filter>
</defs>
<g filter="url(#soft)">
<!-- ===== photo 1 ===== -->
<g id="p1">
<!-- base -->
<path fill="url(#bg)" d="M437,698 L489.5,698 L492.2,709 C492.2,713.4 480,716 463.2,716 C446,716 434.2,713.4 434.2,709 Z"/>
<path d="M436,707.6 C445,711 481,711 490.6,707.6" stroke="#555" stroke-width=".6" fill="none"/>
<!-- body -->
<path fill="url(#tg)" d="M462.7,633.6 C478,633.6 490,638 494,647 C495.6,651 496,655 496,660 L496,677 C496,688 493.4,696 488,701.2 L438,701.2 C432.4,696 429.4,688 429.4,677 L429.4,660 C429.4,655 430,651 431.6,647 C435.6,638 447,633.6 462.7,633.6 Z"/>
<path fill="url(#tv)" d="M462.7,633.6 C478,633.6 490,638 494,647 C495.6,651 496,655 496,660 L496,677 C496,688 493.4,696 488,701.2 L438,701.2 C432.4,696 429.4,688 429.4,677 L429.4,660 C429.4,655 430,651 431.6,647 C435.6,638 447,633.6 462.7,633.6 Z"/>
<!-- lid -->
<ellipse cx="463" cy="633.6" rx="17.8" ry="6.3" fill="#1d1f21"/>
<ellipse cx="463.2" cy="632.4" rx="13" ry="4.2" fill="#6f7b83"/>
<ellipse cx="463.2" cy="631.8" rx="9.6" ry="2.8" fill="#93a0a8"/>
<path d="M461.8,624.4 h2.2 v11.6 h-2.2 z" fill="#7a828a"/>
<path d="M456,634.6 l7,-4.4 l8.4,3.6" stroke="#4a5056" stroke-width="1" fill="none"/>
<path d="M453.8,628.4 h1.8 v4.6 h-1.8 z" fill="#888"/>
<ellipse cx="454.7" cy="625" rx="3.8" ry="4.4" fill="#eef2f4" stroke="#9aa0a4" stroke-width=".9"/>
<circle cx="454.7" cy="625" r="1.5" fill="#bccbd3"/>
<!-- label -->
<rect x="447.3" y="671.4" width="26.8" height="12.6" fill="#f1f2f2"/>
<rect x="447.3" y="671.4" width="26.8" height="2.4" fill="#3c4246"/>
<rect x="447.9" y="671.8" width="3" height="1.5" fill="#e8e8e8"/>
<path d="M448.6,676.2 h24 M448.6,678.2 h24 M448.6,680.2 h24 M448.6,682.2 h18" stroke="#b8bcbe" stroke-width=".7"/>
<!-- unions -->
<rect x="420.4" y="653" width="10.8" height="11.6" rx="2" fill="#1a1a1a"/>
<rect x="420.4" y="668.4" width="10.8" height="11.8" rx="2" fill="#1a1a1a"/>
<path d="M423.6,653.4 v11 M427,653.4 v11 M423.6,668.8 v11 M427,668.8 v11" stroke="#444" stroke-width=".7"/>
<!-- pipes -->
<rect x="411" y="655" width="10" height="8.6" fill="url(#pg)"/>
<rect x="404" y="669.4" width="17" height="8.2" fill="url(#pg)"/>
<!-- valve body -->
<path fill="url(#vg)" d="M391,642 C391,639.6 395,638.6 401,638.6 C408,638.6 413.6,640 413.6,643 L414,664 L410,666 L409,676 C407,678.6 401,679 397.4,677.6 L396,668 C392,664 389.4,656 389.4,650 Z"/>
<path d="M396,668 C398,663 399,656 398,648 M409,650 C410,656 410,662 409,668" stroke="#c4c4c0" stroke-width=".8" fill="none"/>
<ellipse cx="404.6" cy="673.6" rx="3" ry="3.4" fill="#d2d2ce"/>
<ellipse cx="411.6" cy="644.4" rx="2.4" ry="4" fill="#e6e6e3" stroke="#c8c8c4" stroke-width=".5"/>
<ellipse cx="401.4" cy="644" rx="9" ry="3.4" fill="#1c1c1c"/>
<ellipse cx="401.4" cy="643.4" rx="6" ry="2" fill="#4c5052"/>
<circle cx="403.4" cy="641.8" r=".9" fill="#4aa3d8"/>
<!-- handle -->
<path d="M383,636.6 C382.4,635 383.4,634.2 385,634.4 C391,635 398,637.6 403,640.4 C405.6,641.8 406.8,643.4 405.4,644.2 C404,645 401,643.6 398,642 C393,639.6 388,638.6 385,638.4 C383.8,638.2 383.2,637.4 383,636.6 Z" fill="#161616"/>
</g>
<!-- ===== photo 2 ===== -->
<g id="p2">
<path fill="url(#bg)" d="M543,692 L601,692 L604.4,708 C604.4,714 592,717.4 572,717.4 C552,717.4 539.6,714 539.6,708 Z"/>
<path d="M541,705 C552,710 592,710 603,705" stroke="#555" stroke-width=".6" fill="none"/>
<path fill="url(#tg)" d="M575,624.6 C593,624.6 607,630 611.4,640 C613.2,644 613.8,649 613.8,654 L613.8,667 C613.8,680 610,690 603,695.8 L547,695.8 C540,690 536.5,680 536.5,667 L536.5,654 C536.5,649 537,644 539,640 C543.4,630 557,624.6 575,624.6 Z"/>
<path fill="url(#tv)" d="M575,624.6 C593,624.6 607,630 611.4,640 C613.2,644 613.8,649 613.8,654 L613.8,667 C613.8,680 610,690 603,695.8 L547,695.8 C540,690 536.5,680 536.5,667 L536.5,654 C536.5,649 537,644 539,640 C543.4,630 557,624.6 575,624.6 Z"/>
<!-- lid -->
<ellipse cx="575.4" cy="628.6" rx="13.4" ry="3.4" fill="#c9cdd0"/>
<path d="M562.4,627.4 C563,623 569,620.4 575.4,620.4 C582,620.4 587.8,623 588.4,627.4 C588.4,629.6 582,630.8 575.4,630.8 C569,630.8 562.4,629.6 562.4,627.4 Z" fill="#70777c"/>
<path d="M566,626 l3,-3 M571,625 l1.4,-3.4 M576,624.8 v-3.6 M581,625 l-1.4,-3.4 M585,626 l-3,-3" stroke="#596065" stroke-width=".7"/>
<path d="M570.4,618 h1.4 v3.6 h-1.4 z" fill="#777"/>
<circle cx="571" cy="616.8" r="2.4" fill="#e9eef0" stroke="#8a8f92" stroke-width=".8"/>
<path d="M581.6,618.4 h1.6 v3 h-1.6 z" fill="#333"/>
<!-- label -->
<rect x="568.4" y="664.8" width="23.8" height="12" fill="#f1f2f2"/>
<rect x="568.4" y="664.8" width="23.8" height="2.3" fill="#3c4246"/>
<rect x="569" y="665.2" width="2.8" height="1.4" fill="#e8e8e8"/>
<path d="M569.6,669.4 h21 M569.6,671.3 h21 M569.6,673.2 h21 M569.6,675.1 h15" stroke="#b8bcbe" stroke-width=".7"/>
<!-- unions -->
<rect x="528.4" y="645" width="8.8" height="11.2" rx="1.8" fill="#1a1a1a"/>
<rect x="528.4" y="663.8" width="8.8" height="11.2" rx="1.8" fill="#1a1a1a"/>
<path d="M531.4,645.4 v10.4 M534.2,645.4 v10.4 M531.4,664.2 v10.4 M534.2,664.2 v10.4" stroke="#444" stroke-width=".6"/>
<!-- pipes -->
<rect x="520" y="647" width="8.8" height="7.6" fill="url(#pg)"/>
<rect x="508.8" y="665.6" width="20" height="7" fill="url(#pg)"/>
<path d="M508.8,655 L514.6,653 L514.6,672.6 L508.8,672.6 Z" fill="url(#vg)"/>
<!-- valve -->
<path fill="url(#vg)" d="M503.6,636 C503.6,633.4 507,632 512.4,632 C518,632 522.6,633.4 522.6,636 L522.8,652 L519,654.6 L516,660 C514,661.6 510,661.4 508.6,660 L507.6,654 C504,651 502.4,647 502.4,642 Z"/>
<ellipse cx="508.6" cy="646.6" rx="2.6" ry="2.8" fill="#d9e4ea" stroke="#b9bdbf" stroke-width=".5"/>
<path d="M509,655 C512,652 516,648 517,642" stroke="#c4c4c0" stroke-width=".8" fill="none"/>
<ellipse cx="512.6" cy="634.4" rx="7" ry="2.6" fill="#1c1c1c"/>
<ellipse cx="512.6" cy="634" rx="4.4" ry="1.5" fill="#4c5052"/>
<path d="M505.2,626.6 C505,625.4 506,625 507.4,625.4 C510,626.2 512,628 512.6,630.4 L513,633.4 L510.4,633.4 L509.8,630.6 C509,629 507.4,628.2 506,627.8 C505.4,627.6 505.2,627.2 505.2,626.6 Z" fill="#161616"/>
</g>
<!-- ===== photo 3 ===== -->
<g id="p3">
<path fill="url(#bg)" d="M663,697 L720,697 L722.6,708 C722.6,713.4 710,716.4 691.6,716.4 C673,716.4 660.6,713.4 660.6,708 Z"/>
<path d="M662,705.6 C672,710 711,710 721.4,705.6" stroke="#555" stroke-width=".6" fill="none"/>
<path fill="url(#tg)" d="M693.4,617.2 C712,617.2 728,621 733,631 C735.6,636 736.6,642 736.6,648 L736.6,667 C736.6,682 731,694 722.5,700.4 L664.5,700.4 C656,694 650.3,682 650.3,667 L650.3,648 C650.3,642 651.2,636 654,631 C659,621 675,617.2 693.4,617.2 Z"/>
<path fill="url(#tv)" d="M693.4,617.2 C712,617.2 728,621 733,631 C735.6,636 736.6,642 736.6,648 L736.6,667 C736.6,682 731,694 722.5,700.4 L664.5,700.4 C656,694 650.3,682 650.3,667 L650.3,648 C650.3,642 651.2,636 654,631 C659,621 675,617.2 693.4,617.2 Z"/>
<ellipse cx="693.6" cy="621.4" rx="21.6" ry="3.9" fill="#b9bfc3"/>
<ellipse cx="693.6" cy="622" rx="18" ry="2.8" fill="#a4aaae"/>
<path d="M692,611.4 h2.2 v7 h-2.2 z" fill="#2a2a2a"/>
<path d="M690.4,618 L698,618 L698.6,625.6 L692.6,625.6 Z" fill="#1c1c1c"/>
<!-- label -->
<rect x="681.3" y="664.8" width="24.4" height="12" fill="#f1f2f2"/>
<rect x="681.3" y="664.8" width="24.4" height="2.3" fill="#3c4246"/>
<rect x="681.9" y="665.2" width="2.8" height="1.4" fill="#e8e8e8"/>
<path d="M682.5,669.4 h21.6 M682.5,671.3 h21.6 M682.5,673.2 h21.6 M682.5,675.1 h15" stroke="#b8bcbe" stroke-width=".7"/>
<!-- unions -->
<rect x="644.6" y="647.8" width="6.4" height="8.6" rx="1.5" fill="#1a1a1a"/>
<rect x="644.6" y="663.8" width="6.4" height="8.6" rx="1.5" fill="#1a1a1a"/>
<!-- pipes -->
<rect x="638" y="649.4" width="7" height="5.6" fill="url(#pg)"/>
<rect x="630.6" y="665" width="14.4" height="5.6" fill="url(#pg)"/>
<path d="M630.6,657 L635,655.6 L635,670.6 L630.6,670.6 Z" fill="url(#vg)"/>
<!-- valve -->
<path fill="url(#vg)" d="M624.4,642 C624.4,639.6 627.6,638.4 632.4,638.4 C637.4,638.4 640.8,639.6 640.8,642 L641,655 L637.6,657.4 L635,662 C633.4,663.6 630,663.4 628.8,662 L628,657 C625,654.4 623.4,651 623.4,647 Z"/>
<ellipse cx="628.6" cy="650.6" rx="2.2" ry="2.4" fill="#d9e4ea" stroke="#b9bdbf" stroke-width=".5"/>
<ellipse cx="632.6" cy="640.4" rx="6" ry="2.2" fill="#1c1c1c"/>
<ellipse cx="632.6" cy="640" rx="3.8" ry="1.3" fill="#4c5052"/>
<path d="M618.6,636.6 C618.2,635.4 619,634.8 620.4,635 C625,635.6 630,637.4 633,639.4 C634.4,640.4 634.6,641.6 633.6,642 C632.4,642.4 630.4,641.4 628,640.2 C625,638.8 622,638.2 620,638 C619.2,637.8 618.8,637.2 618.6,636.6 Z" fill="#161616"/>
</g>
</g>
<!-- faint watermark strokes crossing the table header -->
<g fill="none" stroke="#fff" stroke-opacity=".6" stroke-width="3.2" stroke-linecap="round" filter="url(#soft)">
<path d="M621,372 C622,365 625,360 629,358 C633,356 637,356.4 640,355.6"/>
<path d="M657,349.5 C657.6,356 659,362 662,366 C667,371 676,372 684,372"/>
<path d="M685,349.5 C682,355 677,361 670.5,365"/>
<path d="M696,372 C698,368 701,365 704,363"/>
<path d="M708,351 C712,354 715,357 718.5,360 C723,357.6 727,355 730.5,352.5"/>
<path d="M718.5,360 C715,362 712,363.6 709,364.6"/>
</g>
<!-- watermark fading over table cells -->
<g fill="#fff" filter="url(#soft)">
<ellipse cx="617" cy="402" rx="7" ry="4.5" fill-opacity="0.6"/><ellipse cx="618.5" cy="418" rx="6" ry="4.5" fill-opacity="0.6"/><ellipse cx="559" cy="402" rx="3.6" ry="4.5" fill-opacity="0.6"/><ellipse cx="545.5" cy="418" rx="3.4" ry="4.5" fill-opacity="0.55"/><ellipse cx="546.5" cy="434" rx="4" ry="4.5" fill-opacity="0.6"/><ellipse cx="498.5" cy="434" rx="4" ry="4.5" fill-opacity="0.5"/><ellipse cx="559" cy="450" rx="3.4" ry="4.5" fill-opacity="0.3"/><ellipse cx="437.5" cy="466" rx="3.2" ry="4.5" fill-opacity="0.35"/><ellipse cx="489.5" cy="466" rx="6" ry="4.5" fill-opacity="0.55"/><ellipse cx="429" cy="482" rx="5.4" ry="4.5" fill-opacity="0.55"/><ellipse cx="387" cy="498" rx="3.2" ry="5" fill-opacity="0.5"/><ellipse cx="435.5" cy="498" rx="5.4" ry="4.5" fill-opacity="0.45"/><ellipse cx="355" cy="466.5" rx="3" ry="4" fill-opacity="0.25"/><ellipse cx="366.5" cy="530" rx="5" ry="4.5" fill-opacity="0.5"/><ellipse cx="373.5" cy="546" rx="6" ry="4.5" fill-opacity="0.55"/><ellipse cx="356.5" cy="562" rx="6" ry="4.5" fill-opacity="0.5"/><ellipse cx="587" cy="408.8" rx="17" ry="1.6" fill-opacity="0.7"/><ellipse cx="620" cy="424.9" rx="9" ry="1.6" fill-opacity="0.7"/><ellipse cx="511" cy="441" rx="11" ry="1.6" fill-opacity="0.7"/><ellipse cx="580" cy="441" rx="20" ry="1.6" fill-opacity="0.6"/><ellipse cx="444" cy="457" rx="9" ry="1.6" fill-opacity="0.6"/><ellipse cx="412" cy="473.3" rx="11" ry="1.6" fill-opacity="0.6"/><ellipse cx="395" cy="489.5" rx="10" ry="1.6" fill-opacity="0.5"/><ellipse cx="352" cy="505.5" rx="10" ry="1.6" fill-opacity="0.6"/><ellipse cx="354" cy="521.5" rx="6" ry="1.6" fill-opacity="0.6"/><ellipse cx="405" cy="521.5" rx="17" ry="1.6" fill-opacity="0.6"/><ellipse cx="380" cy="537.7" rx="9" ry="1.6" fill-opacity="0.6"/><ellipse cx="346" cy="553.8" rx="6" ry="1.6" fill-opacity="0.6"/>
</g>
<g class="cap" style="fill:#707070" font-size="8.4" filter="url(#soft2)">
<text x="443.1" y="732.3" textLength="39" lengthAdjust="spacingAndGlyphs">S450-S700</text>
<text x="547.8" y="732.6" textLength="50" lengthAdjust="spacingAndGlyphs">S700(B)-S900</text>
<text x="667.2" y="732.7" textLength="49.3" lengthAdjust="spacingAndGlyphs">S1000-S1200</text>
</g>

</svg>
</body>
</html>
